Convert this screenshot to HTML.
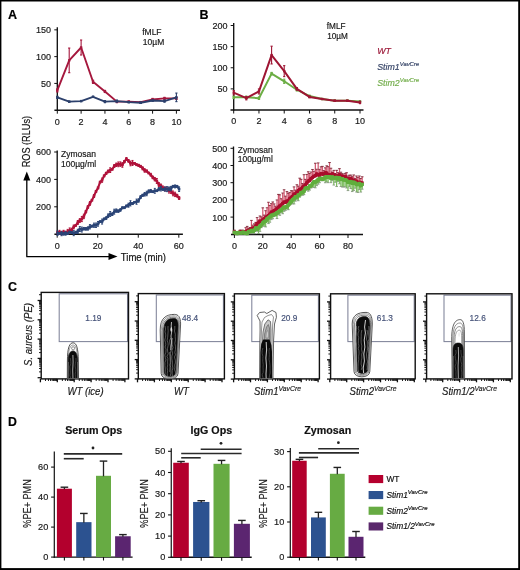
<!DOCTYPE html>
<html><head><meta charset="utf-8"><style>
html,body{margin:0;padding:0;background:#fff;}
svg{display:block;font-family:"Liberation Sans", sans-serif;filter:blur(0.5px);}
</style></head><body>
<svg width="520" height="570" viewBox="0 0 520 570">
<rect x="0" y="0" width="520" height="570" fill="#fff"/>
<text x="8.00" y="18.70" font-size="12.5" text-anchor="start" font-weight="bold" font-style="normal" fill="#000" stroke="#000" stroke-width="0.18" >A</text>
<text x="199.50" y="18.60" font-size="12.5" text-anchor="start" font-weight="bold" font-style="normal" fill="#000" stroke="#000" stroke-width="0.18" >B</text>
<text x="8.10" y="291.30" font-size="12.4" text-anchor="start" font-weight="bold" font-style="normal" fill="#000" stroke="#000" stroke-width="0.18" >C</text>
<text x="8.00" y="426.00" font-size="12.3" text-anchor="start" font-weight="bold" font-style="normal" fill="#000" stroke="#000" stroke-width="0.18" >D</text>
<line x1="57.30" y1="27.30" x2="57.30" y2="110.70" stroke="#111" stroke-width="1.35" />
<line x1="54.30" y1="29.85" x2="57.30" y2="29.85" stroke="#111" stroke-width="1.0" />
<text x="51.10" y="33.25" font-size="9" text-anchor="end" font-weight="normal" font-style="normal" fill="#1a1a1a" stroke="#1a1a1a" stroke-width="0.18" >150</text>
<line x1="54.30" y1="56.63" x2="57.30" y2="56.63" stroke="#111" stroke-width="1.0" />
<text x="51.10" y="60.03" font-size="9" text-anchor="end" font-weight="normal" font-style="normal" fill="#1a1a1a" stroke="#1a1a1a" stroke-width="0.18" >100</text>
<line x1="54.30" y1="83.42" x2="57.30" y2="83.42" stroke="#111" stroke-width="1.0" />
<text x="51.10" y="86.82" font-size="9" text-anchor="end" font-weight="normal" font-style="normal" fill="#1a1a1a" stroke="#1a1a1a" stroke-width="0.18" >50</text>
<line x1="54.40" y1="110.20" x2="180.00" y2="110.20" stroke="#111" stroke-width="1.4" />
<line x1="57.30" y1="110.20" x2="57.30" y2="113.70" stroke="#111" stroke-width="1.0" />
<text x="57.30" y="124.50" font-size="9" text-anchor="middle" font-weight="normal" font-style="normal" fill="#1a1a1a" stroke="#1a1a1a" stroke-width="0.18" >0</text>
<line x1="81.12" y1="110.20" x2="81.12" y2="113.70" stroke="#111" stroke-width="1.0" />
<text x="81.12" y="124.50" font-size="9" text-anchor="middle" font-weight="normal" font-style="normal" fill="#1a1a1a" stroke="#1a1a1a" stroke-width="0.18" >2</text>
<line x1="104.94" y1="110.20" x2="104.94" y2="113.70" stroke="#111" stroke-width="1.0" />
<text x="104.94" y="124.50" font-size="9" text-anchor="middle" font-weight="normal" font-style="normal" fill="#1a1a1a" stroke="#1a1a1a" stroke-width="0.18" >4</text>
<line x1="128.76" y1="110.20" x2="128.76" y2="113.70" stroke="#111" stroke-width="1.0" />
<text x="128.76" y="124.50" font-size="9" text-anchor="middle" font-weight="normal" font-style="normal" fill="#1a1a1a" stroke="#1a1a1a" stroke-width="0.18" >6</text>
<line x1="152.58" y1="110.20" x2="152.58" y2="113.70" stroke="#111" stroke-width="1.0" />
<text x="152.58" y="124.50" font-size="9" text-anchor="middle" font-weight="normal" font-style="normal" fill="#1a1a1a" stroke="#1a1a1a" stroke-width="0.18" >8</text>
<line x1="176.40" y1="110.20" x2="176.40" y2="113.70" stroke="#111" stroke-width="1.0" />
<text x="176.40" y="124.50" font-size="9" text-anchor="middle" font-weight="normal" font-style="normal" fill="#1a1a1a" stroke="#1a1a1a" stroke-width="0.18" >10</text>
<polyline points="57.30,90.38 69.21,60.38 81.12,47.52 93.03,81.81 104.94,91.45 116.85,101.63 128.76,101.63 140.67,102.16 152.58,99.49 164.49,98.41 176.40,98.41" fill="none" stroke="#a5173d" stroke-width="1.9" stroke-linejoin="round" />
<line x1="57.30" y1="88.77" x2="57.30" y2="91.99" stroke="#a5173d" stroke-width="1.1" />
<line x1="56.20" y1="88.77" x2="58.40" y2="88.77" stroke="#a5173d" stroke-width="1.1" />
<line x1="56.20" y1="91.99" x2="58.40" y2="91.99" stroke="#a5173d" stroke-width="1.1" />
<line x1="69.21" y1="48.06" x2="69.21" y2="72.70" stroke="#a5173d" stroke-width="1.1" />
<line x1="68.11" y1="48.06" x2="70.31" y2="48.06" stroke="#a5173d" stroke-width="1.1" />
<line x1="68.11" y1="72.70" x2="70.31" y2="72.70" stroke="#a5173d" stroke-width="1.1" />
<line x1="81.12" y1="40.02" x2="81.12" y2="55.02" stroke="#a5173d" stroke-width="1.1" />
<line x1="80.02" y1="40.02" x2="82.22" y2="40.02" stroke="#a5173d" stroke-width="1.1" />
<line x1="80.02" y1="55.02" x2="82.22" y2="55.02" stroke="#a5173d" stroke-width="1.1" />
<line x1="93.03" y1="80.20" x2="93.03" y2="83.42" stroke="#a5173d" stroke-width="1.1" />
<line x1="91.93" y1="80.20" x2="94.13" y2="80.20" stroke="#a5173d" stroke-width="1.1" />
<line x1="91.93" y1="83.42" x2="94.13" y2="83.42" stroke="#a5173d" stroke-width="1.1" />
<line x1="104.94" y1="90.38" x2="104.94" y2="92.52" stroke="#a5173d" stroke-width="1.1" />
<line x1="103.84" y1="90.38" x2="106.04" y2="90.38" stroke="#a5173d" stroke-width="1.1" />
<line x1="103.84" y1="92.52" x2="106.04" y2="92.52" stroke="#a5173d" stroke-width="1.1" />
<line x1="116.85" y1="100.56" x2="116.85" y2="102.70" stroke="#a5173d" stroke-width="1.1" />
<line x1="115.75" y1="100.56" x2="117.95" y2="100.56" stroke="#a5173d" stroke-width="1.1" />
<line x1="115.75" y1="102.70" x2="117.95" y2="102.70" stroke="#a5173d" stroke-width="1.1" />
<line x1="128.76" y1="101.09" x2="128.76" y2="102.16" stroke="#a5173d" stroke-width="1.1" />
<line x1="127.66" y1="101.09" x2="129.86" y2="101.09" stroke="#a5173d" stroke-width="1.1" />
<line x1="127.66" y1="102.16" x2="129.86" y2="102.16" stroke="#a5173d" stroke-width="1.1" />
<line x1="140.67" y1="101.63" x2="140.67" y2="102.70" stroke="#a5173d" stroke-width="1.1" />
<line x1="139.57" y1="101.63" x2="141.77" y2="101.63" stroke="#a5173d" stroke-width="1.1" />
<line x1="139.57" y1="102.70" x2="141.77" y2="102.70" stroke="#a5173d" stroke-width="1.1" />
<line x1="152.58" y1="98.41" x2="152.58" y2="100.56" stroke="#a5173d" stroke-width="1.1" />
<line x1="151.48" y1="98.41" x2="153.68" y2="98.41" stroke="#a5173d" stroke-width="1.1" />
<line x1="151.48" y1="100.56" x2="153.68" y2="100.56" stroke="#a5173d" stroke-width="1.1" />
<line x1="164.49" y1="97.34" x2="164.49" y2="99.49" stroke="#a5173d" stroke-width="1.1" />
<line x1="163.39" y1="97.34" x2="165.59" y2="97.34" stroke="#a5173d" stroke-width="1.1" />
<line x1="163.39" y1="99.49" x2="165.59" y2="99.49" stroke="#a5173d" stroke-width="1.1" />
<line x1="176.40" y1="97.34" x2="176.40" y2="99.49" stroke="#a5173d" stroke-width="1.1" />
<line x1="175.30" y1="97.34" x2="177.50" y2="97.34" stroke="#a5173d" stroke-width="1.1" />
<line x1="175.30" y1="99.49" x2="177.50" y2="99.49" stroke="#a5173d" stroke-width="1.1" />
<rect x="56.10" y="89.18" width="2.4" height="2.4" fill="#a5173d"/>
<rect x="68.01" y="59.18" width="2.4" height="2.4" fill="#a5173d"/>
<rect x="79.92" y="46.32" width="2.4" height="2.4" fill="#a5173d"/>
<rect x="91.83" y="80.61" width="2.4" height="2.4" fill="#a5173d"/>
<rect x="103.74" y="90.25" width="2.4" height="2.4" fill="#a5173d"/>
<rect x="115.65" y="100.43" width="2.4" height="2.4" fill="#a5173d"/>
<rect x="127.56" y="100.43" width="2.4" height="2.4" fill="#a5173d"/>
<rect x="139.47" y="100.96" width="2.4" height="2.4" fill="#a5173d"/>
<rect x="151.38" y="98.29" width="2.4" height="2.4" fill="#a5173d"/>
<rect x="163.29" y="97.21" width="2.4" height="2.4" fill="#a5173d"/>
<rect x="175.20" y="97.21" width="2.4" height="2.4" fill="#a5173d"/>
<polyline points="57.30,97.34 69.21,101.63 81.12,101.09 93.03,96.81 104.94,101.63 116.85,101.09 128.76,102.16 140.67,102.70 152.58,100.56 164.49,101.09 176.40,97.34" fill="none" stroke="#2c406c" stroke-width="1.9" stroke-linejoin="round" />
<line x1="57.30" y1="96.27" x2="57.30" y2="98.41" stroke="#2c406c" stroke-width="1.1" />
<line x1="56.20" y1="96.27" x2="58.40" y2="96.27" stroke="#2c406c" stroke-width="1.1" />
<line x1="56.20" y1="98.41" x2="58.40" y2="98.41" stroke="#2c406c" stroke-width="1.1" />
<line x1="69.21" y1="101.09" x2="69.21" y2="102.16" stroke="#2c406c" stroke-width="1.1" />
<line x1="68.11" y1="101.09" x2="70.31" y2="101.09" stroke="#2c406c" stroke-width="1.1" />
<line x1="68.11" y1="102.16" x2="70.31" y2="102.16" stroke="#2c406c" stroke-width="1.1" />
<line x1="81.12" y1="100.56" x2="81.12" y2="101.63" stroke="#2c406c" stroke-width="1.1" />
<line x1="80.02" y1="100.56" x2="82.22" y2="100.56" stroke="#2c406c" stroke-width="1.1" />
<line x1="80.02" y1="101.63" x2="82.22" y2="101.63" stroke="#2c406c" stroke-width="1.1" />
<line x1="93.03" y1="96.27" x2="93.03" y2="97.34" stroke="#2c406c" stroke-width="1.1" />
<line x1="91.93" y1="96.27" x2="94.13" y2="96.27" stroke="#2c406c" stroke-width="1.1" />
<line x1="91.93" y1="97.34" x2="94.13" y2="97.34" stroke="#2c406c" stroke-width="1.1" />
<line x1="104.94" y1="100.56" x2="104.94" y2="102.70" stroke="#2c406c" stroke-width="1.1" />
<line x1="103.84" y1="100.56" x2="106.04" y2="100.56" stroke="#2c406c" stroke-width="1.1" />
<line x1="103.84" y1="102.70" x2="106.04" y2="102.70" stroke="#2c406c" stroke-width="1.1" />
<line x1="116.85" y1="100.02" x2="116.85" y2="102.16" stroke="#2c406c" stroke-width="1.1" />
<line x1="115.75" y1="100.02" x2="117.95" y2="100.02" stroke="#2c406c" stroke-width="1.1" />
<line x1="115.75" y1="102.16" x2="117.95" y2="102.16" stroke="#2c406c" stroke-width="1.1" />
<line x1="128.76" y1="101.63" x2="128.76" y2="102.70" stroke="#2c406c" stroke-width="1.1" />
<line x1="127.66" y1="101.63" x2="129.86" y2="101.63" stroke="#2c406c" stroke-width="1.1" />
<line x1="127.66" y1="102.70" x2="129.86" y2="102.70" stroke="#2c406c" stroke-width="1.1" />
<line x1="140.67" y1="102.16" x2="140.67" y2="103.24" stroke="#2c406c" stroke-width="1.1" />
<line x1="139.57" y1="102.16" x2="141.77" y2="102.16" stroke="#2c406c" stroke-width="1.1" />
<line x1="139.57" y1="103.24" x2="141.77" y2="103.24" stroke="#2c406c" stroke-width="1.1" />
<line x1="152.58" y1="100.02" x2="152.58" y2="101.09" stroke="#2c406c" stroke-width="1.1" />
<line x1="151.48" y1="100.02" x2="153.68" y2="100.02" stroke="#2c406c" stroke-width="1.1" />
<line x1="151.48" y1="101.09" x2="153.68" y2="101.09" stroke="#2c406c" stroke-width="1.1" />
<line x1="164.49" y1="100.02" x2="164.49" y2="102.16" stroke="#2c406c" stroke-width="1.1" />
<line x1="163.39" y1="100.02" x2="165.59" y2="100.02" stroke="#2c406c" stroke-width="1.1" />
<line x1="163.39" y1="102.16" x2="165.59" y2="102.16" stroke="#2c406c" stroke-width="1.1" />
<line x1="176.40" y1="93.06" x2="176.40" y2="101.63" stroke="#2c406c" stroke-width="1.1" />
<line x1="175.30" y1="93.06" x2="177.50" y2="93.06" stroke="#2c406c" stroke-width="1.1" />
<line x1="175.30" y1="101.63" x2="177.50" y2="101.63" stroke="#2c406c" stroke-width="1.1" />
<rect x="56.10" y="96.14" width="2.4" height="2.4" fill="#2c406c"/>
<rect x="68.01" y="100.43" width="2.4" height="2.4" fill="#2c406c"/>
<rect x="79.92" y="99.89" width="2.4" height="2.4" fill="#2c406c"/>
<rect x="91.83" y="95.61" width="2.4" height="2.4" fill="#2c406c"/>
<rect x="103.74" y="100.43" width="2.4" height="2.4" fill="#2c406c"/>
<rect x="115.65" y="99.89" width="2.4" height="2.4" fill="#2c406c"/>
<rect x="127.56" y="100.96" width="2.4" height="2.4" fill="#2c406c"/>
<rect x="139.47" y="101.50" width="2.4" height="2.4" fill="#2c406c"/>
<rect x="151.38" y="99.36" width="2.4" height="2.4" fill="#2c406c"/>
<rect x="163.29" y="99.89" width="2.4" height="2.4" fill="#2c406c"/>
<rect x="175.20" y="96.14" width="2.4" height="2.4" fill="#2c406c"/>
<text x="142.20" y="34.60" font-size="8.5" text-anchor="start" font-weight="normal" font-style="normal" fill="#1a1a1a" stroke="#1a1a1a" stroke-width="0.18" >fMLF</text>
<text x="142.80" y="44.90" font-size="8.5" text-anchor="start" font-weight="normal" font-style="normal" fill="#1a1a1a" stroke="#1a1a1a" stroke-width="0.18" >10&#181;M</text>
<line x1="57.20" y1="150.50" x2="57.20" y2="234.70" stroke="#111" stroke-width="1.35" />
<line x1="54.20" y1="152.00" x2="57.20" y2="152.00" stroke="#111" stroke-width="1.0" />
<text x="51.00" y="155.40" font-size="9" text-anchor="end" font-weight="normal" font-style="normal" fill="#1a1a1a" stroke="#1a1a1a" stroke-width="0.18" >600</text>
<line x1="54.20" y1="179.40" x2="57.20" y2="179.40" stroke="#111" stroke-width="1.0" />
<text x="51.00" y="182.80" font-size="9" text-anchor="end" font-weight="normal" font-style="normal" fill="#1a1a1a" stroke="#1a1a1a" stroke-width="0.18" >400</text>
<line x1="54.20" y1="206.80" x2="57.20" y2="206.80" stroke="#111" stroke-width="1.0" />
<text x="51.00" y="210.20" font-size="9" text-anchor="end" font-weight="normal" font-style="normal" fill="#1a1a1a" stroke="#1a1a1a" stroke-width="0.18" >200</text>
<line x1="54.40" y1="234.20" x2="182.90" y2="234.20" stroke="#111" stroke-width="1.4" />
<line x1="57.20" y1="234.20" x2="57.20" y2="237.70" stroke="#111" stroke-width="1.0" />
<text x="57.20" y="248.50" font-size="9" text-anchor="middle" font-weight="normal" font-style="normal" fill="#1a1a1a" stroke="#1a1a1a" stroke-width="0.18" >0</text>
<line x1="97.74" y1="234.20" x2="97.74" y2="237.70" stroke="#111" stroke-width="1.0" />
<text x="97.74" y="248.50" font-size="9" text-anchor="middle" font-weight="normal" font-style="normal" fill="#1a1a1a" stroke="#1a1a1a" stroke-width="0.18" >20</text>
<line x1="138.28" y1="234.20" x2="138.28" y2="237.70" stroke="#111" stroke-width="1.0" />
<text x="138.28" y="248.50" font-size="9" text-anchor="middle" font-weight="normal" font-style="normal" fill="#1a1a1a" stroke="#1a1a1a" stroke-width="0.18" >40</text>
<line x1="178.82" y1="234.20" x2="178.82" y2="237.70" stroke="#111" stroke-width="1.0" />
<text x="178.82" y="248.50" font-size="9" text-anchor="middle" font-weight="normal" font-style="normal" fill="#1a1a1a" stroke="#1a1a1a" stroke-width="0.18" >60</text>
<polyline points="57.50,232.68 59.53,232.32 61.55,233.16 63.58,232.07 65.61,232.66 67.64,231.68 69.66,230.45 71.69,229.76 73.72,226.94 75.74,225.37 77.77,222.53 79.80,220.50 81.82,219.02 83.85,216.40 85.88,211.73 87.91,207.00 89.93,203.41 91.96,200.15 93.99,196.04 96.01,191.38 98.04,187.94 100.07,182.07 102.09,180.16 104.12,175.87 106.15,173.32 108.18,171.39 110.20,170.15 112.23,169.26 114.26,166.04 116.28,164.79 118.31,164.35 120.34,164.13 122.36,164.95 124.39,161.65 126.42,158.96 128.44,160.85 130.47,163.44 132.50,162.96 134.53,163.40 136.55,164.69 138.58,165.32 140.61,166.40 142.63,168.34 144.66,170.43 146.69,171.05 148.72,173.03 150.74,174.73 152.77,177.41 154.80,179.20 156.82,180.97 158.85,184.55 160.88,185.69 162.90,187.87 164.93,188.95 166.96,188.81 168.99,190.66 171.01,191.24 173.04,193.44 175.07,194.39 177.09,195.70 179.12,198.08" fill="none" stroke="#b0123a" stroke-width="2.1" stroke-linejoin="round" />
<line x1="57.50" y1="231.46" x2="57.50" y2="233.91" stroke="#b0123a" stroke-width="1.0" />
<line x1="56.50" y1="231.46" x2="58.50" y2="231.46" stroke="#b0123a" stroke-width="1.0" />
<line x1="56.50" y1="233.91" x2="58.50" y2="233.91" stroke="#b0123a" stroke-width="1.0" />
<line x1="59.53" y1="230.33" x2="59.53" y2="234.31" stroke="#b0123a" stroke-width="1.0" />
<line x1="58.53" y1="230.33" x2="60.53" y2="230.33" stroke="#b0123a" stroke-width="1.0" />
<line x1="58.53" y1="234.31" x2="60.53" y2="234.31" stroke="#b0123a" stroke-width="1.0" />
<line x1="61.55" y1="231.37" x2="61.55" y2="234.95" stroke="#b0123a" stroke-width="1.0" />
<line x1="60.55" y1="231.37" x2="62.55" y2="231.37" stroke="#b0123a" stroke-width="1.0" />
<line x1="60.55" y1="234.95" x2="62.55" y2="234.95" stroke="#b0123a" stroke-width="1.0" />
<line x1="63.58" y1="230.31" x2="63.58" y2="233.83" stroke="#b0123a" stroke-width="1.0" />
<line x1="62.58" y1="230.31" x2="64.58" y2="230.31" stroke="#b0123a" stroke-width="1.0" />
<line x1="62.58" y1="233.83" x2="64.58" y2="233.83" stroke="#b0123a" stroke-width="1.0" />
<line x1="65.61" y1="231.15" x2="65.61" y2="234.17" stroke="#b0123a" stroke-width="1.0" />
<line x1="64.61" y1="231.15" x2="66.61" y2="231.15" stroke="#b0123a" stroke-width="1.0" />
<line x1="64.61" y1="234.17" x2="66.61" y2="234.17" stroke="#b0123a" stroke-width="1.0" />
<line x1="67.64" y1="229.40" x2="67.64" y2="233.96" stroke="#b0123a" stroke-width="1.0" />
<line x1="66.64" y1="229.40" x2="68.64" y2="229.40" stroke="#b0123a" stroke-width="1.0" />
<line x1="66.64" y1="233.96" x2="68.64" y2="233.96" stroke="#b0123a" stroke-width="1.0" />
<line x1="69.66" y1="227.96" x2="69.66" y2="232.94" stroke="#b0123a" stroke-width="1.0" />
<line x1="68.66" y1="227.96" x2="70.66" y2="227.96" stroke="#b0123a" stroke-width="1.0" />
<line x1="68.66" y1="232.94" x2="70.66" y2="232.94" stroke="#b0123a" stroke-width="1.0" />
<line x1="71.69" y1="228.21" x2="71.69" y2="231.31" stroke="#b0123a" stroke-width="1.0" />
<line x1="70.69" y1="228.21" x2="72.69" y2="228.21" stroke="#b0123a" stroke-width="1.0" />
<line x1="70.69" y1="231.31" x2="72.69" y2="231.31" stroke="#b0123a" stroke-width="1.0" />
<line x1="73.72" y1="225.02" x2="73.72" y2="228.87" stroke="#b0123a" stroke-width="1.0" />
<line x1="72.72" y1="225.02" x2="74.72" y2="225.02" stroke="#b0123a" stroke-width="1.0" />
<line x1="72.72" y1="228.87" x2="74.72" y2="228.87" stroke="#b0123a" stroke-width="1.0" />
<line x1="75.74" y1="224.65" x2="75.74" y2="226.09" stroke="#b0123a" stroke-width="1.0" />
<line x1="74.74" y1="224.65" x2="76.74" y2="224.65" stroke="#b0123a" stroke-width="1.0" />
<line x1="74.74" y1="226.09" x2="76.74" y2="226.09" stroke="#b0123a" stroke-width="1.0" />
<line x1="77.77" y1="220.53" x2="77.77" y2="224.54" stroke="#b0123a" stroke-width="1.0" />
<line x1="76.77" y1="220.53" x2="78.77" y2="220.53" stroke="#b0123a" stroke-width="1.0" />
<line x1="76.77" y1="224.54" x2="78.77" y2="224.54" stroke="#b0123a" stroke-width="1.0" />
<line x1="79.80" y1="218.61" x2="79.80" y2="222.40" stroke="#b0123a" stroke-width="1.0" />
<line x1="78.80" y1="218.61" x2="80.80" y2="218.61" stroke="#b0123a" stroke-width="1.0" />
<line x1="78.80" y1="222.40" x2="80.80" y2="222.40" stroke="#b0123a" stroke-width="1.0" />
<line x1="81.82" y1="216.44" x2="81.82" y2="221.61" stroke="#b0123a" stroke-width="1.0" />
<line x1="80.82" y1="216.44" x2="82.82" y2="216.44" stroke="#b0123a" stroke-width="1.0" />
<line x1="80.82" y1="221.61" x2="82.82" y2="221.61" stroke="#b0123a" stroke-width="1.0" />
<line x1="83.85" y1="214.16" x2="83.85" y2="218.65" stroke="#b0123a" stroke-width="1.0" />
<line x1="82.85" y1="214.16" x2="84.85" y2="214.16" stroke="#b0123a" stroke-width="1.0" />
<line x1="82.85" y1="218.65" x2="84.85" y2="218.65" stroke="#b0123a" stroke-width="1.0" />
<line x1="85.88" y1="210.56" x2="85.88" y2="212.90" stroke="#b0123a" stroke-width="1.0" />
<line x1="84.88" y1="210.56" x2="86.88" y2="210.56" stroke="#b0123a" stroke-width="1.0" />
<line x1="84.88" y1="212.90" x2="86.88" y2="212.90" stroke="#b0123a" stroke-width="1.0" />
<line x1="87.91" y1="205.63" x2="87.91" y2="208.37" stroke="#b0123a" stroke-width="1.0" />
<line x1="86.91" y1="205.63" x2="88.91" y2="205.63" stroke="#b0123a" stroke-width="1.0" />
<line x1="86.91" y1="208.37" x2="88.91" y2="208.37" stroke="#b0123a" stroke-width="1.0" />
<line x1="89.93" y1="201.47" x2="89.93" y2="205.35" stroke="#b0123a" stroke-width="1.0" />
<line x1="88.93" y1="201.47" x2="90.93" y2="201.47" stroke="#b0123a" stroke-width="1.0" />
<line x1="88.93" y1="205.35" x2="90.93" y2="205.35" stroke="#b0123a" stroke-width="1.0" />
<line x1="91.96" y1="199.50" x2="91.96" y2="200.79" stroke="#b0123a" stroke-width="1.0" />
<line x1="90.96" y1="199.50" x2="92.96" y2="199.50" stroke="#b0123a" stroke-width="1.0" />
<line x1="90.96" y1="200.79" x2="92.96" y2="200.79" stroke="#b0123a" stroke-width="1.0" />
<line x1="93.99" y1="194.52" x2="93.99" y2="197.56" stroke="#b0123a" stroke-width="1.0" />
<line x1="92.99" y1="194.52" x2="94.99" y2="194.52" stroke="#b0123a" stroke-width="1.0" />
<line x1="92.99" y1="197.56" x2="94.99" y2="197.56" stroke="#b0123a" stroke-width="1.0" />
<line x1="96.01" y1="190.45" x2="96.01" y2="192.32" stroke="#b0123a" stroke-width="1.0" />
<line x1="95.01" y1="190.45" x2="97.01" y2="190.45" stroke="#b0123a" stroke-width="1.0" />
<line x1="95.01" y1="192.32" x2="97.01" y2="192.32" stroke="#b0123a" stroke-width="1.0" />
<line x1="98.04" y1="187.11" x2="98.04" y2="188.77" stroke="#b0123a" stroke-width="1.0" />
<line x1="97.04" y1="187.11" x2="99.04" y2="187.11" stroke="#b0123a" stroke-width="1.0" />
<line x1="97.04" y1="188.77" x2="99.04" y2="188.77" stroke="#b0123a" stroke-width="1.0" />
<line x1="100.07" y1="181.35" x2="100.07" y2="182.79" stroke="#b0123a" stroke-width="1.0" />
<line x1="99.07" y1="181.35" x2="101.07" y2="181.35" stroke="#b0123a" stroke-width="1.0" />
<line x1="99.07" y1="182.79" x2="101.07" y2="182.79" stroke="#b0123a" stroke-width="1.0" />
<line x1="102.09" y1="178.02" x2="102.09" y2="182.29" stroke="#b0123a" stroke-width="1.0" />
<line x1="101.09" y1="178.02" x2="103.09" y2="178.02" stroke="#b0123a" stroke-width="1.0" />
<line x1="101.09" y1="182.29" x2="103.09" y2="182.29" stroke="#b0123a" stroke-width="1.0" />
<line x1="104.12" y1="175.01" x2="104.12" y2="176.73" stroke="#b0123a" stroke-width="1.0" />
<line x1="103.12" y1="175.01" x2="105.12" y2="175.01" stroke="#b0123a" stroke-width="1.0" />
<line x1="103.12" y1="176.73" x2="105.12" y2="176.73" stroke="#b0123a" stroke-width="1.0" />
<line x1="106.15" y1="172.23" x2="106.15" y2="174.42" stroke="#b0123a" stroke-width="1.0" />
<line x1="105.15" y1="172.23" x2="107.15" y2="172.23" stroke="#b0123a" stroke-width="1.0" />
<line x1="105.15" y1="174.42" x2="107.15" y2="174.42" stroke="#b0123a" stroke-width="1.0" />
<line x1="108.18" y1="170.01" x2="108.18" y2="172.78" stroke="#b0123a" stroke-width="1.0" />
<line x1="107.18" y1="170.01" x2="109.18" y2="170.01" stroke="#b0123a" stroke-width="1.0" />
<line x1="107.18" y1="172.78" x2="109.18" y2="172.78" stroke="#b0123a" stroke-width="1.0" />
<line x1="110.20" y1="167.81" x2="110.20" y2="172.50" stroke="#b0123a" stroke-width="1.0" />
<line x1="109.20" y1="167.81" x2="111.20" y2="167.81" stroke="#b0123a" stroke-width="1.0" />
<line x1="109.20" y1="172.50" x2="111.20" y2="172.50" stroke="#b0123a" stroke-width="1.0" />
<line x1="112.23" y1="168.50" x2="112.23" y2="170.02" stroke="#b0123a" stroke-width="1.0" />
<line x1="111.23" y1="168.50" x2="113.23" y2="168.50" stroke="#b0123a" stroke-width="1.0" />
<line x1="111.23" y1="170.02" x2="113.23" y2="170.02" stroke="#b0123a" stroke-width="1.0" />
<line x1="114.26" y1="164.55" x2="114.26" y2="167.54" stroke="#b0123a" stroke-width="1.0" />
<line x1="113.26" y1="164.55" x2="115.26" y2="164.55" stroke="#b0123a" stroke-width="1.0" />
<line x1="113.26" y1="167.54" x2="115.26" y2="167.54" stroke="#b0123a" stroke-width="1.0" />
<line x1="116.28" y1="163.09" x2="116.28" y2="166.49" stroke="#b0123a" stroke-width="1.0" />
<line x1="115.28" y1="163.09" x2="117.28" y2="163.09" stroke="#b0123a" stroke-width="1.0" />
<line x1="115.28" y1="166.49" x2="117.28" y2="166.49" stroke="#b0123a" stroke-width="1.0" />
<line x1="118.31" y1="161.98" x2="118.31" y2="166.71" stroke="#b0123a" stroke-width="1.0" />
<line x1="117.31" y1="161.98" x2="119.31" y2="161.98" stroke="#b0123a" stroke-width="1.0" />
<line x1="117.31" y1="166.71" x2="119.31" y2="166.71" stroke="#b0123a" stroke-width="1.0" />
<line x1="120.34" y1="161.89" x2="120.34" y2="166.37" stroke="#b0123a" stroke-width="1.0" />
<line x1="119.34" y1="161.89" x2="121.34" y2="161.89" stroke="#b0123a" stroke-width="1.0" />
<line x1="119.34" y1="166.37" x2="121.34" y2="166.37" stroke="#b0123a" stroke-width="1.0" />
<line x1="122.36" y1="162.62" x2="122.36" y2="167.28" stroke="#b0123a" stroke-width="1.0" />
<line x1="121.36" y1="162.62" x2="123.36" y2="162.62" stroke="#b0123a" stroke-width="1.0" />
<line x1="121.36" y1="167.28" x2="123.36" y2="167.28" stroke="#b0123a" stroke-width="1.0" />
<line x1="124.39" y1="160.49" x2="124.39" y2="162.81" stroke="#b0123a" stroke-width="1.0" />
<line x1="123.39" y1="160.49" x2="125.39" y2="160.49" stroke="#b0123a" stroke-width="1.0" />
<line x1="123.39" y1="162.81" x2="125.39" y2="162.81" stroke="#b0123a" stroke-width="1.0" />
<line x1="126.42" y1="157.53" x2="126.42" y2="160.39" stroke="#b0123a" stroke-width="1.0" />
<line x1="125.42" y1="157.53" x2="127.42" y2="157.53" stroke="#b0123a" stroke-width="1.0" />
<line x1="125.42" y1="160.39" x2="127.42" y2="160.39" stroke="#b0123a" stroke-width="1.0" />
<line x1="128.44" y1="159.53" x2="128.44" y2="162.17" stroke="#b0123a" stroke-width="1.0" />
<line x1="127.44" y1="159.53" x2="129.44" y2="159.53" stroke="#b0123a" stroke-width="1.0" />
<line x1="127.44" y1="162.17" x2="129.44" y2="162.17" stroke="#b0123a" stroke-width="1.0" />
<line x1="130.47" y1="161.08" x2="130.47" y2="165.81" stroke="#b0123a" stroke-width="1.0" />
<line x1="129.47" y1="161.08" x2="131.47" y2="161.08" stroke="#b0123a" stroke-width="1.0" />
<line x1="129.47" y1="165.81" x2="131.47" y2="165.81" stroke="#b0123a" stroke-width="1.0" />
<line x1="132.50" y1="160.45" x2="132.50" y2="165.48" stroke="#b0123a" stroke-width="1.0" />
<line x1="131.50" y1="160.45" x2="133.50" y2="160.45" stroke="#b0123a" stroke-width="1.0" />
<line x1="131.50" y1="165.48" x2="133.50" y2="165.48" stroke="#b0123a" stroke-width="1.0" />
<line x1="134.53" y1="162.50" x2="134.53" y2="164.30" stroke="#b0123a" stroke-width="1.0" />
<line x1="133.53" y1="162.50" x2="135.53" y2="162.50" stroke="#b0123a" stroke-width="1.0" />
<line x1="133.53" y1="164.30" x2="135.53" y2="164.30" stroke="#b0123a" stroke-width="1.0" />
<line x1="136.55" y1="163.74" x2="136.55" y2="165.64" stroke="#b0123a" stroke-width="1.0" />
<line x1="135.55" y1="163.74" x2="137.55" y2="163.74" stroke="#b0123a" stroke-width="1.0" />
<line x1="135.55" y1="165.64" x2="137.55" y2="165.64" stroke="#b0123a" stroke-width="1.0" />
<line x1="138.58" y1="164.26" x2="138.58" y2="166.38" stroke="#b0123a" stroke-width="1.0" />
<line x1="137.58" y1="164.26" x2="139.58" y2="164.26" stroke="#b0123a" stroke-width="1.0" />
<line x1="137.58" y1="166.38" x2="139.58" y2="166.38" stroke="#b0123a" stroke-width="1.0" />
<line x1="140.61" y1="165.33" x2="140.61" y2="167.47" stroke="#b0123a" stroke-width="1.0" />
<line x1="139.61" y1="165.33" x2="141.61" y2="165.33" stroke="#b0123a" stroke-width="1.0" />
<line x1="139.61" y1="167.47" x2="141.61" y2="167.47" stroke="#b0123a" stroke-width="1.0" />
<line x1="142.63" y1="166.77" x2="142.63" y2="169.91" stroke="#b0123a" stroke-width="1.0" />
<line x1="141.63" y1="166.77" x2="143.63" y2="166.77" stroke="#b0123a" stroke-width="1.0" />
<line x1="141.63" y1="169.91" x2="143.63" y2="169.91" stroke="#b0123a" stroke-width="1.0" />
<line x1="144.66" y1="168.66" x2="144.66" y2="172.21" stroke="#b0123a" stroke-width="1.0" />
<line x1="143.66" y1="168.66" x2="145.66" y2="168.66" stroke="#b0123a" stroke-width="1.0" />
<line x1="143.66" y1="172.21" x2="145.66" y2="172.21" stroke="#b0123a" stroke-width="1.0" />
<line x1="146.69" y1="169.93" x2="146.69" y2="172.18" stroke="#b0123a" stroke-width="1.0" />
<line x1="145.69" y1="169.93" x2="147.69" y2="169.93" stroke="#b0123a" stroke-width="1.0" />
<line x1="145.69" y1="172.18" x2="147.69" y2="172.18" stroke="#b0123a" stroke-width="1.0" />
<line x1="148.72" y1="172.42" x2="148.72" y2="173.64" stroke="#b0123a" stroke-width="1.0" />
<line x1="147.72" y1="172.42" x2="149.72" y2="172.42" stroke="#b0123a" stroke-width="1.0" />
<line x1="147.72" y1="173.64" x2="149.72" y2="173.64" stroke="#b0123a" stroke-width="1.0" />
<line x1="150.74" y1="173.29" x2="150.74" y2="176.17" stroke="#b0123a" stroke-width="1.0" />
<line x1="149.74" y1="173.29" x2="151.74" y2="173.29" stroke="#b0123a" stroke-width="1.0" />
<line x1="149.74" y1="176.17" x2="151.74" y2="176.17" stroke="#b0123a" stroke-width="1.0" />
<line x1="152.77" y1="176.07" x2="152.77" y2="178.75" stroke="#b0123a" stroke-width="1.0" />
<line x1="151.77" y1="176.07" x2="153.77" y2="176.07" stroke="#b0123a" stroke-width="1.0" />
<line x1="151.77" y1="178.75" x2="153.77" y2="178.75" stroke="#b0123a" stroke-width="1.0" />
<line x1="154.80" y1="177.47" x2="154.80" y2="180.93" stroke="#b0123a" stroke-width="1.0" />
<line x1="153.80" y1="177.47" x2="155.80" y2="177.47" stroke="#b0123a" stroke-width="1.0" />
<line x1="153.80" y1="180.93" x2="155.80" y2="180.93" stroke="#b0123a" stroke-width="1.0" />
<line x1="156.82" y1="178.47" x2="156.82" y2="183.48" stroke="#b0123a" stroke-width="1.0" />
<line x1="155.82" y1="178.47" x2="157.82" y2="178.47" stroke="#b0123a" stroke-width="1.0" />
<line x1="155.82" y1="183.48" x2="157.82" y2="183.48" stroke="#b0123a" stroke-width="1.0" />
<line x1="158.85" y1="182.57" x2="158.85" y2="186.54" stroke="#b0123a" stroke-width="1.0" />
<line x1="157.85" y1="182.57" x2="159.85" y2="182.57" stroke="#b0123a" stroke-width="1.0" />
<line x1="157.85" y1="186.54" x2="159.85" y2="186.54" stroke="#b0123a" stroke-width="1.0" />
<line x1="160.88" y1="184.06" x2="160.88" y2="187.32" stroke="#b0123a" stroke-width="1.0" />
<line x1="159.88" y1="184.06" x2="161.88" y2="184.06" stroke="#b0123a" stroke-width="1.0" />
<line x1="159.88" y1="187.32" x2="161.88" y2="187.32" stroke="#b0123a" stroke-width="1.0" />
<line x1="162.90" y1="186.03" x2="162.90" y2="189.70" stroke="#b0123a" stroke-width="1.0" />
<line x1="161.90" y1="186.03" x2="163.90" y2="186.03" stroke="#b0123a" stroke-width="1.0" />
<line x1="161.90" y1="189.70" x2="163.90" y2="189.70" stroke="#b0123a" stroke-width="1.0" />
<line x1="164.93" y1="186.99" x2="164.93" y2="190.90" stroke="#b0123a" stroke-width="1.0" />
<line x1="163.93" y1="186.99" x2="165.93" y2="186.99" stroke="#b0123a" stroke-width="1.0" />
<line x1="163.93" y1="190.90" x2="165.93" y2="190.90" stroke="#b0123a" stroke-width="1.0" />
<line x1="166.96" y1="188.10" x2="166.96" y2="189.51" stroke="#b0123a" stroke-width="1.0" />
<line x1="165.96" y1="188.10" x2="167.96" y2="188.10" stroke="#b0123a" stroke-width="1.0" />
<line x1="165.96" y1="189.51" x2="167.96" y2="189.51" stroke="#b0123a" stroke-width="1.0" />
<line x1="168.99" y1="188.26" x2="168.99" y2="193.06" stroke="#b0123a" stroke-width="1.0" />
<line x1="167.99" y1="188.26" x2="169.99" y2="188.26" stroke="#b0123a" stroke-width="1.0" />
<line x1="167.99" y1="193.06" x2="169.99" y2="193.06" stroke="#b0123a" stroke-width="1.0" />
<line x1="171.01" y1="189.08" x2="171.01" y2="193.40" stroke="#b0123a" stroke-width="1.0" />
<line x1="170.01" y1="189.08" x2="172.01" y2="189.08" stroke="#b0123a" stroke-width="1.0" />
<line x1="170.01" y1="193.40" x2="172.01" y2="193.40" stroke="#b0123a" stroke-width="1.0" />
<line x1="173.04" y1="191.09" x2="173.04" y2="195.79" stroke="#b0123a" stroke-width="1.0" />
<line x1="172.04" y1="191.09" x2="174.04" y2="191.09" stroke="#b0123a" stroke-width="1.0" />
<line x1="172.04" y1="195.79" x2="174.04" y2="195.79" stroke="#b0123a" stroke-width="1.0" />
<line x1="175.07" y1="192.20" x2="175.07" y2="196.59" stroke="#b0123a" stroke-width="1.0" />
<line x1="174.07" y1="192.20" x2="176.07" y2="192.20" stroke="#b0123a" stroke-width="1.0" />
<line x1="174.07" y1="196.59" x2="176.07" y2="196.59" stroke="#b0123a" stroke-width="1.0" />
<line x1="177.09" y1="194.32" x2="177.09" y2="197.09" stroke="#b0123a" stroke-width="1.0" />
<line x1="176.09" y1="194.32" x2="178.09" y2="194.32" stroke="#b0123a" stroke-width="1.0" />
<line x1="176.09" y1="197.09" x2="178.09" y2="197.09" stroke="#b0123a" stroke-width="1.0" />
<line x1="179.12" y1="196.68" x2="179.12" y2="199.47" stroke="#b0123a" stroke-width="1.0" />
<line x1="178.12" y1="196.68" x2="180.12" y2="196.68" stroke="#b0123a" stroke-width="1.0" />
<line x1="178.12" y1="199.47" x2="180.12" y2="199.47" stroke="#b0123a" stroke-width="1.0" />
<rect x="56.20" y="231.38" width="2.60" height="2.60" fill="#b0123a"/>
<rect x="58.23" y="231.02" width="2.60" height="2.60" fill="#b0123a"/>
<rect x="60.25" y="231.86" width="2.60" height="2.60" fill="#b0123a"/>
<rect x="62.28" y="230.77" width="2.60" height="2.60" fill="#b0123a"/>
<rect x="64.31" y="231.36" width="2.60" height="2.60" fill="#b0123a"/>
<rect x="66.34" y="230.38" width="2.60" height="2.60" fill="#b0123a"/>
<rect x="68.36" y="229.15" width="2.60" height="2.60" fill="#b0123a"/>
<rect x="70.39" y="228.46" width="2.60" height="2.60" fill="#b0123a"/>
<rect x="72.42" y="225.64" width="2.60" height="2.60" fill="#b0123a"/>
<rect x="74.44" y="224.07" width="2.60" height="2.60" fill="#b0123a"/>
<rect x="76.47" y="221.23" width="2.60" height="2.60" fill="#b0123a"/>
<rect x="78.50" y="219.20" width="2.60" height="2.60" fill="#b0123a"/>
<rect x="80.52" y="217.72" width="2.60" height="2.60" fill="#b0123a"/>
<rect x="82.55" y="215.10" width="2.60" height="2.60" fill="#b0123a"/>
<rect x="84.58" y="210.43" width="2.60" height="2.60" fill="#b0123a"/>
<rect x="86.61" y="205.70" width="2.60" height="2.60" fill="#b0123a"/>
<rect x="88.63" y="202.11" width="2.60" height="2.60" fill="#b0123a"/>
<rect x="90.66" y="198.85" width="2.60" height="2.60" fill="#b0123a"/>
<rect x="92.69" y="194.74" width="2.60" height="2.60" fill="#b0123a"/>
<rect x="94.71" y="190.08" width="2.60" height="2.60" fill="#b0123a"/>
<rect x="96.74" y="186.64" width="2.60" height="2.60" fill="#b0123a"/>
<rect x="98.77" y="180.77" width="2.60" height="2.60" fill="#b0123a"/>
<rect x="100.79" y="178.86" width="2.60" height="2.60" fill="#b0123a"/>
<rect x="102.82" y="174.57" width="2.60" height="2.60" fill="#b0123a"/>
<rect x="104.85" y="172.02" width="2.60" height="2.60" fill="#b0123a"/>
<rect x="106.88" y="170.09" width="2.60" height="2.60" fill="#b0123a"/>
<rect x="108.90" y="168.85" width="2.60" height="2.60" fill="#b0123a"/>
<rect x="110.93" y="167.96" width="2.60" height="2.60" fill="#b0123a"/>
<rect x="112.96" y="164.74" width="2.60" height="2.60" fill="#b0123a"/>
<rect x="114.98" y="163.49" width="2.60" height="2.60" fill="#b0123a"/>
<rect x="117.01" y="163.05" width="2.60" height="2.60" fill="#b0123a"/>
<rect x="119.04" y="162.83" width="2.60" height="2.60" fill="#b0123a"/>
<rect x="121.06" y="163.65" width="2.60" height="2.60" fill="#b0123a"/>
<rect x="123.09" y="160.35" width="2.60" height="2.60" fill="#b0123a"/>
<rect x="125.12" y="157.66" width="2.60" height="2.60" fill="#b0123a"/>
<rect x="127.14" y="159.55" width="2.60" height="2.60" fill="#b0123a"/>
<rect x="129.17" y="162.14" width="2.60" height="2.60" fill="#b0123a"/>
<rect x="131.20" y="161.66" width="2.60" height="2.60" fill="#b0123a"/>
<rect x="133.23" y="162.10" width="2.60" height="2.60" fill="#b0123a"/>
<rect x="135.25" y="163.39" width="2.60" height="2.60" fill="#b0123a"/>
<rect x="137.28" y="164.02" width="2.60" height="2.60" fill="#b0123a"/>
<rect x="139.31" y="165.10" width="2.60" height="2.60" fill="#b0123a"/>
<rect x="141.33" y="167.04" width="2.60" height="2.60" fill="#b0123a"/>
<rect x="143.36" y="169.13" width="2.60" height="2.60" fill="#b0123a"/>
<rect x="145.39" y="169.75" width="2.60" height="2.60" fill="#b0123a"/>
<rect x="147.41" y="171.73" width="2.60" height="2.60" fill="#b0123a"/>
<rect x="149.44" y="173.43" width="2.60" height="2.60" fill="#b0123a"/>
<rect x="151.47" y="176.11" width="2.60" height="2.60" fill="#b0123a"/>
<rect x="153.50" y="177.90" width="2.60" height="2.60" fill="#b0123a"/>
<rect x="155.52" y="179.67" width="2.60" height="2.60" fill="#b0123a"/>
<rect x="157.55" y="183.25" width="2.60" height="2.60" fill="#b0123a"/>
<rect x="159.58" y="184.39" width="2.60" height="2.60" fill="#b0123a"/>
<rect x="161.60" y="186.57" width="2.60" height="2.60" fill="#b0123a"/>
<rect x="163.63" y="187.65" width="2.60" height="2.60" fill="#b0123a"/>
<rect x="165.66" y="187.51" width="2.60" height="2.60" fill="#b0123a"/>
<rect x="167.69" y="189.36" width="2.60" height="2.60" fill="#b0123a"/>
<rect x="169.71" y="189.94" width="2.60" height="2.60" fill="#b0123a"/>
<rect x="171.74" y="192.14" width="2.60" height="2.60" fill="#b0123a"/>
<rect x="173.77" y="193.09" width="2.60" height="2.60" fill="#b0123a"/>
<rect x="175.79" y="194.40" width="2.60" height="2.60" fill="#b0123a"/>
<rect x="177.82" y="196.78" width="2.60" height="2.60" fill="#b0123a"/>
<polyline points="57.50,233.22 59.53,233.44 61.55,233.53 63.58,233.80 65.61,233.41 67.64,233.67 69.66,231.99 71.69,232.60 73.72,233.15 75.74,232.31 77.77,231.42 79.80,229.05 81.82,229.54 83.85,228.73 85.88,228.85 87.91,228.49 89.93,226.74 91.96,226.14 93.99,225.21 96.01,225.25 98.04,223.85 100.07,221.59 102.09,221.56 104.12,218.92 106.15,218.10 108.18,215.72 110.20,214.00 112.23,214.22 114.26,211.67 116.28,210.63 118.31,211.13 120.34,209.99 122.36,207.80 124.39,207.80 126.42,205.99 128.44,205.21 130.47,203.33 132.50,203.64 134.53,202.19 136.55,201.69 138.58,200.57 140.61,197.05 142.63,195.30 144.66,194.26 146.69,193.48 148.72,191.37 150.74,190.90 152.77,191.79 154.80,190.83 156.82,190.83 158.85,189.14 160.88,188.67 162.90,189.36 164.93,189.10 166.96,189.14 168.99,188.84 171.01,188.56 173.04,186.22 175.07,186.41 177.09,186.32 179.12,189.15" fill="none" stroke="#2a4476" stroke-width="2.1" stroke-linejoin="round" />
<line x1="57.50" y1="230.93" x2="57.50" y2="235.51" stroke="#2a4476" stroke-width="1.0" />
<line x1="56.50" y1="230.93" x2="58.50" y2="230.93" stroke="#2a4476" stroke-width="1.0" />
<line x1="56.50" y1="235.51" x2="58.50" y2="235.51" stroke="#2a4476" stroke-width="1.0" />
<line x1="59.53" y1="232.80" x2="59.53" y2="234.07" stroke="#2a4476" stroke-width="1.0" />
<line x1="58.53" y1="232.80" x2="60.53" y2="232.80" stroke="#2a4476" stroke-width="1.0" />
<line x1="58.53" y1="234.07" x2="60.53" y2="234.07" stroke="#2a4476" stroke-width="1.0" />
<line x1="61.55" y1="231.36" x2="61.55" y2="235.71" stroke="#2a4476" stroke-width="1.0" />
<line x1="60.55" y1="231.36" x2="62.55" y2="231.36" stroke="#2a4476" stroke-width="1.0" />
<line x1="60.55" y1="235.71" x2="62.55" y2="235.71" stroke="#2a4476" stroke-width="1.0" />
<line x1="63.58" y1="232.46" x2="63.58" y2="235.13" stroke="#2a4476" stroke-width="1.0" />
<line x1="62.58" y1="232.46" x2="64.58" y2="232.46" stroke="#2a4476" stroke-width="1.0" />
<line x1="62.58" y1="235.13" x2="64.58" y2="235.13" stroke="#2a4476" stroke-width="1.0" />
<line x1="65.61" y1="231.65" x2="65.61" y2="235.17" stroke="#2a4476" stroke-width="1.0" />
<line x1="64.61" y1="231.65" x2="66.61" y2="231.65" stroke="#2a4476" stroke-width="1.0" />
<line x1="64.61" y1="235.17" x2="66.61" y2="235.17" stroke="#2a4476" stroke-width="1.0" />
<line x1="67.64" y1="233.05" x2="67.64" y2="234.29" stroke="#2a4476" stroke-width="1.0" />
<line x1="66.64" y1="233.05" x2="68.64" y2="233.05" stroke="#2a4476" stroke-width="1.0" />
<line x1="66.64" y1="234.29" x2="68.64" y2="234.29" stroke="#2a4476" stroke-width="1.0" />
<line x1="69.66" y1="231.30" x2="69.66" y2="232.68" stroke="#2a4476" stroke-width="1.0" />
<line x1="68.66" y1="231.30" x2="70.66" y2="231.30" stroke="#2a4476" stroke-width="1.0" />
<line x1="68.66" y1="232.68" x2="70.66" y2="232.68" stroke="#2a4476" stroke-width="1.0" />
<line x1="71.69" y1="231.64" x2="71.69" y2="233.56" stroke="#2a4476" stroke-width="1.0" />
<line x1="70.69" y1="231.64" x2="72.69" y2="231.64" stroke="#2a4476" stroke-width="1.0" />
<line x1="70.69" y1="233.56" x2="72.69" y2="233.56" stroke="#2a4476" stroke-width="1.0" />
<line x1="73.72" y1="230.64" x2="73.72" y2="235.66" stroke="#2a4476" stroke-width="1.0" />
<line x1="72.72" y1="230.64" x2="74.72" y2="230.64" stroke="#2a4476" stroke-width="1.0" />
<line x1="72.72" y1="235.66" x2="74.72" y2="235.66" stroke="#2a4476" stroke-width="1.0" />
<line x1="75.74" y1="231.31" x2="75.74" y2="233.30" stroke="#2a4476" stroke-width="1.0" />
<line x1="74.74" y1="231.31" x2="76.74" y2="231.31" stroke="#2a4476" stroke-width="1.0" />
<line x1="74.74" y1="233.30" x2="76.74" y2="233.30" stroke="#2a4476" stroke-width="1.0" />
<line x1="77.77" y1="229.31" x2="77.77" y2="233.54" stroke="#2a4476" stroke-width="1.0" />
<line x1="76.77" y1="229.31" x2="78.77" y2="229.31" stroke="#2a4476" stroke-width="1.0" />
<line x1="76.77" y1="233.54" x2="78.77" y2="233.54" stroke="#2a4476" stroke-width="1.0" />
<line x1="79.80" y1="226.59" x2="79.80" y2="231.51" stroke="#2a4476" stroke-width="1.0" />
<line x1="78.80" y1="226.59" x2="80.80" y2="226.59" stroke="#2a4476" stroke-width="1.0" />
<line x1="78.80" y1="231.51" x2="80.80" y2="231.51" stroke="#2a4476" stroke-width="1.0" />
<line x1="81.82" y1="227.06" x2="81.82" y2="232.02" stroke="#2a4476" stroke-width="1.0" />
<line x1="80.82" y1="227.06" x2="82.82" y2="227.06" stroke="#2a4476" stroke-width="1.0" />
<line x1="80.82" y1="232.02" x2="82.82" y2="232.02" stroke="#2a4476" stroke-width="1.0" />
<line x1="83.85" y1="227.44" x2="83.85" y2="230.02" stroke="#2a4476" stroke-width="1.0" />
<line x1="82.85" y1="227.44" x2="84.85" y2="227.44" stroke="#2a4476" stroke-width="1.0" />
<line x1="82.85" y1="230.02" x2="84.85" y2="230.02" stroke="#2a4476" stroke-width="1.0" />
<line x1="85.88" y1="227.54" x2="85.88" y2="230.16" stroke="#2a4476" stroke-width="1.0" />
<line x1="84.88" y1="227.54" x2="86.88" y2="227.54" stroke="#2a4476" stroke-width="1.0" />
<line x1="84.88" y1="230.16" x2="86.88" y2="230.16" stroke="#2a4476" stroke-width="1.0" />
<line x1="87.91" y1="226.84" x2="87.91" y2="230.14" stroke="#2a4476" stroke-width="1.0" />
<line x1="86.91" y1="226.84" x2="88.91" y2="226.84" stroke="#2a4476" stroke-width="1.0" />
<line x1="86.91" y1="230.14" x2="88.91" y2="230.14" stroke="#2a4476" stroke-width="1.0" />
<line x1="89.93" y1="224.59" x2="89.93" y2="228.89" stroke="#2a4476" stroke-width="1.0" />
<line x1="88.93" y1="224.59" x2="90.93" y2="224.59" stroke="#2a4476" stroke-width="1.0" />
<line x1="88.93" y1="228.89" x2="90.93" y2="228.89" stroke="#2a4476" stroke-width="1.0" />
<line x1="91.96" y1="225.32" x2="91.96" y2="226.95" stroke="#2a4476" stroke-width="1.0" />
<line x1="90.96" y1="225.32" x2="92.96" y2="225.32" stroke="#2a4476" stroke-width="1.0" />
<line x1="90.96" y1="226.95" x2="92.96" y2="226.95" stroke="#2a4476" stroke-width="1.0" />
<line x1="93.99" y1="223.11" x2="93.99" y2="227.31" stroke="#2a4476" stroke-width="1.0" />
<line x1="92.99" y1="223.11" x2="94.99" y2="223.11" stroke="#2a4476" stroke-width="1.0" />
<line x1="92.99" y1="227.31" x2="94.99" y2="227.31" stroke="#2a4476" stroke-width="1.0" />
<line x1="96.01" y1="223.06" x2="96.01" y2="227.45" stroke="#2a4476" stroke-width="1.0" />
<line x1="95.01" y1="223.06" x2="97.01" y2="223.06" stroke="#2a4476" stroke-width="1.0" />
<line x1="95.01" y1="227.45" x2="97.01" y2="227.45" stroke="#2a4476" stroke-width="1.0" />
<line x1="98.04" y1="221.53" x2="98.04" y2="226.17" stroke="#2a4476" stroke-width="1.0" />
<line x1="97.04" y1="221.53" x2="99.04" y2="221.53" stroke="#2a4476" stroke-width="1.0" />
<line x1="97.04" y1="226.17" x2="99.04" y2="226.17" stroke="#2a4476" stroke-width="1.0" />
<line x1="100.07" y1="220.91" x2="100.07" y2="222.26" stroke="#2a4476" stroke-width="1.0" />
<line x1="99.07" y1="220.91" x2="101.07" y2="220.91" stroke="#2a4476" stroke-width="1.0" />
<line x1="99.07" y1="222.26" x2="101.07" y2="222.26" stroke="#2a4476" stroke-width="1.0" />
<line x1="102.09" y1="219.07" x2="102.09" y2="224.05" stroke="#2a4476" stroke-width="1.0" />
<line x1="101.09" y1="219.07" x2="103.09" y2="219.07" stroke="#2a4476" stroke-width="1.0" />
<line x1="101.09" y1="224.05" x2="103.09" y2="224.05" stroke="#2a4476" stroke-width="1.0" />
<line x1="104.12" y1="218.13" x2="104.12" y2="219.70" stroke="#2a4476" stroke-width="1.0" />
<line x1="103.12" y1="218.13" x2="105.12" y2="218.13" stroke="#2a4476" stroke-width="1.0" />
<line x1="103.12" y1="219.70" x2="105.12" y2="219.70" stroke="#2a4476" stroke-width="1.0" />
<line x1="106.15" y1="216.82" x2="106.15" y2="219.38" stroke="#2a4476" stroke-width="1.0" />
<line x1="105.15" y1="216.82" x2="107.15" y2="216.82" stroke="#2a4476" stroke-width="1.0" />
<line x1="105.15" y1="219.38" x2="107.15" y2="219.38" stroke="#2a4476" stroke-width="1.0" />
<line x1="108.18" y1="213.90" x2="108.18" y2="217.54" stroke="#2a4476" stroke-width="1.0" />
<line x1="107.18" y1="213.90" x2="109.18" y2="213.90" stroke="#2a4476" stroke-width="1.0" />
<line x1="107.18" y1="217.54" x2="109.18" y2="217.54" stroke="#2a4476" stroke-width="1.0" />
<line x1="110.20" y1="211.57" x2="110.20" y2="216.44" stroke="#2a4476" stroke-width="1.0" />
<line x1="109.20" y1="211.57" x2="111.20" y2="211.57" stroke="#2a4476" stroke-width="1.0" />
<line x1="109.20" y1="216.44" x2="111.20" y2="216.44" stroke="#2a4476" stroke-width="1.0" />
<line x1="112.23" y1="212.94" x2="112.23" y2="215.50" stroke="#2a4476" stroke-width="1.0" />
<line x1="111.23" y1="212.94" x2="113.23" y2="212.94" stroke="#2a4476" stroke-width="1.0" />
<line x1="111.23" y1="215.50" x2="113.23" y2="215.50" stroke="#2a4476" stroke-width="1.0" />
<line x1="114.26" y1="209.22" x2="114.26" y2="214.12" stroke="#2a4476" stroke-width="1.0" />
<line x1="113.26" y1="209.22" x2="115.26" y2="209.22" stroke="#2a4476" stroke-width="1.0" />
<line x1="113.26" y1="214.12" x2="115.26" y2="214.12" stroke="#2a4476" stroke-width="1.0" />
<line x1="116.28" y1="208.94" x2="116.28" y2="212.32" stroke="#2a4476" stroke-width="1.0" />
<line x1="115.28" y1="208.94" x2="117.28" y2="208.94" stroke="#2a4476" stroke-width="1.0" />
<line x1="115.28" y1="212.32" x2="117.28" y2="212.32" stroke="#2a4476" stroke-width="1.0" />
<line x1="118.31" y1="209.90" x2="118.31" y2="212.35" stroke="#2a4476" stroke-width="1.0" />
<line x1="117.31" y1="209.90" x2="119.31" y2="209.90" stroke="#2a4476" stroke-width="1.0" />
<line x1="117.31" y1="212.35" x2="119.31" y2="212.35" stroke="#2a4476" stroke-width="1.0" />
<line x1="120.34" y1="208.75" x2="120.34" y2="211.22" stroke="#2a4476" stroke-width="1.0" />
<line x1="119.34" y1="208.75" x2="121.34" y2="208.75" stroke="#2a4476" stroke-width="1.0" />
<line x1="119.34" y1="211.22" x2="121.34" y2="211.22" stroke="#2a4476" stroke-width="1.0" />
<line x1="122.36" y1="206.85" x2="122.36" y2="208.76" stroke="#2a4476" stroke-width="1.0" />
<line x1="121.36" y1="206.85" x2="123.36" y2="206.85" stroke="#2a4476" stroke-width="1.0" />
<line x1="121.36" y1="208.76" x2="123.36" y2="208.76" stroke="#2a4476" stroke-width="1.0" />
<line x1="124.39" y1="207.04" x2="124.39" y2="208.55" stroke="#2a4476" stroke-width="1.0" />
<line x1="123.39" y1="207.04" x2="125.39" y2="207.04" stroke="#2a4476" stroke-width="1.0" />
<line x1="123.39" y1="208.55" x2="125.39" y2="208.55" stroke="#2a4476" stroke-width="1.0" />
<line x1="126.42" y1="205.09" x2="126.42" y2="206.89" stroke="#2a4476" stroke-width="1.0" />
<line x1="125.42" y1="205.09" x2="127.42" y2="205.09" stroke="#2a4476" stroke-width="1.0" />
<line x1="125.42" y1="206.89" x2="127.42" y2="206.89" stroke="#2a4476" stroke-width="1.0" />
<line x1="128.44" y1="203.23" x2="128.44" y2="207.18" stroke="#2a4476" stroke-width="1.0" />
<line x1="127.44" y1="203.23" x2="129.44" y2="203.23" stroke="#2a4476" stroke-width="1.0" />
<line x1="127.44" y1="207.18" x2="129.44" y2="207.18" stroke="#2a4476" stroke-width="1.0" />
<line x1="130.47" y1="200.74" x2="130.47" y2="205.93" stroke="#2a4476" stroke-width="1.0" />
<line x1="129.47" y1="200.74" x2="131.47" y2="200.74" stroke="#2a4476" stroke-width="1.0" />
<line x1="129.47" y1="205.93" x2="131.47" y2="205.93" stroke="#2a4476" stroke-width="1.0" />
<line x1="132.50" y1="202.72" x2="132.50" y2="204.57" stroke="#2a4476" stroke-width="1.0" />
<line x1="131.50" y1="202.72" x2="133.50" y2="202.72" stroke="#2a4476" stroke-width="1.0" />
<line x1="131.50" y1="204.57" x2="133.50" y2="204.57" stroke="#2a4476" stroke-width="1.0" />
<line x1="134.53" y1="201.49" x2="134.53" y2="202.88" stroke="#2a4476" stroke-width="1.0" />
<line x1="133.53" y1="201.49" x2="135.53" y2="201.49" stroke="#2a4476" stroke-width="1.0" />
<line x1="133.53" y1="202.88" x2="135.53" y2="202.88" stroke="#2a4476" stroke-width="1.0" />
<line x1="136.55" y1="199.12" x2="136.55" y2="204.26" stroke="#2a4476" stroke-width="1.0" />
<line x1="135.55" y1="199.12" x2="137.55" y2="199.12" stroke="#2a4476" stroke-width="1.0" />
<line x1="135.55" y1="204.26" x2="137.55" y2="204.26" stroke="#2a4476" stroke-width="1.0" />
<line x1="138.58" y1="198.90" x2="138.58" y2="202.23" stroke="#2a4476" stroke-width="1.0" />
<line x1="137.58" y1="198.90" x2="139.58" y2="198.90" stroke="#2a4476" stroke-width="1.0" />
<line x1="137.58" y1="202.23" x2="139.58" y2="202.23" stroke="#2a4476" stroke-width="1.0" />
<line x1="140.61" y1="195.64" x2="140.61" y2="198.47" stroke="#2a4476" stroke-width="1.0" />
<line x1="139.61" y1="195.64" x2="141.61" y2="195.64" stroke="#2a4476" stroke-width="1.0" />
<line x1="139.61" y1="198.47" x2="141.61" y2="198.47" stroke="#2a4476" stroke-width="1.0" />
<line x1="142.63" y1="194.23" x2="142.63" y2="196.37" stroke="#2a4476" stroke-width="1.0" />
<line x1="141.63" y1="194.23" x2="143.63" y2="194.23" stroke="#2a4476" stroke-width="1.0" />
<line x1="141.63" y1="196.37" x2="143.63" y2="196.37" stroke="#2a4476" stroke-width="1.0" />
<line x1="144.66" y1="192.47" x2="144.66" y2="196.05" stroke="#2a4476" stroke-width="1.0" />
<line x1="143.66" y1="192.47" x2="145.66" y2="192.47" stroke="#2a4476" stroke-width="1.0" />
<line x1="143.66" y1="196.05" x2="145.66" y2="196.05" stroke="#2a4476" stroke-width="1.0" />
<line x1="146.69" y1="191.22" x2="146.69" y2="195.73" stroke="#2a4476" stroke-width="1.0" />
<line x1="145.69" y1="191.22" x2="147.69" y2="191.22" stroke="#2a4476" stroke-width="1.0" />
<line x1="145.69" y1="195.73" x2="147.69" y2="195.73" stroke="#2a4476" stroke-width="1.0" />
<line x1="148.72" y1="189.86" x2="148.72" y2="192.88" stroke="#2a4476" stroke-width="1.0" />
<line x1="147.72" y1="189.86" x2="149.72" y2="189.86" stroke="#2a4476" stroke-width="1.0" />
<line x1="147.72" y1="192.88" x2="149.72" y2="192.88" stroke="#2a4476" stroke-width="1.0" />
<line x1="150.74" y1="189.46" x2="150.74" y2="192.35" stroke="#2a4476" stroke-width="1.0" />
<line x1="149.74" y1="189.46" x2="151.74" y2="189.46" stroke="#2a4476" stroke-width="1.0" />
<line x1="149.74" y1="192.35" x2="151.74" y2="192.35" stroke="#2a4476" stroke-width="1.0" />
<line x1="152.77" y1="191.08" x2="152.77" y2="192.50" stroke="#2a4476" stroke-width="1.0" />
<line x1="151.77" y1="191.08" x2="153.77" y2="191.08" stroke="#2a4476" stroke-width="1.0" />
<line x1="151.77" y1="192.50" x2="153.77" y2="192.50" stroke="#2a4476" stroke-width="1.0" />
<line x1="154.80" y1="188.40" x2="154.80" y2="193.26" stroke="#2a4476" stroke-width="1.0" />
<line x1="153.80" y1="188.40" x2="155.80" y2="188.40" stroke="#2a4476" stroke-width="1.0" />
<line x1="153.80" y1="193.26" x2="155.80" y2="193.26" stroke="#2a4476" stroke-width="1.0" />
<line x1="156.82" y1="190.16" x2="156.82" y2="191.49" stroke="#2a4476" stroke-width="1.0" />
<line x1="155.82" y1="190.16" x2="157.82" y2="190.16" stroke="#2a4476" stroke-width="1.0" />
<line x1="155.82" y1="191.49" x2="157.82" y2="191.49" stroke="#2a4476" stroke-width="1.0" />
<line x1="158.85" y1="187.55" x2="158.85" y2="190.72" stroke="#2a4476" stroke-width="1.0" />
<line x1="157.85" y1="187.55" x2="159.85" y2="187.55" stroke="#2a4476" stroke-width="1.0" />
<line x1="157.85" y1="190.72" x2="159.85" y2="190.72" stroke="#2a4476" stroke-width="1.0" />
<line x1="160.88" y1="186.39" x2="160.88" y2="190.95" stroke="#2a4476" stroke-width="1.0" />
<line x1="159.88" y1="186.39" x2="161.88" y2="186.39" stroke="#2a4476" stroke-width="1.0" />
<line x1="159.88" y1="190.95" x2="161.88" y2="190.95" stroke="#2a4476" stroke-width="1.0" />
<line x1="162.90" y1="188.50" x2="162.90" y2="190.22" stroke="#2a4476" stroke-width="1.0" />
<line x1="161.90" y1="188.50" x2="163.90" y2="188.50" stroke="#2a4476" stroke-width="1.0" />
<line x1="161.90" y1="190.22" x2="163.90" y2="190.22" stroke="#2a4476" stroke-width="1.0" />
<line x1="164.93" y1="187.03" x2="164.93" y2="191.16" stroke="#2a4476" stroke-width="1.0" />
<line x1="163.93" y1="187.03" x2="165.93" y2="187.03" stroke="#2a4476" stroke-width="1.0" />
<line x1="163.93" y1="191.16" x2="165.93" y2="191.16" stroke="#2a4476" stroke-width="1.0" />
<line x1="166.96" y1="186.64" x2="166.96" y2="191.64" stroke="#2a4476" stroke-width="1.0" />
<line x1="165.96" y1="186.64" x2="167.96" y2="186.64" stroke="#2a4476" stroke-width="1.0" />
<line x1="165.96" y1="191.64" x2="167.96" y2="191.64" stroke="#2a4476" stroke-width="1.0" />
<line x1="168.99" y1="186.98" x2="168.99" y2="190.70" stroke="#2a4476" stroke-width="1.0" />
<line x1="167.99" y1="186.98" x2="169.99" y2="186.98" stroke="#2a4476" stroke-width="1.0" />
<line x1="167.99" y1="190.70" x2="169.99" y2="190.70" stroke="#2a4476" stroke-width="1.0" />
<line x1="171.01" y1="186.39" x2="171.01" y2="190.74" stroke="#2a4476" stroke-width="1.0" />
<line x1="170.01" y1="186.39" x2="172.01" y2="186.39" stroke="#2a4476" stroke-width="1.0" />
<line x1="170.01" y1="190.74" x2="172.01" y2="190.74" stroke="#2a4476" stroke-width="1.0" />
<line x1="173.04" y1="185.41" x2="173.04" y2="187.03" stroke="#2a4476" stroke-width="1.0" />
<line x1="172.04" y1="185.41" x2="174.04" y2="185.41" stroke="#2a4476" stroke-width="1.0" />
<line x1="172.04" y1="187.03" x2="174.04" y2="187.03" stroke="#2a4476" stroke-width="1.0" />
<line x1="175.07" y1="184.94" x2="175.07" y2="187.88" stroke="#2a4476" stroke-width="1.0" />
<line x1="174.07" y1="184.94" x2="176.07" y2="184.94" stroke="#2a4476" stroke-width="1.0" />
<line x1="174.07" y1="187.88" x2="176.07" y2="187.88" stroke="#2a4476" stroke-width="1.0" />
<line x1="177.09" y1="185.42" x2="177.09" y2="187.21" stroke="#2a4476" stroke-width="1.0" />
<line x1="176.09" y1="185.42" x2="178.09" y2="185.42" stroke="#2a4476" stroke-width="1.0" />
<line x1="176.09" y1="187.21" x2="178.09" y2="187.21" stroke="#2a4476" stroke-width="1.0" />
<line x1="179.12" y1="186.86" x2="179.12" y2="191.44" stroke="#2a4476" stroke-width="1.0" />
<line x1="178.12" y1="186.86" x2="180.12" y2="186.86" stroke="#2a4476" stroke-width="1.0" />
<line x1="178.12" y1="191.44" x2="180.12" y2="191.44" stroke="#2a4476" stroke-width="1.0" />
<rect x="56.25" y="231.97" width="2.50" height="2.50" fill="#2a4476"/>
<rect x="58.28" y="232.19" width="2.50" height="2.50" fill="#2a4476"/>
<rect x="60.30" y="232.28" width="2.50" height="2.50" fill="#2a4476"/>
<rect x="62.33" y="232.55" width="2.50" height="2.50" fill="#2a4476"/>
<rect x="64.36" y="232.16" width="2.50" height="2.50" fill="#2a4476"/>
<rect x="66.39" y="232.42" width="2.50" height="2.50" fill="#2a4476"/>
<rect x="68.41" y="230.74" width="2.50" height="2.50" fill="#2a4476"/>
<rect x="70.44" y="231.35" width="2.50" height="2.50" fill="#2a4476"/>
<rect x="72.47" y="231.90" width="2.50" height="2.50" fill="#2a4476"/>
<rect x="74.49" y="231.06" width="2.50" height="2.50" fill="#2a4476"/>
<rect x="76.52" y="230.17" width="2.50" height="2.50" fill="#2a4476"/>
<rect x="78.55" y="227.80" width="2.50" height="2.50" fill="#2a4476"/>
<rect x="80.57" y="228.29" width="2.50" height="2.50" fill="#2a4476"/>
<rect x="82.60" y="227.48" width="2.50" height="2.50" fill="#2a4476"/>
<rect x="84.63" y="227.60" width="2.50" height="2.50" fill="#2a4476"/>
<rect x="86.66" y="227.24" width="2.50" height="2.50" fill="#2a4476"/>
<rect x="88.68" y="225.49" width="2.50" height="2.50" fill="#2a4476"/>
<rect x="90.71" y="224.89" width="2.50" height="2.50" fill="#2a4476"/>
<rect x="92.74" y="223.96" width="2.50" height="2.50" fill="#2a4476"/>
<rect x="94.76" y="224.00" width="2.50" height="2.50" fill="#2a4476"/>
<rect x="96.79" y="222.60" width="2.50" height="2.50" fill="#2a4476"/>
<rect x="98.82" y="220.34" width="2.50" height="2.50" fill="#2a4476"/>
<rect x="100.84" y="220.31" width="2.50" height="2.50" fill="#2a4476"/>
<rect x="102.87" y="217.67" width="2.50" height="2.50" fill="#2a4476"/>
<rect x="104.90" y="216.85" width="2.50" height="2.50" fill="#2a4476"/>
<rect x="106.93" y="214.47" width="2.50" height="2.50" fill="#2a4476"/>
<rect x="108.95" y="212.75" width="2.50" height="2.50" fill="#2a4476"/>
<rect x="110.98" y="212.97" width="2.50" height="2.50" fill="#2a4476"/>
<rect x="113.01" y="210.42" width="2.50" height="2.50" fill="#2a4476"/>
<rect x="115.03" y="209.38" width="2.50" height="2.50" fill="#2a4476"/>
<rect x="117.06" y="209.88" width="2.50" height="2.50" fill="#2a4476"/>
<rect x="119.09" y="208.74" width="2.50" height="2.50" fill="#2a4476"/>
<rect x="121.11" y="206.55" width="2.50" height="2.50" fill="#2a4476"/>
<rect x="123.14" y="206.55" width="2.50" height="2.50" fill="#2a4476"/>
<rect x="125.17" y="204.74" width="2.50" height="2.50" fill="#2a4476"/>
<rect x="127.19" y="203.96" width="2.50" height="2.50" fill="#2a4476"/>
<rect x="129.22" y="202.08" width="2.50" height="2.50" fill="#2a4476"/>
<rect x="131.25" y="202.39" width="2.50" height="2.50" fill="#2a4476"/>
<rect x="133.28" y="200.94" width="2.50" height="2.50" fill="#2a4476"/>
<rect x="135.30" y="200.44" width="2.50" height="2.50" fill="#2a4476"/>
<rect x="137.33" y="199.32" width="2.50" height="2.50" fill="#2a4476"/>
<rect x="139.36" y="195.80" width="2.50" height="2.50" fill="#2a4476"/>
<rect x="141.38" y="194.05" width="2.50" height="2.50" fill="#2a4476"/>
<rect x="143.41" y="193.01" width="2.50" height="2.50" fill="#2a4476"/>
<rect x="145.44" y="192.23" width="2.50" height="2.50" fill="#2a4476"/>
<rect x="147.47" y="190.12" width="2.50" height="2.50" fill="#2a4476"/>
<rect x="149.49" y="189.65" width="2.50" height="2.50" fill="#2a4476"/>
<rect x="151.52" y="190.54" width="2.50" height="2.50" fill="#2a4476"/>
<rect x="153.55" y="189.58" width="2.50" height="2.50" fill="#2a4476"/>
<rect x="155.57" y="189.58" width="2.50" height="2.50" fill="#2a4476"/>
<rect x="157.60" y="187.89" width="2.50" height="2.50" fill="#2a4476"/>
<rect x="159.63" y="187.42" width="2.50" height="2.50" fill="#2a4476"/>
<rect x="161.65" y="188.11" width="2.50" height="2.50" fill="#2a4476"/>
<rect x="163.68" y="187.85" width="2.50" height="2.50" fill="#2a4476"/>
<rect x="165.71" y="187.89" width="2.50" height="2.50" fill="#2a4476"/>
<rect x="167.74" y="187.59" width="2.50" height="2.50" fill="#2a4476"/>
<rect x="169.76" y="187.31" width="2.50" height="2.50" fill="#2a4476"/>
<rect x="171.79" y="184.97" width="2.50" height="2.50" fill="#2a4476"/>
<rect x="173.82" y="185.16" width="2.50" height="2.50" fill="#2a4476"/>
<rect x="175.84" y="185.07" width="2.50" height="2.50" fill="#2a4476"/>
<rect x="177.87" y="187.90" width="2.50" height="2.50" fill="#2a4476"/>
<text x="61.00" y="156.90" font-size="8.5" text-anchor="start" font-weight="normal" font-style="normal" fill="#1a1a1a" stroke="#1a1a1a" stroke-width="0.18" >Zymosan</text>
<text x="61.00" y="167.00" font-size="8.5" text-anchor="start" font-weight="normal" font-style="normal" fill="#1a1a1a" stroke="#1a1a1a" stroke-width="0.18" >100&#181;g/ml</text>
<text transform="translate(30.2,167.3) rotate(-90)" font-size="10.6" fill="#111" stroke="#111" stroke-width="0.18" textLength="51.3" lengthAdjust="spacingAndGlyphs">ROS (RLUs)</text>
<line x1="26.80" y1="178.00" x2="26.80" y2="256.60" stroke="#000" stroke-width="1.3" />
<line x1="26.30" y1="256.60" x2="110.00" y2="256.60" stroke="#000" stroke-width="1.3" />
<polygon points="26.8,171.5 23.3,180.5 30.3,180.5" fill="#000"/>
<polygon points="117.5,256.6 108.5,253.1 108.5,260.1" fill="#000"/>
<text x="120.80" y="260.70" font-size="10.8" text-anchor="start" font-weight="normal" font-style="normal" fill="#111" stroke="#111" stroke-width="0.18" textLength="45.2" lengthAdjust="spacingAndGlyphs">Time (min)</text>
<line x1="233.70" y1="23.00" x2="233.70" y2="110.50" stroke="#111" stroke-width="1.35" />
<line x1="230.70" y1="25.50" x2="233.70" y2="25.50" stroke="#111" stroke-width="1.0" />
<text x="227.50" y="28.90" font-size="9" text-anchor="end" font-weight="normal" font-style="normal" fill="#1a1a1a" stroke="#1a1a1a" stroke-width="0.18" >200</text>
<line x1="230.70" y1="46.62" x2="233.70" y2="46.62" stroke="#111" stroke-width="1.0" />
<text x="227.50" y="50.02" font-size="9" text-anchor="end" font-weight="normal" font-style="normal" fill="#1a1a1a" stroke="#1a1a1a" stroke-width="0.18" >150</text>
<line x1="230.70" y1="67.75" x2="233.70" y2="67.75" stroke="#111" stroke-width="1.0" />
<text x="227.50" y="71.15" font-size="9" text-anchor="end" font-weight="normal" font-style="normal" fill="#1a1a1a" stroke="#1a1a1a" stroke-width="0.18" >100</text>
<line x1="230.70" y1="88.88" x2="233.70" y2="88.88" stroke="#111" stroke-width="1.0" />
<text x="227.50" y="92.28" font-size="9" text-anchor="end" font-weight="normal" font-style="normal" fill="#1a1a1a" stroke="#1a1a1a" stroke-width="0.18" >50</text>
<line x1="230.50" y1="110.00" x2="363.50" y2="110.00" stroke="#111" stroke-width="1.4" />
<line x1="233.70" y1="110.00" x2="233.70" y2="113.50" stroke="#111" stroke-width="1.0" />
<text x="233.70" y="124.30" font-size="9" text-anchor="middle" font-weight="normal" font-style="normal" fill="#1a1a1a" stroke="#1a1a1a" stroke-width="0.18" >0</text>
<line x1="258.96" y1="110.00" x2="258.96" y2="113.50" stroke="#111" stroke-width="1.0" />
<text x="258.96" y="124.30" font-size="9" text-anchor="middle" font-weight="normal" font-style="normal" fill="#1a1a1a" stroke="#1a1a1a" stroke-width="0.18" >2</text>
<line x1="284.22" y1="110.00" x2="284.22" y2="113.50" stroke="#111" stroke-width="1.0" />
<text x="284.22" y="124.30" font-size="9" text-anchor="middle" font-weight="normal" font-style="normal" fill="#1a1a1a" stroke="#1a1a1a" stroke-width="0.18" >4</text>
<line x1="309.48" y1="110.00" x2="309.48" y2="113.50" stroke="#111" stroke-width="1.0" />
<text x="309.48" y="124.30" font-size="9" text-anchor="middle" font-weight="normal" font-style="normal" fill="#1a1a1a" stroke="#1a1a1a" stroke-width="0.18" >6</text>
<line x1="334.74" y1="110.00" x2="334.74" y2="113.50" stroke="#111" stroke-width="1.0" />
<text x="334.74" y="124.30" font-size="9" text-anchor="middle" font-weight="normal" font-style="normal" fill="#1a1a1a" stroke="#1a1a1a" stroke-width="0.18" >8</text>
<line x1="360.00" y1="110.00" x2="360.00" y2="113.50" stroke="#111" stroke-width="1.0" />
<text x="360.00" y="124.30" font-size="9" text-anchor="middle" font-weight="normal" font-style="normal" fill="#1a1a1a" stroke="#1a1a1a" stroke-width="0.18" >10</text>
<polyline points="233.70,97.33 246.33,97.33 258.96,98.17 271.59,73.66 284.22,81.27 296.85,89.72 309.48,96.06 322.11,99.02 334.74,100.70 347.37,100.70 360.00,101.55" fill="none" stroke="#6cae45" stroke-width="2.0" stroke-linejoin="round" />
<line x1="233.70" y1="96.06" x2="233.70" y2="98.59" stroke="#6cae45" stroke-width="1.1" />
<line x1="232.60" y1="96.06" x2="234.80" y2="96.06" stroke="#6cae45" stroke-width="1.1" />
<line x1="232.60" y1="98.59" x2="234.80" y2="98.59" stroke="#6cae45" stroke-width="1.1" />
<line x1="246.33" y1="96.06" x2="246.33" y2="98.59" stroke="#6cae45" stroke-width="1.1" />
<line x1="245.23" y1="96.06" x2="247.43" y2="96.06" stroke="#6cae45" stroke-width="1.1" />
<line x1="245.23" y1="98.59" x2="247.43" y2="98.59" stroke="#6cae45" stroke-width="1.1" />
<line x1="258.96" y1="96.90" x2="258.96" y2="99.44" stroke="#6cae45" stroke-width="1.1" />
<line x1="257.86" y1="96.90" x2="260.06" y2="96.90" stroke="#6cae45" stroke-width="1.1" />
<line x1="257.86" y1="99.44" x2="260.06" y2="99.44" stroke="#6cae45" stroke-width="1.1" />
<line x1="271.59" y1="72.40" x2="271.59" y2="74.93" stroke="#6cae45" stroke-width="1.1" />
<line x1="270.49" y1="72.40" x2="272.69" y2="72.40" stroke="#6cae45" stroke-width="1.1" />
<line x1="270.49" y1="74.93" x2="272.69" y2="74.93" stroke="#6cae45" stroke-width="1.1" />
<line x1="284.22" y1="79.16" x2="284.22" y2="83.38" stroke="#6cae45" stroke-width="1.1" />
<line x1="283.12" y1="79.16" x2="285.32" y2="79.16" stroke="#6cae45" stroke-width="1.1" />
<line x1="283.12" y1="83.38" x2="285.32" y2="83.38" stroke="#6cae45" stroke-width="1.1" />
<line x1="296.85" y1="88.45" x2="296.85" y2="90.99" stroke="#6cae45" stroke-width="1.1" />
<line x1="295.75" y1="88.45" x2="297.95" y2="88.45" stroke="#6cae45" stroke-width="1.1" />
<line x1="295.75" y1="90.99" x2="297.95" y2="90.99" stroke="#6cae45" stroke-width="1.1" />
<line x1="309.48" y1="95.21" x2="309.48" y2="96.90" stroke="#6cae45" stroke-width="1.1" />
<line x1="308.38" y1="95.21" x2="310.58" y2="95.21" stroke="#6cae45" stroke-width="1.1" />
<line x1="308.38" y1="96.90" x2="310.58" y2="96.90" stroke="#6cae45" stroke-width="1.1" />
<line x1="322.11" y1="98.59" x2="322.11" y2="99.44" stroke="#6cae45" stroke-width="1.1" />
<line x1="321.01" y1="98.59" x2="323.21" y2="98.59" stroke="#6cae45" stroke-width="1.1" />
<line x1="321.01" y1="99.44" x2="323.21" y2="99.44" stroke="#6cae45" stroke-width="1.1" />
<line x1="334.74" y1="100.28" x2="334.74" y2="101.13" stroke="#6cae45" stroke-width="1.1" />
<line x1="333.64" y1="100.28" x2="335.84" y2="100.28" stroke="#6cae45" stroke-width="1.1" />
<line x1="333.64" y1="101.13" x2="335.84" y2="101.13" stroke="#6cae45" stroke-width="1.1" />
<line x1="347.37" y1="100.28" x2="347.37" y2="101.13" stroke="#6cae45" stroke-width="1.1" />
<line x1="346.27" y1="100.28" x2="348.47" y2="100.28" stroke="#6cae45" stroke-width="1.1" />
<line x1="346.27" y1="101.13" x2="348.47" y2="101.13" stroke="#6cae45" stroke-width="1.1" />
<line x1="360.00" y1="101.13" x2="360.00" y2="101.97" stroke="#6cae45" stroke-width="1.1" />
<line x1="358.90" y1="101.13" x2="361.10" y2="101.13" stroke="#6cae45" stroke-width="1.1" />
<line x1="358.90" y1="101.97" x2="361.10" y2="101.97" stroke="#6cae45" stroke-width="1.1" />
<rect x="232.50" y="96.12" width="2.4" height="2.4" fill="#6cae45"/>
<rect x="245.13" y="96.12" width="2.4" height="2.4" fill="#6cae45"/>
<rect x="257.76" y="96.97" width="2.4" height="2.4" fill="#6cae45"/>
<rect x="270.39" y="72.46" width="2.4" height="2.4" fill="#6cae45"/>
<rect x="283.02" y="80.07" width="2.4" height="2.4" fill="#6cae45"/>
<rect x="295.65" y="88.52" width="2.4" height="2.4" fill="#6cae45"/>
<rect x="308.28" y="94.86" width="2.4" height="2.4" fill="#6cae45"/>
<rect x="320.91" y="97.81" width="2.4" height="2.4" fill="#6cae45"/>
<rect x="333.54" y="99.50" width="2.4" height="2.4" fill="#6cae45"/>
<rect x="346.17" y="99.50" width="2.4" height="2.4" fill="#6cae45"/>
<rect x="358.80" y="100.35" width="2.4" height="2.4" fill="#6cae45"/>
<polyline points="233.70,92.68 246.33,98.17 258.96,91.41 271.59,55.08 284.22,71.13 296.85,88.88 309.48,96.90 322.11,99.02 334.74,100.70 347.37,100.70 360.00,102.39" fill="none" stroke="#9e1533" stroke-width="2.0" stroke-linejoin="round" />
<line x1="233.70" y1="90.56" x2="233.70" y2="94.79" stroke="#9e1533" stroke-width="1.1" />
<line x1="232.60" y1="90.56" x2="234.80" y2="90.56" stroke="#9e1533" stroke-width="1.1" />
<line x1="232.60" y1="94.79" x2="234.80" y2="94.79" stroke="#9e1533" stroke-width="1.1" />
<line x1="246.33" y1="96.48" x2="246.33" y2="99.86" stroke="#9e1533" stroke-width="1.1" />
<line x1="245.23" y1="96.48" x2="247.43" y2="96.48" stroke="#9e1533" stroke-width="1.1" />
<line x1="245.23" y1="99.86" x2="247.43" y2="99.86" stroke="#9e1533" stroke-width="1.1" />
<line x1="258.96" y1="88.88" x2="258.96" y2="93.94" stroke="#9e1533" stroke-width="1.1" />
<line x1="257.86" y1="88.88" x2="260.06" y2="88.88" stroke="#9e1533" stroke-width="1.1" />
<line x1="257.86" y1="93.94" x2="260.06" y2="93.94" stroke="#9e1533" stroke-width="1.1" />
<line x1="271.59" y1="46.20" x2="271.59" y2="63.95" stroke="#9e1533" stroke-width="1.1" />
<line x1="270.49" y1="46.20" x2="272.69" y2="46.20" stroke="#9e1533" stroke-width="1.1" />
<line x1="270.49" y1="63.95" x2="272.69" y2="63.95" stroke="#9e1533" stroke-width="1.1" />
<line x1="284.22" y1="65.64" x2="284.22" y2="76.62" stroke="#9e1533" stroke-width="1.1" />
<line x1="283.12" y1="65.64" x2="285.32" y2="65.64" stroke="#9e1533" stroke-width="1.1" />
<line x1="283.12" y1="76.62" x2="285.32" y2="76.62" stroke="#9e1533" stroke-width="1.1" />
<line x1="296.85" y1="87.61" x2="296.85" y2="90.14" stroke="#9e1533" stroke-width="1.1" />
<line x1="295.75" y1="87.61" x2="297.95" y2="87.61" stroke="#9e1533" stroke-width="1.1" />
<line x1="295.75" y1="90.14" x2="297.95" y2="90.14" stroke="#9e1533" stroke-width="1.1" />
<line x1="309.48" y1="96.06" x2="309.48" y2="97.75" stroke="#9e1533" stroke-width="1.1" />
<line x1="308.38" y1="96.06" x2="310.58" y2="96.06" stroke="#9e1533" stroke-width="1.1" />
<line x1="308.38" y1="97.75" x2="310.58" y2="97.75" stroke="#9e1533" stroke-width="1.1" />
<line x1="322.11" y1="98.59" x2="322.11" y2="99.44" stroke="#9e1533" stroke-width="1.1" />
<line x1="321.01" y1="98.59" x2="323.21" y2="98.59" stroke="#9e1533" stroke-width="1.1" />
<line x1="321.01" y1="99.44" x2="323.21" y2="99.44" stroke="#9e1533" stroke-width="1.1" />
<line x1="334.74" y1="100.28" x2="334.74" y2="101.13" stroke="#9e1533" stroke-width="1.1" />
<line x1="333.64" y1="100.28" x2="335.84" y2="100.28" stroke="#9e1533" stroke-width="1.1" />
<line x1="333.64" y1="101.13" x2="335.84" y2="101.13" stroke="#9e1533" stroke-width="1.1" />
<line x1="347.37" y1="100.28" x2="347.37" y2="101.13" stroke="#9e1533" stroke-width="1.1" />
<line x1="346.27" y1="100.28" x2="348.47" y2="100.28" stroke="#9e1533" stroke-width="1.1" />
<line x1="346.27" y1="101.13" x2="348.47" y2="101.13" stroke="#9e1533" stroke-width="1.1" />
<line x1="360.00" y1="101.13" x2="360.00" y2="103.66" stroke="#9e1533" stroke-width="1.1" />
<line x1="358.90" y1="101.13" x2="361.10" y2="101.13" stroke="#9e1533" stroke-width="1.1" />
<line x1="358.90" y1="103.66" x2="361.10" y2="103.66" stroke="#9e1533" stroke-width="1.1" />
<rect x="232.50" y="91.48" width="2.4" height="2.4" fill="#9e1533"/>
<rect x="245.13" y="96.97" width="2.4" height="2.4" fill="#9e1533"/>
<rect x="257.76" y="90.21" width="2.4" height="2.4" fill="#9e1533"/>
<rect x="270.39" y="53.88" width="2.4" height="2.4" fill="#9e1533"/>
<rect x="283.02" y="69.93" width="2.4" height="2.4" fill="#9e1533"/>
<rect x="295.65" y="87.67" width="2.4" height="2.4" fill="#9e1533"/>
<rect x="308.28" y="95.70" width="2.4" height="2.4" fill="#9e1533"/>
<rect x="320.91" y="97.81" width="2.4" height="2.4" fill="#9e1533"/>
<rect x="333.54" y="99.50" width="2.4" height="2.4" fill="#9e1533"/>
<rect x="346.17" y="99.50" width="2.4" height="2.4" fill="#9e1533"/>
<rect x="358.80" y="101.19" width="2.4" height="2.4" fill="#9e1533"/>
<text x="326.80" y="29.30" font-size="8.2" text-anchor="start" font-weight="normal" font-style="normal" fill="#1a1a1a" stroke="#1a1a1a" stroke-width="0.18" >fMLF</text>
<text x="327.20" y="39.00" font-size="8.2" text-anchor="start" font-weight="normal" font-style="normal" fill="#1a1a1a" stroke="#1a1a1a" stroke-width="0.18" >10&#181;M</text>
<text x="377.20" y="53.80" font-size="8.8" text-anchor="start" font-weight="normal" font-style="italic" fill="#9c1838" stroke="#9c1838" stroke-width="0.18" >WT</text>
<text x="377.20" y="69.90" font-size="8.8" text-anchor="start" font-weight="normal" font-style="italic" fill="#364467" stroke="#364467" stroke-width="0.18" >Stim1<tspan font-size="5.9" dy="-4.0">VavCre</tspan></text>
<text x="377.20" y="85.80" font-size="8.8" text-anchor="start" font-weight="normal" font-style="italic" fill="#74ae4c" stroke="#74ae4c" stroke-width="0.18" >Stim2<tspan font-size="5.9" dy="-4.0">VavCre</tspan></text>
<line x1="233.50" y1="146.50" x2="233.50" y2="235.00" stroke="#111" stroke-width="1.35" />
<line x1="230.50" y1="148.30" x2="233.50" y2="148.30" stroke="#111" stroke-width="1.0" />
<text x="227.30" y="151.70" font-size="9" text-anchor="end" font-weight="normal" font-style="normal" fill="#1a1a1a" stroke="#1a1a1a" stroke-width="0.18" >500</text>
<line x1="230.50" y1="165.50" x2="233.50" y2="165.50" stroke="#111" stroke-width="1.0" />
<text x="227.30" y="168.90" font-size="9" text-anchor="end" font-weight="normal" font-style="normal" fill="#1a1a1a" stroke="#1a1a1a" stroke-width="0.18" >400</text>
<line x1="230.50" y1="182.70" x2="233.50" y2="182.70" stroke="#111" stroke-width="1.0" />
<text x="227.30" y="186.10" font-size="9" text-anchor="end" font-weight="normal" font-style="normal" fill="#1a1a1a" stroke="#1a1a1a" stroke-width="0.18" >300</text>
<line x1="230.50" y1="199.90" x2="233.50" y2="199.90" stroke="#111" stroke-width="1.0" />
<text x="227.30" y="203.30" font-size="9" text-anchor="end" font-weight="normal" font-style="normal" fill="#1a1a1a" stroke="#1a1a1a" stroke-width="0.18" >200</text>
<line x1="230.50" y1="217.10" x2="233.50" y2="217.10" stroke="#111" stroke-width="1.0" />
<text x="227.30" y="220.50" font-size="9" text-anchor="end" font-weight="normal" font-style="normal" fill="#1a1a1a" stroke="#1a1a1a" stroke-width="0.18" >100</text>
<line x1="231.00" y1="234.50" x2="363.00" y2="234.50" stroke="#111" stroke-width="1.4" />
<line x1="234.40" y1="234.50" x2="234.40" y2="238.00" stroke="#111" stroke-width="1.0" />
<text x="234.40" y="248.80" font-size="9" text-anchor="middle" font-weight="normal" font-style="normal" fill="#1a1a1a" stroke="#1a1a1a" stroke-width="0.18" >0</text>
<line x1="262.80" y1="234.50" x2="262.80" y2="238.00" stroke="#111" stroke-width="1.0" />
<text x="262.80" y="248.80" font-size="9" text-anchor="middle" font-weight="normal" font-style="normal" fill="#1a1a1a" stroke="#1a1a1a" stroke-width="0.18" >20</text>
<line x1="291.20" y1="234.50" x2="291.20" y2="238.00" stroke="#111" stroke-width="1.0" />
<text x="291.20" y="248.80" font-size="9" text-anchor="middle" font-weight="normal" font-style="normal" fill="#1a1a1a" stroke="#1a1a1a" stroke-width="0.18" >40</text>
<line x1="319.60" y1="234.50" x2="319.60" y2="238.00" stroke="#111" stroke-width="1.0" />
<text x="319.60" y="248.80" font-size="9" text-anchor="middle" font-weight="normal" font-style="normal" fill="#1a1a1a" stroke="#1a1a1a" stroke-width="0.18" >60</text>
<line x1="348.00" y1="234.50" x2="348.00" y2="238.00" stroke="#111" stroke-width="1.0" />
<text x="348.00" y="248.80" font-size="9" text-anchor="middle" font-weight="normal" font-style="normal" fill="#1a1a1a" stroke="#1a1a1a" stroke-width="0.18" >80</text>
<line x1="234.40" y1="231.97" x2="234.40" y2="230.15" stroke="#d15a72" stroke-width="1.25" />
<line x1="233.10" y1="230.15" x2="235.70" y2="230.15" stroke="#7a2232" stroke-width="0.9" />
<line x1="235.82" y1="232.91" x2="235.82" y2="232.09" stroke="#d15a72" stroke-width="1.25" />
<line x1="234.52" y1="232.09" x2="237.12" y2="232.09" stroke="#7a2232" stroke-width="0.9" />
<line x1="237.24" y1="232.90" x2="237.24" y2="231.89" stroke="#d15a72" stroke-width="1.25" />
<line x1="235.94" y1="231.89" x2="238.54" y2="231.89" stroke="#7a2232" stroke-width="0.9" />
<line x1="238.66" y1="233.27" x2="238.66" y2="232.52" stroke="#d15a72" stroke-width="1.25" />
<line x1="237.36" y1="232.52" x2="239.96" y2="232.52" stroke="#7a2232" stroke-width="0.9" />
<line x1="240.08" y1="231.81" x2="240.08" y2="230.06" stroke="#d15a72" stroke-width="1.25" />
<line x1="238.78" y1="230.06" x2="241.38" y2="230.06" stroke="#7a2232" stroke-width="0.9" />
<line x1="241.50" y1="231.91" x2="241.50" y2="230.31" stroke="#d15a72" stroke-width="1.25" />
<line x1="240.20" y1="230.31" x2="242.80" y2="230.31" stroke="#7a2232" stroke-width="0.9" />
<line x1="242.92" y1="231.72" x2="242.92" y2="230.15" stroke="#d15a72" stroke-width="1.25" />
<line x1="241.62" y1="230.15" x2="244.22" y2="230.15" stroke="#7a2232" stroke-width="0.9" />
<line x1="244.34" y1="231.90" x2="244.34" y2="231.20" stroke="#d15a72" stroke-width="1.25" />
<line x1="243.04" y1="231.20" x2="245.64" y2="231.20" stroke="#7a2232" stroke-width="0.9" />
<line x1="245.76" y1="232.71" x2="245.76" y2="227.69" stroke="#d15a72" stroke-width="1.25" />
<line x1="244.46" y1="227.69" x2="247.06" y2="227.69" stroke="#7a2232" stroke-width="0.9" />
<line x1="247.18" y1="230.81" x2="247.18" y2="226.40" stroke="#d15a72" stroke-width="1.25" />
<line x1="245.88" y1="226.40" x2="248.48" y2="226.40" stroke="#7a2232" stroke-width="0.9" />
<line x1="248.60" y1="231.13" x2="248.60" y2="228.30" stroke="#d15a72" stroke-width="1.25" />
<line x1="247.30" y1="228.30" x2="249.90" y2="228.30" stroke="#7a2232" stroke-width="0.9" />
<line x1="250.02" y1="229.86" x2="250.02" y2="227.59" stroke="#d15a72" stroke-width="1.25" />
<line x1="248.72" y1="227.59" x2="251.32" y2="227.59" stroke="#7a2232" stroke-width="0.9" />
<line x1="251.44" y1="228.96" x2="251.44" y2="220.42" stroke="#d15a72" stroke-width="1.25" />
<line x1="250.14" y1="220.42" x2="252.74" y2="220.42" stroke="#7a2232" stroke-width="0.9" />
<line x1="252.86" y1="228.19" x2="252.86" y2="225.17" stroke="#d15a72" stroke-width="1.25" />
<line x1="251.56" y1="225.17" x2="254.16" y2="225.17" stroke="#7a2232" stroke-width="0.9" />
<line x1="254.28" y1="228.01" x2="254.28" y2="223.86" stroke="#d15a72" stroke-width="1.25" />
<line x1="252.98" y1="223.86" x2="255.58" y2="223.86" stroke="#7a2232" stroke-width="0.9" />
<line x1="255.70" y1="226.29" x2="255.70" y2="222.35" stroke="#d15a72" stroke-width="1.25" />
<line x1="254.40" y1="222.35" x2="257.00" y2="222.35" stroke="#7a2232" stroke-width="0.9" />
<line x1="257.12" y1="223.63" x2="257.12" y2="217.62" stroke="#d15a72" stroke-width="1.25" />
<line x1="255.82" y1="217.62" x2="258.42" y2="217.62" stroke="#7a2232" stroke-width="0.9" />
<line x1="258.54" y1="222.85" x2="258.54" y2="220.11" stroke="#d15a72" stroke-width="1.25" />
<line x1="257.24" y1="220.11" x2="259.84" y2="220.11" stroke="#7a2232" stroke-width="0.9" />
<line x1="259.96" y1="221.20" x2="259.96" y2="215.99" stroke="#d15a72" stroke-width="1.25" />
<line x1="258.66" y1="215.99" x2="261.26" y2="215.99" stroke="#7a2232" stroke-width="0.9" />
<line x1="261.38" y1="221.44" x2="261.38" y2="216.88" stroke="#d15a72" stroke-width="1.25" />
<line x1="260.08" y1="216.88" x2="262.68" y2="216.88" stroke="#7a2232" stroke-width="0.9" />
<line x1="262.80" y1="219.94" x2="262.80" y2="207.85" stroke="#d15a72" stroke-width="1.25" />
<line x1="261.50" y1="207.85" x2="264.10" y2="207.85" stroke="#7a2232" stroke-width="0.9" />
<line x1="264.22" y1="218.78" x2="264.22" y2="215.10" stroke="#d15a72" stroke-width="1.25" />
<line x1="262.92" y1="215.10" x2="265.52" y2="215.10" stroke="#7a2232" stroke-width="0.9" />
<line x1="265.64" y1="217.71" x2="265.64" y2="210.69" stroke="#d15a72" stroke-width="1.25" />
<line x1="264.34" y1="210.69" x2="266.94" y2="210.69" stroke="#7a2232" stroke-width="0.9" />
<line x1="267.06" y1="216.41" x2="267.06" y2="207.75" stroke="#d15a72" stroke-width="1.25" />
<line x1="265.76" y1="207.75" x2="268.36" y2="207.75" stroke="#7a2232" stroke-width="0.9" />
<line x1="268.48" y1="215.74" x2="268.48" y2="202.27" stroke="#d15a72" stroke-width="1.25" />
<line x1="267.18" y1="202.27" x2="269.78" y2="202.27" stroke="#7a2232" stroke-width="0.9" />
<line x1="269.90" y1="214.31" x2="269.90" y2="205.44" stroke="#d15a72" stroke-width="1.25" />
<line x1="268.60" y1="205.44" x2="271.20" y2="205.44" stroke="#7a2232" stroke-width="0.9" />
<line x1="271.32" y1="212.10" x2="271.32" y2="203.66" stroke="#d15a72" stroke-width="1.25" />
<line x1="270.02" y1="203.66" x2="272.62" y2="203.66" stroke="#7a2232" stroke-width="0.9" />
<line x1="272.74" y1="212.38" x2="272.74" y2="201.96" stroke="#d15a72" stroke-width="1.25" />
<line x1="271.44" y1="201.96" x2="274.04" y2="201.96" stroke="#7a2232" stroke-width="0.9" />
<line x1="274.16" y1="210.55" x2="274.16" y2="203.91" stroke="#d15a72" stroke-width="1.25" />
<line x1="272.86" y1="203.91" x2="275.46" y2="203.91" stroke="#7a2232" stroke-width="0.9" />
<line x1="275.58" y1="210.10" x2="275.58" y2="206.16" stroke="#d15a72" stroke-width="1.25" />
<line x1="274.28" y1="206.16" x2="276.88" y2="206.16" stroke="#7a2232" stroke-width="0.9" />
<line x1="277.00" y1="208.65" x2="277.00" y2="199.94" stroke="#d15a72" stroke-width="1.25" />
<line x1="275.70" y1="199.94" x2="278.30" y2="199.94" stroke="#7a2232" stroke-width="0.9" />
<line x1="278.42" y1="207.27" x2="278.42" y2="194.41" stroke="#d15a72" stroke-width="1.25" />
<line x1="277.12" y1="194.41" x2="279.72" y2="194.41" stroke="#7a2232" stroke-width="0.9" />
<line x1="279.84" y1="205.99" x2="279.84" y2="194.87" stroke="#d15a72" stroke-width="1.25" />
<line x1="278.54" y1="194.87" x2="281.14" y2="194.87" stroke="#7a2232" stroke-width="0.9" />
<line x1="281.26" y1="204.99" x2="281.26" y2="198.75" stroke="#d15a72" stroke-width="1.25" />
<line x1="279.96" y1="198.75" x2="282.56" y2="198.75" stroke="#7a2232" stroke-width="0.9" />
<line x1="282.68" y1="203.59" x2="282.68" y2="193.03" stroke="#d15a72" stroke-width="1.25" />
<line x1="281.38" y1="193.03" x2="283.98" y2="193.03" stroke="#7a2232" stroke-width="0.9" />
<line x1="284.10" y1="202.02" x2="284.10" y2="189.77" stroke="#d15a72" stroke-width="1.25" />
<line x1="282.80" y1="189.77" x2="285.40" y2="189.77" stroke="#7a2232" stroke-width="0.9" />
<line x1="285.52" y1="202.41" x2="285.52" y2="196.16" stroke="#d15a72" stroke-width="1.25" />
<line x1="284.22" y1="196.16" x2="286.82" y2="196.16" stroke="#7a2232" stroke-width="0.9" />
<line x1="286.94" y1="201.22" x2="286.94" y2="191.62" stroke="#d15a72" stroke-width="1.25" />
<line x1="285.64" y1="191.62" x2="288.24" y2="191.62" stroke="#7a2232" stroke-width="0.9" />
<line x1="288.36" y1="200.49" x2="288.36" y2="193.26" stroke="#d15a72" stroke-width="1.25" />
<line x1="287.06" y1="193.26" x2="289.66" y2="193.26" stroke="#7a2232" stroke-width="0.9" />
<line x1="289.78" y1="198.71" x2="289.78" y2="192.61" stroke="#d15a72" stroke-width="1.25" />
<line x1="288.48" y1="192.61" x2="291.08" y2="192.61" stroke="#7a2232" stroke-width="0.9" />
<line x1="291.20" y1="197.27" x2="291.20" y2="190.73" stroke="#d15a72" stroke-width="1.25" />
<line x1="289.90" y1="190.73" x2="292.50" y2="190.73" stroke="#7a2232" stroke-width="0.9" />
<line x1="292.62" y1="196.56" x2="292.62" y2="190.87" stroke="#d15a72" stroke-width="1.25" />
<line x1="291.32" y1="190.87" x2="293.92" y2="190.87" stroke="#7a2232" stroke-width="0.9" />
<line x1="294.04" y1="194.07" x2="294.04" y2="186.89" stroke="#d15a72" stroke-width="1.25" />
<line x1="292.74" y1="186.89" x2="295.34" y2="186.89" stroke="#7a2232" stroke-width="0.9" />
<line x1="295.46" y1="194.12" x2="295.46" y2="190.10" stroke="#d15a72" stroke-width="1.25" />
<line x1="294.16" y1="190.10" x2="296.76" y2="190.10" stroke="#7a2232" stroke-width="0.9" />
<line x1="296.88" y1="192.42" x2="296.88" y2="184.76" stroke="#d15a72" stroke-width="1.25" />
<line x1="295.58" y1="184.76" x2="298.18" y2="184.76" stroke="#7a2232" stroke-width="0.9" />
<line x1="298.30" y1="190.65" x2="298.30" y2="186.14" stroke="#d15a72" stroke-width="1.25" />
<line x1="297.00" y1="186.14" x2="299.60" y2="186.14" stroke="#7a2232" stroke-width="0.9" />
<line x1="299.72" y1="189.52" x2="299.72" y2="178.20" stroke="#d15a72" stroke-width="1.25" />
<line x1="298.42" y1="178.20" x2="301.02" y2="178.20" stroke="#7a2232" stroke-width="0.9" />
<line x1="301.14" y1="189.04" x2="301.14" y2="179.32" stroke="#d15a72" stroke-width="1.25" />
<line x1="299.84" y1="179.32" x2="302.44" y2="179.32" stroke="#7a2232" stroke-width="0.9" />
<line x1="302.56" y1="187.25" x2="302.56" y2="183.59" stroke="#d15a72" stroke-width="1.25" />
<line x1="301.26" y1="183.59" x2="303.86" y2="183.59" stroke="#7a2232" stroke-width="0.9" />
<line x1="303.98" y1="186.18" x2="303.98" y2="174.70" stroke="#d15a72" stroke-width="1.25" />
<line x1="302.68" y1="174.70" x2="305.28" y2="174.70" stroke="#7a2232" stroke-width="0.9" />
<line x1="305.40" y1="184.91" x2="305.40" y2="179.35" stroke="#d15a72" stroke-width="1.25" />
<line x1="304.10" y1="179.35" x2="306.70" y2="179.35" stroke="#7a2232" stroke-width="0.9" />
<line x1="306.82" y1="182.98" x2="306.82" y2="174.48" stroke="#d15a72" stroke-width="1.25" />
<line x1="305.52" y1="174.48" x2="308.12" y2="174.48" stroke="#7a2232" stroke-width="0.9" />
<line x1="308.24" y1="181.04" x2="308.24" y2="171.78" stroke="#d15a72" stroke-width="1.25" />
<line x1="306.94" y1="171.78" x2="309.54" y2="171.78" stroke="#7a2232" stroke-width="0.9" />
<line x1="309.66" y1="180.46" x2="309.66" y2="173.46" stroke="#d15a72" stroke-width="1.25" />
<line x1="308.36" y1="173.46" x2="310.96" y2="173.46" stroke="#7a2232" stroke-width="0.9" />
<line x1="311.08" y1="178.59" x2="311.08" y2="172.03" stroke="#d15a72" stroke-width="1.25" />
<line x1="309.78" y1="172.03" x2="312.38" y2="172.03" stroke="#7a2232" stroke-width="0.9" />
<line x1="312.50" y1="177.51" x2="312.50" y2="169.47" stroke="#d15a72" stroke-width="1.25" />
<line x1="311.20" y1="169.47" x2="313.80" y2="169.47" stroke="#7a2232" stroke-width="0.9" />
<line x1="313.92" y1="176.33" x2="313.92" y2="171.32" stroke="#d15a72" stroke-width="1.25" />
<line x1="312.62" y1="171.32" x2="315.22" y2="171.32" stroke="#7a2232" stroke-width="0.9" />
<line x1="315.34" y1="175.63" x2="315.34" y2="163.24" stroke="#d15a72" stroke-width="1.25" />
<line x1="314.04" y1="163.24" x2="316.64" y2="163.24" stroke="#7a2232" stroke-width="0.9" />
<line x1="316.76" y1="174.02" x2="316.76" y2="169.26" stroke="#d15a72" stroke-width="1.25" />
<line x1="315.46" y1="169.26" x2="318.06" y2="169.26" stroke="#7a2232" stroke-width="0.9" />
<line x1="318.18" y1="174.91" x2="318.18" y2="162.92" stroke="#d15a72" stroke-width="1.25" />
<line x1="316.88" y1="162.92" x2="319.48" y2="162.92" stroke="#7a2232" stroke-width="0.9" />
<line x1="319.60" y1="175.18" x2="319.60" y2="169.34" stroke="#d15a72" stroke-width="1.25" />
<line x1="318.30" y1="169.34" x2="320.90" y2="169.34" stroke="#7a2232" stroke-width="0.9" />
<line x1="321.02" y1="173.55" x2="321.02" y2="166.84" stroke="#d15a72" stroke-width="1.25" />
<line x1="319.72" y1="166.84" x2="322.32" y2="166.84" stroke="#7a2232" stroke-width="0.9" />
<line x1="322.44" y1="173.93" x2="322.44" y2="166.37" stroke="#d15a72" stroke-width="1.25" />
<line x1="321.14" y1="166.37" x2="323.74" y2="166.37" stroke="#7a2232" stroke-width="0.9" />
<line x1="323.86" y1="174.57" x2="323.86" y2="170.61" stroke="#d15a72" stroke-width="1.25" />
<line x1="322.56" y1="170.61" x2="325.16" y2="170.61" stroke="#7a2232" stroke-width="0.9" />
<line x1="325.28" y1="172.78" x2="325.28" y2="167.85" stroke="#d15a72" stroke-width="1.25" />
<line x1="323.98" y1="167.85" x2="326.58" y2="167.85" stroke="#7a2232" stroke-width="0.9" />
<line x1="326.70" y1="173.16" x2="326.70" y2="165.87" stroke="#d15a72" stroke-width="1.25" />
<line x1="325.40" y1="165.87" x2="328.00" y2="165.87" stroke="#7a2232" stroke-width="0.9" />
<line x1="328.12" y1="174.78" x2="328.12" y2="166.67" stroke="#d15a72" stroke-width="1.25" />
<line x1="326.82" y1="166.67" x2="329.42" y2="166.67" stroke="#7a2232" stroke-width="0.9" />
<line x1="329.54" y1="175.06" x2="329.54" y2="162.54" stroke="#d15a72" stroke-width="1.25" />
<line x1="328.24" y1="162.54" x2="330.84" y2="162.54" stroke="#7a2232" stroke-width="0.9" />
<line x1="330.96" y1="174.83" x2="330.96" y2="168.23" stroke="#d15a72" stroke-width="1.25" />
<line x1="329.66" y1="168.23" x2="332.26" y2="168.23" stroke="#7a2232" stroke-width="0.9" />
<line x1="332.38" y1="173.98" x2="332.38" y2="172.02" stroke="#d15a72" stroke-width="1.25" />
<line x1="331.08" y1="172.02" x2="333.68" y2="172.02" stroke="#7a2232" stroke-width="0.9" />
<line x1="333.80" y1="174.75" x2="333.80" y2="170.38" stroke="#d15a72" stroke-width="1.25" />
<line x1="332.50" y1="170.38" x2="335.10" y2="170.38" stroke="#7a2232" stroke-width="0.9" />
<line x1="335.22" y1="175.87" x2="335.22" y2="173.49" stroke="#d15a72" stroke-width="1.25" />
<line x1="333.92" y1="173.49" x2="336.52" y2="173.49" stroke="#7a2232" stroke-width="0.9" />
<line x1="336.64" y1="176.04" x2="336.64" y2="170.35" stroke="#d15a72" stroke-width="1.25" />
<line x1="335.34" y1="170.35" x2="337.94" y2="170.35" stroke="#7a2232" stroke-width="0.9" />
<line x1="338.06" y1="175.98" x2="338.06" y2="172.65" stroke="#d15a72" stroke-width="1.25" />
<line x1="336.76" y1="172.65" x2="339.36" y2="172.65" stroke="#7a2232" stroke-width="0.9" />
<line x1="339.48" y1="174.78" x2="339.48" y2="168.65" stroke="#d15a72" stroke-width="1.25" />
<line x1="338.18" y1="168.65" x2="340.78" y2="168.65" stroke="#7a2232" stroke-width="0.9" />
<line x1="340.90" y1="176.62" x2="340.90" y2="172.20" stroke="#d15a72" stroke-width="1.25" />
<line x1="339.60" y1="172.20" x2="342.20" y2="172.20" stroke="#7a2232" stroke-width="0.9" />
<line x1="342.32" y1="176.00" x2="342.32" y2="173.64" stroke="#d15a72" stroke-width="1.25" />
<line x1="341.02" y1="173.64" x2="343.62" y2="173.64" stroke="#7a2232" stroke-width="0.9" />
<line x1="343.74" y1="177.19" x2="343.74" y2="175.41" stroke="#d15a72" stroke-width="1.25" />
<line x1="342.44" y1="175.41" x2="345.04" y2="175.41" stroke="#7a2232" stroke-width="0.9" />
<line x1="345.16" y1="176.35" x2="345.16" y2="173.38" stroke="#d15a72" stroke-width="1.25" />
<line x1="343.86" y1="173.38" x2="346.46" y2="173.38" stroke="#7a2232" stroke-width="0.9" />
<line x1="346.58" y1="178.72" x2="346.58" y2="172.71" stroke="#d15a72" stroke-width="1.25" />
<line x1="345.28" y1="172.71" x2="347.88" y2="172.71" stroke="#7a2232" stroke-width="0.9" />
<line x1="348.00" y1="178.46" x2="348.00" y2="175.98" stroke="#d15a72" stroke-width="1.25" />
<line x1="346.70" y1="175.98" x2="349.30" y2="175.98" stroke="#7a2232" stroke-width="0.9" />
<line x1="349.42" y1="179.28" x2="349.42" y2="175.18" stroke="#d15a72" stroke-width="1.25" />
<line x1="348.12" y1="175.18" x2="350.72" y2="175.18" stroke="#7a2232" stroke-width="0.9" />
<line x1="350.84" y1="178.70" x2="350.84" y2="175.13" stroke="#d15a72" stroke-width="1.25" />
<line x1="349.54" y1="175.13" x2="352.14" y2="175.13" stroke="#7a2232" stroke-width="0.9" />
<line x1="352.26" y1="180.15" x2="352.26" y2="176.71" stroke="#d15a72" stroke-width="1.25" />
<line x1="350.96" y1="176.71" x2="353.56" y2="176.71" stroke="#7a2232" stroke-width="0.9" />
<line x1="353.68" y1="180.64" x2="353.68" y2="174.96" stroke="#d15a72" stroke-width="1.25" />
<line x1="352.38" y1="174.96" x2="354.98" y2="174.96" stroke="#7a2232" stroke-width="0.9" />
<line x1="355.10" y1="181.22" x2="355.10" y2="178.42" stroke="#d15a72" stroke-width="1.25" />
<line x1="353.80" y1="178.42" x2="356.40" y2="178.42" stroke="#7a2232" stroke-width="0.9" />
<line x1="356.52" y1="181.27" x2="356.52" y2="176.00" stroke="#d15a72" stroke-width="1.25" />
<line x1="355.22" y1="176.00" x2="357.82" y2="176.00" stroke="#7a2232" stroke-width="0.9" />
<line x1="357.94" y1="182.63" x2="357.94" y2="177.61" stroke="#d15a72" stroke-width="1.25" />
<line x1="356.64" y1="177.61" x2="359.24" y2="177.61" stroke="#7a2232" stroke-width="0.9" />
<line x1="359.36" y1="182.33" x2="359.36" y2="176.00" stroke="#d15a72" stroke-width="1.25" />
<line x1="358.06" y1="176.00" x2="360.66" y2="176.00" stroke="#7a2232" stroke-width="0.9" />
<line x1="360.78" y1="182.78" x2="360.78" y2="178.48" stroke="#d15a72" stroke-width="1.25" />
<line x1="359.48" y1="178.48" x2="362.08" y2="178.48" stroke="#7a2232" stroke-width="0.9" />
<line x1="362.20" y1="183.05" x2="362.20" y2="176.79" stroke="#d15a72" stroke-width="1.25" />
<line x1="360.90" y1="176.79" x2="363.50" y2="176.79" stroke="#7a2232" stroke-width="0.9" />
<polyline points="234.40,231.97 235.82,232.91 237.24,232.90 238.66,233.27 240.08,231.81 241.50,231.91 242.92,231.72 244.34,231.90 245.76,232.71 247.18,230.81 248.60,231.13 250.02,229.86 251.44,228.96 252.86,228.19 254.28,228.01 255.70,226.29 257.12,223.63 258.54,222.85 259.96,221.20 261.38,221.44 262.80,219.94 264.22,218.78 265.64,217.71 267.06,216.41 268.48,215.74 269.90,214.31 271.32,212.10 272.74,212.38 274.16,210.55 275.58,210.10 277.00,208.65 278.42,207.27 279.84,205.99 281.26,204.99 282.68,203.59 284.10,202.02 285.52,202.41 286.94,201.22 288.36,200.49 289.78,198.71 291.20,197.27 292.62,196.56 294.04,194.07 295.46,194.12 296.88,192.42 298.30,190.65 299.72,189.52 301.14,189.04 302.56,187.25 303.98,186.18 305.40,184.91 306.82,182.98 308.24,181.04 309.66,180.46 311.08,178.59 312.50,177.51 313.92,176.33 315.34,175.63 316.76,174.02 318.18,174.91 319.60,175.18 321.02,173.55 322.44,173.93 323.86,174.57 325.28,172.78 326.70,173.16 328.12,174.78 329.54,175.06 330.96,174.83 332.38,173.98 333.80,174.75 335.22,175.87 336.64,176.04 338.06,175.98 339.48,174.78 340.90,176.62 342.32,176.00 343.74,177.19 345.16,176.35 346.58,178.72 348.00,178.46 349.42,179.28 350.84,178.70 352.26,180.15 353.68,180.64 355.10,181.22 356.52,181.27 357.94,182.63 359.36,182.33 360.78,182.78 362.20,183.05" fill="none" stroke="#a90d2c" stroke-width="3.2" stroke-linejoin="round" />
<rect x="232.80" y="230.37" width="3.20" height="3.20" fill="#a90d2c"/>
<rect x="234.22" y="231.31" width="3.20" height="3.20" fill="#a90d2c"/>
<rect x="235.64" y="231.30" width="3.20" height="3.20" fill="#a90d2c"/>
<rect x="237.06" y="231.67" width="3.20" height="3.20" fill="#a90d2c"/>
<rect x="238.48" y="230.21" width="3.20" height="3.20" fill="#a90d2c"/>
<rect x="239.90" y="230.31" width="3.20" height="3.20" fill="#a90d2c"/>
<rect x="241.32" y="230.12" width="3.20" height="3.20" fill="#a90d2c"/>
<rect x="242.74" y="230.30" width="3.20" height="3.20" fill="#a90d2c"/>
<rect x="244.16" y="231.11" width="3.20" height="3.20" fill="#a90d2c"/>
<rect x="245.58" y="229.21" width="3.20" height="3.20" fill="#a90d2c"/>
<rect x="247.00" y="229.53" width="3.20" height="3.20" fill="#a90d2c"/>
<rect x="248.42" y="228.26" width="3.20" height="3.20" fill="#a90d2c"/>
<rect x="249.84" y="227.36" width="3.20" height="3.20" fill="#a90d2c"/>
<rect x="251.26" y="226.59" width="3.20" height="3.20" fill="#a90d2c"/>
<rect x="252.68" y="226.41" width="3.20" height="3.20" fill="#a90d2c"/>
<rect x="254.10" y="224.69" width="3.20" height="3.20" fill="#a90d2c"/>
<rect x="255.52" y="222.03" width="3.20" height="3.20" fill="#a90d2c"/>
<rect x="256.94" y="221.25" width="3.20" height="3.20" fill="#a90d2c"/>
<rect x="258.36" y="219.60" width="3.20" height="3.20" fill="#a90d2c"/>
<rect x="259.78" y="219.84" width="3.20" height="3.20" fill="#a90d2c"/>
<rect x="261.20" y="218.34" width="3.20" height="3.20" fill="#a90d2c"/>
<rect x="262.62" y="217.18" width="3.20" height="3.20" fill="#a90d2c"/>
<rect x="264.04" y="216.11" width="3.20" height="3.20" fill="#a90d2c"/>
<rect x="265.46" y="214.81" width="3.20" height="3.20" fill="#a90d2c"/>
<rect x="266.88" y="214.14" width="3.20" height="3.20" fill="#a90d2c"/>
<rect x="268.30" y="212.71" width="3.20" height="3.20" fill="#a90d2c"/>
<rect x="269.72" y="210.50" width="3.20" height="3.20" fill="#a90d2c"/>
<rect x="271.14" y="210.78" width="3.20" height="3.20" fill="#a90d2c"/>
<rect x="272.56" y="208.95" width="3.20" height="3.20" fill="#a90d2c"/>
<rect x="273.98" y="208.50" width="3.20" height="3.20" fill="#a90d2c"/>
<rect x="275.40" y="207.05" width="3.20" height="3.20" fill="#a90d2c"/>
<rect x="276.82" y="205.67" width="3.20" height="3.20" fill="#a90d2c"/>
<rect x="278.24" y="204.39" width="3.20" height="3.20" fill="#a90d2c"/>
<rect x="279.66" y="203.39" width="3.20" height="3.20" fill="#a90d2c"/>
<rect x="281.08" y="201.99" width="3.20" height="3.20" fill="#a90d2c"/>
<rect x="282.50" y="200.42" width="3.20" height="3.20" fill="#a90d2c"/>
<rect x="283.92" y="200.81" width="3.20" height="3.20" fill="#a90d2c"/>
<rect x="285.34" y="199.62" width="3.20" height="3.20" fill="#a90d2c"/>
<rect x="286.76" y="198.89" width="3.20" height="3.20" fill="#a90d2c"/>
<rect x="288.18" y="197.11" width="3.20" height="3.20" fill="#a90d2c"/>
<rect x="289.60" y="195.67" width="3.20" height="3.20" fill="#a90d2c"/>
<rect x="291.02" y="194.96" width="3.20" height="3.20" fill="#a90d2c"/>
<rect x="292.44" y="192.47" width="3.20" height="3.20" fill="#a90d2c"/>
<rect x="293.86" y="192.52" width="3.20" height="3.20" fill="#a90d2c"/>
<rect x="295.28" y="190.82" width="3.20" height="3.20" fill="#a90d2c"/>
<rect x="296.70" y="189.05" width="3.20" height="3.20" fill="#a90d2c"/>
<rect x="298.12" y="187.92" width="3.20" height="3.20" fill="#a90d2c"/>
<rect x="299.54" y="187.44" width="3.20" height="3.20" fill="#a90d2c"/>
<rect x="300.96" y="185.65" width="3.20" height="3.20" fill="#a90d2c"/>
<rect x="302.38" y="184.58" width="3.20" height="3.20" fill="#a90d2c"/>
<rect x="303.80" y="183.31" width="3.20" height="3.20" fill="#a90d2c"/>
<rect x="305.22" y="181.38" width="3.20" height="3.20" fill="#a90d2c"/>
<rect x="306.64" y="179.44" width="3.20" height="3.20" fill="#a90d2c"/>
<rect x="308.06" y="178.86" width="3.20" height="3.20" fill="#a90d2c"/>
<rect x="309.48" y="176.99" width="3.20" height="3.20" fill="#a90d2c"/>
<rect x="310.90" y="175.91" width="3.20" height="3.20" fill="#a90d2c"/>
<rect x="312.32" y="174.73" width="3.20" height="3.20" fill="#a90d2c"/>
<rect x="313.74" y="174.03" width="3.20" height="3.20" fill="#a90d2c"/>
<rect x="315.16" y="172.42" width="3.20" height="3.20" fill="#a90d2c"/>
<rect x="316.58" y="173.31" width="3.20" height="3.20" fill="#a90d2c"/>
<rect x="318.00" y="173.58" width="3.20" height="3.20" fill="#a90d2c"/>
<rect x="319.42" y="171.95" width="3.20" height="3.20" fill="#a90d2c"/>
<rect x="320.84" y="172.33" width="3.20" height="3.20" fill="#a90d2c"/>
<rect x="322.26" y="172.97" width="3.20" height="3.20" fill="#a90d2c"/>
<rect x="323.68" y="171.18" width="3.20" height="3.20" fill="#a90d2c"/>
<rect x="325.10" y="171.56" width="3.20" height="3.20" fill="#a90d2c"/>
<rect x="326.52" y="173.18" width="3.20" height="3.20" fill="#a90d2c"/>
<rect x="327.94" y="173.46" width="3.20" height="3.20" fill="#a90d2c"/>
<rect x="329.36" y="173.23" width="3.20" height="3.20" fill="#a90d2c"/>
<rect x="330.78" y="172.38" width="3.20" height="3.20" fill="#a90d2c"/>
<rect x="332.20" y="173.15" width="3.20" height="3.20" fill="#a90d2c"/>
<rect x="333.62" y="174.27" width="3.20" height="3.20" fill="#a90d2c"/>
<rect x="335.04" y="174.44" width="3.20" height="3.20" fill="#a90d2c"/>
<rect x="336.46" y="174.38" width="3.20" height="3.20" fill="#a90d2c"/>
<rect x="337.88" y="173.18" width="3.20" height="3.20" fill="#a90d2c"/>
<rect x="339.30" y="175.02" width="3.20" height="3.20" fill="#a90d2c"/>
<rect x="340.72" y="174.40" width="3.20" height="3.20" fill="#a90d2c"/>
<rect x="342.14" y="175.59" width="3.20" height="3.20" fill="#a90d2c"/>
<rect x="343.56" y="174.75" width="3.20" height="3.20" fill="#a90d2c"/>
<rect x="344.98" y="177.12" width="3.20" height="3.20" fill="#a90d2c"/>
<rect x="346.40" y="176.86" width="3.20" height="3.20" fill="#a90d2c"/>
<rect x="347.82" y="177.68" width="3.20" height="3.20" fill="#a90d2c"/>
<rect x="349.24" y="177.10" width="3.20" height="3.20" fill="#a90d2c"/>
<rect x="350.66" y="178.55" width="3.20" height="3.20" fill="#a90d2c"/>
<rect x="352.08" y="179.04" width="3.20" height="3.20" fill="#a90d2c"/>
<rect x="353.50" y="179.62" width="3.20" height="3.20" fill="#a90d2c"/>
<rect x="354.92" y="179.67" width="3.20" height="3.20" fill="#a90d2c"/>
<rect x="356.34" y="181.03" width="3.20" height="3.20" fill="#a90d2c"/>
<rect x="357.76" y="180.73" width="3.20" height="3.20" fill="#a90d2c"/>
<rect x="359.18" y="181.18" width="3.20" height="3.20" fill="#a90d2c"/>
<rect x="360.60" y="181.45" width="3.20" height="3.20" fill="#a90d2c"/>
<line x1="234.40" y1="232.44" x2="234.40" y2="233.24" stroke="#7cbd5e" stroke-width="1.25" />
<line x1="233.10" y1="233.24" x2="235.70" y2="233.24" stroke="#86977f" stroke-width="0.9" />
<line x1="235.82" y1="232.71" x2="235.82" y2="233.60" stroke="#7cbd5e" stroke-width="1.25" />
<line x1="234.52" y1="233.60" x2="237.12" y2="233.60" stroke="#86977f" stroke-width="0.9" />
<line x1="237.24" y1="233.49" x2="237.24" y2="233.60" stroke="#7cbd5e" stroke-width="1.25" />
<line x1="235.94" y1="233.60" x2="238.54" y2="233.60" stroke="#86977f" stroke-width="0.9" />
<line x1="238.66" y1="232.62" x2="238.66" y2="233.47" stroke="#7cbd5e" stroke-width="1.25" />
<line x1="237.36" y1="233.47" x2="239.96" y2="233.47" stroke="#86977f" stroke-width="0.9" />
<line x1="240.08" y1="232.76" x2="240.08" y2="233.31" stroke="#7cbd5e" stroke-width="1.25" />
<line x1="238.78" y1="233.31" x2="241.38" y2="233.31" stroke="#86977f" stroke-width="0.9" />
<line x1="241.50" y1="232.97" x2="241.50" y2="233.54" stroke="#7cbd5e" stroke-width="1.25" />
<line x1="240.20" y1="233.54" x2="242.80" y2="233.54" stroke="#86977f" stroke-width="0.9" />
<line x1="242.92" y1="232.22" x2="242.92" y2="233.46" stroke="#7cbd5e" stroke-width="1.25" />
<line x1="241.62" y1="233.46" x2="244.22" y2="233.46" stroke="#86977f" stroke-width="0.9" />
<line x1="244.34" y1="232.93" x2="244.34" y2="233.60" stroke="#7cbd5e" stroke-width="1.25" />
<line x1="243.04" y1="233.60" x2="245.64" y2="233.60" stroke="#86977f" stroke-width="0.9" />
<line x1="245.76" y1="233.21" x2="245.76" y2="233.60" stroke="#7cbd5e" stroke-width="1.25" />
<line x1="244.46" y1="233.60" x2="247.06" y2="233.60" stroke="#86977f" stroke-width="0.9" />
<line x1="247.18" y1="233.52" x2="247.18" y2="233.60" stroke="#7cbd5e" stroke-width="1.25" />
<line x1="245.88" y1="233.60" x2="248.48" y2="233.60" stroke="#86977f" stroke-width="0.9" />
<line x1="248.60" y1="231.61" x2="248.60" y2="233.60" stroke="#7cbd5e" stroke-width="1.25" />
<line x1="247.30" y1="233.60" x2="249.90" y2="233.60" stroke="#86977f" stroke-width="0.9" />
<line x1="250.02" y1="231.52" x2="250.02" y2="233.60" stroke="#7cbd5e" stroke-width="1.25" />
<line x1="248.72" y1="233.60" x2="251.32" y2="233.60" stroke="#86977f" stroke-width="0.9" />
<line x1="251.44" y1="230.53" x2="251.44" y2="233.60" stroke="#7cbd5e" stroke-width="1.25" />
<line x1="250.14" y1="233.60" x2="252.74" y2="233.60" stroke="#86977f" stroke-width="0.9" />
<line x1="252.86" y1="231.25" x2="252.86" y2="233.60" stroke="#7cbd5e" stroke-width="1.25" />
<line x1="251.56" y1="233.60" x2="254.16" y2="233.60" stroke="#86977f" stroke-width="0.9" />
<line x1="254.28" y1="230.19" x2="254.28" y2="233.60" stroke="#7cbd5e" stroke-width="1.25" />
<line x1="252.98" y1="233.60" x2="255.58" y2="233.60" stroke="#86977f" stroke-width="0.9" />
<line x1="255.70" y1="228.05" x2="255.70" y2="230.38" stroke="#7cbd5e" stroke-width="1.25" />
<line x1="254.40" y1="230.38" x2="257.00" y2="230.38" stroke="#86977f" stroke-width="0.9" />
<line x1="257.12" y1="229.06" x2="257.12" y2="231.26" stroke="#7cbd5e" stroke-width="1.25" />
<line x1="255.82" y1="231.26" x2="258.42" y2="231.26" stroke="#86977f" stroke-width="0.9" />
<line x1="258.54" y1="227.92" x2="258.54" y2="233.51" stroke="#7cbd5e" stroke-width="1.25" />
<line x1="257.24" y1="233.51" x2="259.84" y2="233.51" stroke="#86977f" stroke-width="0.9" />
<line x1="259.96" y1="226.19" x2="259.96" y2="231.37" stroke="#7cbd5e" stroke-width="1.25" />
<line x1="258.66" y1="231.37" x2="261.26" y2="231.37" stroke="#86977f" stroke-width="0.9" />
<line x1="261.38" y1="225.01" x2="261.38" y2="227.63" stroke="#7cbd5e" stroke-width="1.25" />
<line x1="260.08" y1="227.63" x2="262.68" y2="227.63" stroke="#86977f" stroke-width="0.9" />
<line x1="262.80" y1="222.99" x2="262.80" y2="225.34" stroke="#7cbd5e" stroke-width="1.25" />
<line x1="261.50" y1="225.34" x2="264.10" y2="225.34" stroke="#86977f" stroke-width="0.9" />
<line x1="264.22" y1="221.50" x2="264.22" y2="226.32" stroke="#7cbd5e" stroke-width="1.25" />
<line x1="262.92" y1="226.32" x2="265.52" y2="226.32" stroke="#86977f" stroke-width="0.9" />
<line x1="265.64" y1="221.18" x2="265.64" y2="226.91" stroke="#7cbd5e" stroke-width="1.25" />
<line x1="264.34" y1="226.91" x2="266.94" y2="226.91" stroke="#86977f" stroke-width="0.9" />
<line x1="267.06" y1="218.90" x2="267.06" y2="221.29" stroke="#7cbd5e" stroke-width="1.25" />
<line x1="265.76" y1="221.29" x2="268.36" y2="221.29" stroke="#86977f" stroke-width="0.9" />
<line x1="268.48" y1="217.83" x2="268.48" y2="223.60" stroke="#7cbd5e" stroke-width="1.25" />
<line x1="267.18" y1="223.60" x2="269.78" y2="223.60" stroke="#86977f" stroke-width="0.9" />
<line x1="269.90" y1="216.74" x2="269.90" y2="222.21" stroke="#7cbd5e" stroke-width="1.25" />
<line x1="268.60" y1="222.21" x2="271.20" y2="222.21" stroke="#86977f" stroke-width="0.9" />
<line x1="271.32" y1="215.40" x2="271.32" y2="219.61" stroke="#7cbd5e" stroke-width="1.25" />
<line x1="270.02" y1="219.61" x2="272.62" y2="219.61" stroke="#86977f" stroke-width="0.9" />
<line x1="272.74" y1="215.35" x2="272.74" y2="218.74" stroke="#7cbd5e" stroke-width="1.25" />
<line x1="271.44" y1="218.74" x2="274.04" y2="218.74" stroke="#86977f" stroke-width="0.9" />
<line x1="274.16" y1="214.38" x2="274.16" y2="216.35" stroke="#7cbd5e" stroke-width="1.25" />
<line x1="272.86" y1="216.35" x2="275.46" y2="216.35" stroke="#86977f" stroke-width="0.9" />
<line x1="275.58" y1="214.27" x2="275.58" y2="215.94" stroke="#7cbd5e" stroke-width="1.25" />
<line x1="274.28" y1="215.94" x2="276.88" y2="215.94" stroke="#86977f" stroke-width="0.9" />
<line x1="277.00" y1="212.71" x2="277.00" y2="218.54" stroke="#7cbd5e" stroke-width="1.25" />
<line x1="275.70" y1="218.54" x2="278.30" y2="218.54" stroke="#86977f" stroke-width="0.9" />
<line x1="278.42" y1="211.98" x2="278.42" y2="214.56" stroke="#7cbd5e" stroke-width="1.25" />
<line x1="277.12" y1="214.56" x2="279.72" y2="214.56" stroke="#86977f" stroke-width="0.9" />
<line x1="279.84" y1="210.66" x2="279.84" y2="215.33" stroke="#7cbd5e" stroke-width="1.25" />
<line x1="278.54" y1="215.33" x2="281.14" y2="215.33" stroke="#86977f" stroke-width="0.9" />
<line x1="281.26" y1="209.95" x2="281.26" y2="212.61" stroke="#7cbd5e" stroke-width="1.25" />
<line x1="279.96" y1="212.61" x2="282.56" y2="212.61" stroke="#86977f" stroke-width="0.9" />
<line x1="282.68" y1="208.51" x2="282.68" y2="213.71" stroke="#7cbd5e" stroke-width="1.25" />
<line x1="281.38" y1="213.71" x2="283.98" y2="213.71" stroke="#86977f" stroke-width="0.9" />
<line x1="284.10" y1="207.11" x2="284.10" y2="211.30" stroke="#7cbd5e" stroke-width="1.25" />
<line x1="282.80" y1="211.30" x2="285.40" y2="211.30" stroke="#86977f" stroke-width="0.9" />
<line x1="285.52" y1="207.52" x2="285.52" y2="210.34" stroke="#7cbd5e" stroke-width="1.25" />
<line x1="284.22" y1="210.34" x2="286.82" y2="210.34" stroke="#86977f" stroke-width="0.9" />
<line x1="286.94" y1="206.48" x2="286.94" y2="208.77" stroke="#7cbd5e" stroke-width="1.25" />
<line x1="285.64" y1="208.77" x2="288.24" y2="208.77" stroke="#86977f" stroke-width="0.9" />
<line x1="288.36" y1="204.95" x2="288.36" y2="209.69" stroke="#7cbd5e" stroke-width="1.25" />
<line x1="287.06" y1="209.69" x2="289.66" y2="209.69" stroke="#86977f" stroke-width="0.9" />
<line x1="289.78" y1="203.37" x2="289.78" y2="205.18" stroke="#7cbd5e" stroke-width="1.25" />
<line x1="288.48" y1="205.18" x2="291.08" y2="205.18" stroke="#86977f" stroke-width="0.9" />
<line x1="291.20" y1="201.28" x2="291.20" y2="203.81" stroke="#7cbd5e" stroke-width="1.25" />
<line x1="289.90" y1="203.81" x2="292.50" y2="203.81" stroke="#86977f" stroke-width="0.9" />
<line x1="292.62" y1="199.80" x2="292.62" y2="203.81" stroke="#7cbd5e" stroke-width="1.25" />
<line x1="291.32" y1="203.81" x2="293.92" y2="203.81" stroke="#86977f" stroke-width="0.9" />
<line x1="294.04" y1="198.61" x2="294.04" y2="203.94" stroke="#7cbd5e" stroke-width="1.25" />
<line x1="292.74" y1="203.94" x2="295.34" y2="203.94" stroke="#86977f" stroke-width="0.9" />
<line x1="295.46" y1="196.88" x2="295.46" y2="201.15" stroke="#7cbd5e" stroke-width="1.25" />
<line x1="294.16" y1="201.15" x2="296.76" y2="201.15" stroke="#86977f" stroke-width="0.9" />
<line x1="296.88" y1="197.05" x2="296.88" y2="199.81" stroke="#7cbd5e" stroke-width="1.25" />
<line x1="295.58" y1="199.81" x2="298.18" y2="199.81" stroke="#86977f" stroke-width="0.9" />
<line x1="298.30" y1="195.09" x2="298.30" y2="200.71" stroke="#7cbd5e" stroke-width="1.25" />
<line x1="297.00" y1="200.71" x2="299.60" y2="200.71" stroke="#86977f" stroke-width="0.9" />
<line x1="299.72" y1="194.75" x2="299.72" y2="197.17" stroke="#7cbd5e" stroke-width="1.25" />
<line x1="298.42" y1="197.17" x2="301.02" y2="197.17" stroke="#86977f" stroke-width="0.9" />
<line x1="301.14" y1="192.61" x2="301.14" y2="194.18" stroke="#7cbd5e" stroke-width="1.25" />
<line x1="299.84" y1="194.18" x2="302.44" y2="194.18" stroke="#86977f" stroke-width="0.9" />
<line x1="302.56" y1="192.53" x2="302.56" y2="195.24" stroke="#7cbd5e" stroke-width="1.25" />
<line x1="301.26" y1="195.24" x2="303.86" y2="195.24" stroke="#86977f" stroke-width="0.9" />
<line x1="303.98" y1="191.18" x2="303.98" y2="194.68" stroke="#7cbd5e" stroke-width="1.25" />
<line x1="302.68" y1="194.68" x2="305.28" y2="194.68" stroke="#86977f" stroke-width="0.9" />
<line x1="305.40" y1="188.38" x2="305.40" y2="190.15" stroke="#7cbd5e" stroke-width="1.25" />
<line x1="304.10" y1="190.15" x2="306.70" y2="190.15" stroke="#86977f" stroke-width="0.9" />
<line x1="306.82" y1="187.69" x2="306.82" y2="189.98" stroke="#7cbd5e" stroke-width="1.25" />
<line x1="305.52" y1="189.98" x2="308.12" y2="189.98" stroke="#86977f" stroke-width="0.9" />
<line x1="308.24" y1="187.98" x2="308.24" y2="191.14" stroke="#7cbd5e" stroke-width="1.25" />
<line x1="306.94" y1="191.14" x2="309.54" y2="191.14" stroke="#86977f" stroke-width="0.9" />
<line x1="309.66" y1="186.00" x2="309.66" y2="190.08" stroke="#7cbd5e" stroke-width="1.25" />
<line x1="308.36" y1="190.08" x2="310.96" y2="190.08" stroke="#86977f" stroke-width="0.9" />
<line x1="311.08" y1="185.92" x2="311.08" y2="188.01" stroke="#7cbd5e" stroke-width="1.25" />
<line x1="309.78" y1="188.01" x2="312.38" y2="188.01" stroke="#86977f" stroke-width="0.9" />
<line x1="312.50" y1="183.65" x2="312.50" y2="186.78" stroke="#7cbd5e" stroke-width="1.25" />
<line x1="311.20" y1="186.78" x2="313.80" y2="186.78" stroke="#86977f" stroke-width="0.9" />
<line x1="313.92" y1="181.90" x2="313.92" y2="187.41" stroke="#7cbd5e" stroke-width="1.25" />
<line x1="312.62" y1="187.41" x2="315.22" y2="187.41" stroke="#86977f" stroke-width="0.9" />
<line x1="315.34" y1="181.91" x2="315.34" y2="187.82" stroke="#7cbd5e" stroke-width="1.25" />
<line x1="314.04" y1="187.82" x2="316.64" y2="187.82" stroke="#86977f" stroke-width="0.9" />
<line x1="316.76" y1="181.19" x2="316.76" y2="185.65" stroke="#7cbd5e" stroke-width="1.25" />
<line x1="315.46" y1="185.65" x2="318.06" y2="185.65" stroke="#86977f" stroke-width="0.9" />
<line x1="318.18" y1="179.56" x2="318.18" y2="184.17" stroke="#7cbd5e" stroke-width="1.25" />
<line x1="316.88" y1="184.17" x2="319.48" y2="184.17" stroke="#86977f" stroke-width="0.9" />
<line x1="319.60" y1="178.57" x2="319.60" y2="182.70" stroke="#7cbd5e" stroke-width="1.25" />
<line x1="318.30" y1="182.70" x2="320.90" y2="182.70" stroke="#86977f" stroke-width="0.9" />
<line x1="321.02" y1="178.44" x2="321.02" y2="180.58" stroke="#7cbd5e" stroke-width="1.25" />
<line x1="319.72" y1="180.58" x2="322.32" y2="180.58" stroke="#86977f" stroke-width="0.9" />
<line x1="322.44" y1="179.14" x2="322.44" y2="180.79" stroke="#7cbd5e" stroke-width="1.25" />
<line x1="321.14" y1="180.79" x2="323.74" y2="180.79" stroke="#86977f" stroke-width="0.9" />
<line x1="323.86" y1="178.58" x2="323.86" y2="180.16" stroke="#7cbd5e" stroke-width="1.25" />
<line x1="322.56" y1="180.16" x2="325.16" y2="180.16" stroke="#86977f" stroke-width="0.9" />
<line x1="325.28" y1="177.15" x2="325.28" y2="182.74" stroke="#7cbd5e" stroke-width="1.25" />
<line x1="323.98" y1="182.74" x2="326.58" y2="182.74" stroke="#86977f" stroke-width="0.9" />
<line x1="326.70" y1="177.26" x2="326.70" y2="181.91" stroke="#7cbd5e" stroke-width="1.25" />
<line x1="325.40" y1="181.91" x2="328.00" y2="181.91" stroke="#86977f" stroke-width="0.9" />
<line x1="328.12" y1="176.83" x2="328.12" y2="182.66" stroke="#7cbd5e" stroke-width="1.25" />
<line x1="326.82" y1="182.66" x2="329.42" y2="182.66" stroke="#86977f" stroke-width="0.9" />
<line x1="329.54" y1="176.77" x2="329.54" y2="178.37" stroke="#7cbd5e" stroke-width="1.25" />
<line x1="328.24" y1="178.37" x2="330.84" y2="178.37" stroke="#86977f" stroke-width="0.9" />
<line x1="330.96" y1="178.28" x2="330.96" y2="182.64" stroke="#7cbd5e" stroke-width="1.25" />
<line x1="329.66" y1="182.64" x2="332.26" y2="182.64" stroke="#86977f" stroke-width="0.9" />
<line x1="332.38" y1="177.07" x2="332.38" y2="180.74" stroke="#7cbd5e" stroke-width="1.25" />
<line x1="331.08" y1="180.74" x2="333.68" y2="180.74" stroke="#86977f" stroke-width="0.9" />
<line x1="333.80" y1="177.87" x2="333.80" y2="185.05" stroke="#7cbd5e" stroke-width="1.25" />
<line x1="332.50" y1="185.05" x2="335.10" y2="185.05" stroke="#86977f" stroke-width="0.9" />
<line x1="335.22" y1="177.85" x2="335.22" y2="182.25" stroke="#7cbd5e" stroke-width="1.25" />
<line x1="333.92" y1="182.25" x2="336.52" y2="182.25" stroke="#86977f" stroke-width="0.9" />
<line x1="336.64" y1="177.54" x2="336.64" y2="186.54" stroke="#7cbd5e" stroke-width="1.25" />
<line x1="335.34" y1="186.54" x2="337.94" y2="186.54" stroke="#86977f" stroke-width="0.9" />
<line x1="338.06" y1="178.83" x2="338.06" y2="181.59" stroke="#7cbd5e" stroke-width="1.25" />
<line x1="336.76" y1="181.59" x2="339.36" y2="181.59" stroke="#86977f" stroke-width="0.9" />
<line x1="339.48" y1="177.84" x2="339.48" y2="183.77" stroke="#7cbd5e" stroke-width="1.25" />
<line x1="338.18" y1="183.77" x2="340.78" y2="183.77" stroke="#86977f" stroke-width="0.9" />
<line x1="340.90" y1="179.30" x2="340.90" y2="186.52" stroke="#7cbd5e" stroke-width="1.25" />
<line x1="339.60" y1="186.52" x2="342.20" y2="186.52" stroke="#86977f" stroke-width="0.9" />
<line x1="342.32" y1="178.70" x2="342.32" y2="187.03" stroke="#7cbd5e" stroke-width="1.25" />
<line x1="341.02" y1="187.03" x2="343.62" y2="187.03" stroke="#86977f" stroke-width="0.9" />
<line x1="343.74" y1="179.77" x2="343.74" y2="186.99" stroke="#7cbd5e" stroke-width="1.25" />
<line x1="342.44" y1="186.99" x2="345.04" y2="186.99" stroke="#86977f" stroke-width="0.9" />
<line x1="345.16" y1="179.81" x2="345.16" y2="186.81" stroke="#7cbd5e" stroke-width="1.25" />
<line x1="343.86" y1="186.81" x2="346.46" y2="186.81" stroke="#86977f" stroke-width="0.9" />
<line x1="346.58" y1="180.34" x2="346.58" y2="187.95" stroke="#7cbd5e" stroke-width="1.25" />
<line x1="345.28" y1="187.95" x2="347.88" y2="187.95" stroke="#86977f" stroke-width="0.9" />
<line x1="348.00" y1="182.16" x2="348.00" y2="190.58" stroke="#7cbd5e" stroke-width="1.25" />
<line x1="346.70" y1="190.58" x2="349.30" y2="190.58" stroke="#86977f" stroke-width="0.9" />
<line x1="349.42" y1="182.23" x2="349.42" y2="186.86" stroke="#7cbd5e" stroke-width="1.25" />
<line x1="348.12" y1="186.86" x2="350.72" y2="186.86" stroke="#86977f" stroke-width="0.9" />
<line x1="350.84" y1="181.65" x2="350.84" y2="188.52" stroke="#7cbd5e" stroke-width="1.25" />
<line x1="349.54" y1="188.52" x2="352.14" y2="188.52" stroke="#86977f" stroke-width="0.9" />
<line x1="352.26" y1="183.22" x2="352.26" y2="191.56" stroke="#7cbd5e" stroke-width="1.25" />
<line x1="350.96" y1="191.56" x2="353.56" y2="191.56" stroke="#86977f" stroke-width="0.9" />
<line x1="353.68" y1="182.30" x2="353.68" y2="190.43" stroke="#7cbd5e" stroke-width="1.25" />
<line x1="352.38" y1="190.43" x2="354.98" y2="190.43" stroke="#86977f" stroke-width="0.9" />
<line x1="355.10" y1="183.08" x2="355.10" y2="188.15" stroke="#7cbd5e" stroke-width="1.25" />
<line x1="353.80" y1="188.15" x2="356.40" y2="188.15" stroke="#86977f" stroke-width="0.9" />
<line x1="356.52" y1="184.43" x2="356.52" y2="192.01" stroke="#7cbd5e" stroke-width="1.25" />
<line x1="355.22" y1="192.01" x2="357.82" y2="192.01" stroke="#86977f" stroke-width="0.9" />
<line x1="357.94" y1="184.33" x2="357.94" y2="192.41" stroke="#7cbd5e" stroke-width="1.25" />
<line x1="356.64" y1="192.41" x2="359.24" y2="192.41" stroke="#86977f" stroke-width="0.9" />
<line x1="359.36" y1="183.54" x2="359.36" y2="189.65" stroke="#7cbd5e" stroke-width="1.25" />
<line x1="358.06" y1="189.65" x2="360.66" y2="189.65" stroke="#86977f" stroke-width="0.9" />
<line x1="360.78" y1="185.61" x2="360.78" y2="192.07" stroke="#7cbd5e" stroke-width="1.25" />
<line x1="359.48" y1="192.07" x2="362.08" y2="192.07" stroke="#86977f" stroke-width="0.9" />
<line x1="362.20" y1="184.34" x2="362.20" y2="189.17" stroke="#7cbd5e" stroke-width="1.25" />
<line x1="360.90" y1="189.17" x2="363.50" y2="189.17" stroke="#86977f" stroke-width="0.9" />
<polyline points="234.40,232.44 235.82,232.71 237.24,233.49 238.66,232.62 240.08,232.76 241.50,232.97 242.92,232.22 244.34,232.93 245.76,233.21 247.18,233.52 248.60,231.61 250.02,231.52 251.44,230.53 252.86,231.25 254.28,230.19 255.70,228.05 257.12,229.06 258.54,227.92 259.96,226.19 261.38,225.01 262.80,222.99 264.22,221.50 265.64,221.18 267.06,218.90 268.48,217.83 269.90,216.74 271.32,215.40 272.74,215.35 274.16,214.38 275.58,214.27 277.00,212.71 278.42,211.98 279.84,210.66 281.26,209.95 282.68,208.51 284.10,207.11 285.52,207.52 286.94,206.48 288.36,204.95 289.78,203.37 291.20,201.28 292.62,199.80 294.04,198.61 295.46,196.88 296.88,197.05 298.30,195.09 299.72,194.75 301.14,192.61 302.56,192.53 303.98,191.18 305.40,188.38 306.82,187.69 308.24,187.98 309.66,186.00 311.08,185.92 312.50,183.65 313.92,181.90 315.34,181.91 316.76,181.19 318.18,179.56 319.60,178.57 321.02,178.44 322.44,179.14 323.86,178.58 325.28,177.15 326.70,177.26 328.12,176.83 329.54,176.77 330.96,178.28 332.38,177.07 333.80,177.87 335.22,177.85 336.64,177.54 338.06,178.83 339.48,177.84 340.90,179.30 342.32,178.70 343.74,179.77 345.16,179.81 346.58,180.34 348.00,182.16 349.42,182.23 350.84,181.65 352.26,183.22 353.68,182.30 355.10,183.08 356.52,184.43 357.94,184.33 359.36,183.54 360.78,185.61 362.20,184.34" fill="none" stroke="#60ae3d" stroke-width="3.6" stroke-linejoin="round" />
<rect x="232.70" y="230.74" width="3.40" height="3.40" fill="#60ae3d"/>
<rect x="234.12" y="231.01" width="3.40" height="3.40" fill="#60ae3d"/>
<rect x="235.54" y="231.79" width="3.40" height="3.40" fill="#60ae3d"/>
<rect x="236.96" y="230.92" width="3.40" height="3.40" fill="#60ae3d"/>
<rect x="238.38" y="231.06" width="3.40" height="3.40" fill="#60ae3d"/>
<rect x="239.80" y="231.27" width="3.40" height="3.40" fill="#60ae3d"/>
<rect x="241.22" y="230.52" width="3.40" height="3.40" fill="#60ae3d"/>
<rect x="242.64" y="231.23" width="3.40" height="3.40" fill="#60ae3d"/>
<rect x="244.06" y="231.51" width="3.40" height="3.40" fill="#60ae3d"/>
<rect x="245.48" y="231.82" width="3.40" height="3.40" fill="#60ae3d"/>
<rect x="246.90" y="229.91" width="3.40" height="3.40" fill="#60ae3d"/>
<rect x="248.32" y="229.82" width="3.40" height="3.40" fill="#60ae3d"/>
<rect x="249.74" y="228.83" width="3.40" height="3.40" fill="#60ae3d"/>
<rect x="251.16" y="229.55" width="3.40" height="3.40" fill="#60ae3d"/>
<rect x="252.58" y="228.49" width="3.40" height="3.40" fill="#60ae3d"/>
<rect x="254.00" y="226.35" width="3.40" height="3.40" fill="#60ae3d"/>
<rect x="255.42" y="227.36" width="3.40" height="3.40" fill="#60ae3d"/>
<rect x="256.84" y="226.22" width="3.40" height="3.40" fill="#60ae3d"/>
<rect x="258.26" y="224.49" width="3.40" height="3.40" fill="#60ae3d"/>
<rect x="259.68" y="223.31" width="3.40" height="3.40" fill="#60ae3d"/>
<rect x="261.10" y="221.29" width="3.40" height="3.40" fill="#60ae3d"/>
<rect x="262.52" y="219.80" width="3.40" height="3.40" fill="#60ae3d"/>
<rect x="263.94" y="219.48" width="3.40" height="3.40" fill="#60ae3d"/>
<rect x="265.36" y="217.20" width="3.40" height="3.40" fill="#60ae3d"/>
<rect x="266.78" y="216.13" width="3.40" height="3.40" fill="#60ae3d"/>
<rect x="268.20" y="215.04" width="3.40" height="3.40" fill="#60ae3d"/>
<rect x="269.62" y="213.70" width="3.40" height="3.40" fill="#60ae3d"/>
<rect x="271.04" y="213.65" width="3.40" height="3.40" fill="#60ae3d"/>
<rect x="272.46" y="212.68" width="3.40" height="3.40" fill="#60ae3d"/>
<rect x="273.88" y="212.57" width="3.40" height="3.40" fill="#60ae3d"/>
<rect x="275.30" y="211.01" width="3.40" height="3.40" fill="#60ae3d"/>
<rect x="276.72" y="210.28" width="3.40" height="3.40" fill="#60ae3d"/>
<rect x="278.14" y="208.96" width="3.40" height="3.40" fill="#60ae3d"/>
<rect x="279.56" y="208.25" width="3.40" height="3.40" fill="#60ae3d"/>
<rect x="280.98" y="206.81" width="3.40" height="3.40" fill="#60ae3d"/>
<rect x="282.40" y="205.41" width="3.40" height="3.40" fill="#60ae3d"/>
<rect x="283.82" y="205.82" width="3.40" height="3.40" fill="#60ae3d"/>
<rect x="285.24" y="204.78" width="3.40" height="3.40" fill="#60ae3d"/>
<rect x="286.66" y="203.25" width="3.40" height="3.40" fill="#60ae3d"/>
<rect x="288.08" y="201.67" width="3.40" height="3.40" fill="#60ae3d"/>
<rect x="289.50" y="199.58" width="3.40" height="3.40" fill="#60ae3d"/>
<rect x="290.92" y="198.10" width="3.40" height="3.40" fill="#60ae3d"/>
<rect x="292.34" y="196.91" width="3.40" height="3.40" fill="#60ae3d"/>
<rect x="293.76" y="195.18" width="3.40" height="3.40" fill="#60ae3d"/>
<rect x="295.18" y="195.35" width="3.40" height="3.40" fill="#60ae3d"/>
<rect x="296.60" y="193.39" width="3.40" height="3.40" fill="#60ae3d"/>
<rect x="298.02" y="193.05" width="3.40" height="3.40" fill="#60ae3d"/>
<rect x="299.44" y="190.91" width="3.40" height="3.40" fill="#60ae3d"/>
<rect x="300.86" y="190.83" width="3.40" height="3.40" fill="#60ae3d"/>
<rect x="302.28" y="189.48" width="3.40" height="3.40" fill="#60ae3d"/>
<rect x="303.70" y="186.68" width="3.40" height="3.40" fill="#60ae3d"/>
<rect x="305.12" y="185.99" width="3.40" height="3.40" fill="#60ae3d"/>
<rect x="306.54" y="186.28" width="3.40" height="3.40" fill="#60ae3d"/>
<rect x="307.96" y="184.30" width="3.40" height="3.40" fill="#60ae3d"/>
<rect x="309.38" y="184.22" width="3.40" height="3.40" fill="#60ae3d"/>
<rect x="310.80" y="181.95" width="3.40" height="3.40" fill="#60ae3d"/>
<rect x="312.22" y="180.20" width="3.40" height="3.40" fill="#60ae3d"/>
<rect x="313.64" y="180.21" width="3.40" height="3.40" fill="#60ae3d"/>
<rect x="315.06" y="179.49" width="3.40" height="3.40" fill="#60ae3d"/>
<rect x="316.48" y="177.86" width="3.40" height="3.40" fill="#60ae3d"/>
<rect x="317.90" y="176.87" width="3.40" height="3.40" fill="#60ae3d"/>
<rect x="319.32" y="176.74" width="3.40" height="3.40" fill="#60ae3d"/>
<rect x="320.74" y="177.44" width="3.40" height="3.40" fill="#60ae3d"/>
<rect x="322.16" y="176.88" width="3.40" height="3.40" fill="#60ae3d"/>
<rect x="323.58" y="175.45" width="3.40" height="3.40" fill="#60ae3d"/>
<rect x="325.00" y="175.56" width="3.40" height="3.40" fill="#60ae3d"/>
<rect x="326.42" y="175.13" width="3.40" height="3.40" fill="#60ae3d"/>
<rect x="327.84" y="175.07" width="3.40" height="3.40" fill="#60ae3d"/>
<rect x="329.26" y="176.58" width="3.40" height="3.40" fill="#60ae3d"/>
<rect x="330.68" y="175.37" width="3.40" height="3.40" fill="#60ae3d"/>
<rect x="332.10" y="176.17" width="3.40" height="3.40" fill="#60ae3d"/>
<rect x="333.52" y="176.15" width="3.40" height="3.40" fill="#60ae3d"/>
<rect x="334.94" y="175.84" width="3.40" height="3.40" fill="#60ae3d"/>
<rect x="336.36" y="177.13" width="3.40" height="3.40" fill="#60ae3d"/>
<rect x="337.78" y="176.14" width="3.40" height="3.40" fill="#60ae3d"/>
<rect x="339.20" y="177.60" width="3.40" height="3.40" fill="#60ae3d"/>
<rect x="340.62" y="177.00" width="3.40" height="3.40" fill="#60ae3d"/>
<rect x="342.04" y="178.07" width="3.40" height="3.40" fill="#60ae3d"/>
<rect x="343.46" y="178.11" width="3.40" height="3.40" fill="#60ae3d"/>
<rect x="344.88" y="178.64" width="3.40" height="3.40" fill="#60ae3d"/>
<rect x="346.30" y="180.46" width="3.40" height="3.40" fill="#60ae3d"/>
<rect x="347.72" y="180.53" width="3.40" height="3.40" fill="#60ae3d"/>
<rect x="349.14" y="179.95" width="3.40" height="3.40" fill="#60ae3d"/>
<rect x="350.56" y="181.52" width="3.40" height="3.40" fill="#60ae3d"/>
<rect x="351.98" y="180.60" width="3.40" height="3.40" fill="#60ae3d"/>
<rect x="353.40" y="181.38" width="3.40" height="3.40" fill="#60ae3d"/>
<rect x="354.82" y="182.73" width="3.40" height="3.40" fill="#60ae3d"/>
<rect x="356.24" y="182.63" width="3.40" height="3.40" fill="#60ae3d"/>
<rect x="357.66" y="181.84" width="3.40" height="3.40" fill="#60ae3d"/>
<rect x="359.08" y="183.91" width="3.40" height="3.40" fill="#60ae3d"/>
<rect x="360.50" y="182.64" width="3.40" height="3.40" fill="#60ae3d"/>
<text x="237.70" y="152.50" font-size="8.5" text-anchor="start" font-weight="normal" font-style="normal" fill="#1a1a1a" stroke="#1a1a1a" stroke-width="0.18" >Zymosan</text>
<text x="237.70" y="162.20" font-size="8.5" text-anchor="start" font-weight="normal" font-style="normal" fill="#1a1a1a" stroke="#1a1a1a" stroke-width="0.18" >100&#181;g/ml</text>
<rect x="59.20" y="293.80" width="68.30" height="47.80" fill="none" stroke="#7f8399" stroke-width="1.05"/>
<rect x="41.20" y="292.40" width="87.30" height="86.50" fill="none" stroke="#111" stroke-width="1.4"/>
<line x1="37.60" y1="300.50" x2="41.20" y2="300.50" stroke="#111" stroke-width="1.3" />
<line x1="39.00" y1="294.69" x2="41.20" y2="294.69" stroke="#111" stroke-width="0.95" />
<line x1="37.60" y1="319.80" x2="41.20" y2="319.80" stroke="#111" stroke-width="1.3" />
<line x1="39.00" y1="313.99" x2="41.20" y2="313.99" stroke="#111" stroke-width="0.95" />
<line x1="39.00" y1="310.59" x2="41.20" y2="310.59" stroke="#111" stroke-width="0.95" />
<line x1="39.00" y1="308.18" x2="41.20" y2="308.18" stroke="#111" stroke-width="0.95" />
<line x1="39.00" y1="306.31" x2="41.20" y2="306.31" stroke="#111" stroke-width="0.95" />
<line x1="39.00" y1="304.78" x2="41.20" y2="304.78" stroke="#111" stroke-width="0.95" />
<line x1="39.00" y1="303.49" x2="41.20" y2="303.49" stroke="#111" stroke-width="0.95" />
<line x1="39.00" y1="302.37" x2="41.20" y2="302.37" stroke="#111" stroke-width="0.95" />
<line x1="39.00" y1="301.38" x2="41.20" y2="301.38" stroke="#111" stroke-width="0.95" />
<line x1="37.60" y1="339.10" x2="41.20" y2="339.10" stroke="#111" stroke-width="1.3" />
<line x1="39.00" y1="333.29" x2="41.20" y2="333.29" stroke="#111" stroke-width="0.95" />
<line x1="39.00" y1="329.89" x2="41.20" y2="329.89" stroke="#111" stroke-width="0.95" />
<line x1="39.00" y1="327.48" x2="41.20" y2="327.48" stroke="#111" stroke-width="0.95" />
<line x1="39.00" y1="325.61" x2="41.20" y2="325.61" stroke="#111" stroke-width="0.95" />
<line x1="39.00" y1="324.08" x2="41.20" y2="324.08" stroke="#111" stroke-width="0.95" />
<line x1="39.00" y1="322.79" x2="41.20" y2="322.79" stroke="#111" stroke-width="0.95" />
<line x1="39.00" y1="321.67" x2="41.20" y2="321.67" stroke="#111" stroke-width="0.95" />
<line x1="39.00" y1="320.68" x2="41.20" y2="320.68" stroke="#111" stroke-width="0.95" />
<line x1="37.60" y1="358.40" x2="41.20" y2="358.40" stroke="#111" stroke-width="1.3" />
<line x1="39.00" y1="352.59" x2="41.20" y2="352.59" stroke="#111" stroke-width="0.95" />
<line x1="39.00" y1="349.19" x2="41.20" y2="349.19" stroke="#111" stroke-width="0.95" />
<line x1="39.00" y1="346.78" x2="41.20" y2="346.78" stroke="#111" stroke-width="0.95" />
<line x1="39.00" y1="344.91" x2="41.20" y2="344.91" stroke="#111" stroke-width="0.95" />
<line x1="39.00" y1="343.38" x2="41.20" y2="343.38" stroke="#111" stroke-width="0.95" />
<line x1="39.00" y1="342.09" x2="41.20" y2="342.09" stroke="#111" stroke-width="0.95" />
<line x1="39.00" y1="340.97" x2="41.20" y2="340.97" stroke="#111" stroke-width="0.95" />
<line x1="39.00" y1="339.98" x2="41.20" y2="339.98" stroke="#111" stroke-width="0.95" />
<line x1="37.60" y1="377.70" x2="41.20" y2="377.70" stroke="#111" stroke-width="1.3" />
<line x1="39.00" y1="371.89" x2="41.20" y2="371.89" stroke="#111" stroke-width="0.95" />
<line x1="39.00" y1="368.49" x2="41.20" y2="368.49" stroke="#111" stroke-width="0.95" />
<line x1="39.00" y1="366.08" x2="41.20" y2="366.08" stroke="#111" stroke-width="0.95" />
<line x1="39.00" y1="364.21" x2="41.20" y2="364.21" stroke="#111" stroke-width="0.95" />
<line x1="39.00" y1="362.68" x2="41.20" y2="362.68" stroke="#111" stroke-width="0.95" />
<line x1="39.00" y1="361.39" x2="41.20" y2="361.39" stroke="#111" stroke-width="0.95" />
<line x1="39.00" y1="360.27" x2="41.20" y2="360.27" stroke="#111" stroke-width="0.95" />
<line x1="39.00" y1="359.28" x2="41.20" y2="359.28" stroke="#111" stroke-width="0.95" />
<line x1="40.40" y1="378.90" x2="40.40" y2="382.30" stroke="#111" stroke-width="1.3" />
<line x1="45.49" y1="378.90" x2="45.49" y2="381.00" stroke="#111" stroke-width="0.95" />
<line x1="48.46" y1="378.90" x2="48.46" y2="381.00" stroke="#111" stroke-width="0.95" />
<line x1="50.57" y1="378.90" x2="50.57" y2="381.00" stroke="#111" stroke-width="0.95" />
<line x1="52.21" y1="378.90" x2="52.21" y2="381.00" stroke="#111" stroke-width="0.95" />
<line x1="53.55" y1="378.90" x2="53.55" y2="381.00" stroke="#111" stroke-width="0.95" />
<line x1="54.68" y1="378.90" x2="54.68" y2="381.00" stroke="#111" stroke-width="0.95" />
<line x1="55.66" y1="378.90" x2="55.66" y2="381.00" stroke="#111" stroke-width="0.95" />
<line x1="56.53" y1="378.90" x2="56.53" y2="381.00" stroke="#111" stroke-width="0.95" />
<line x1="57.30" y1="378.90" x2="57.30" y2="382.30" stroke="#111" stroke-width="1.3" />
<line x1="62.39" y1="378.90" x2="62.39" y2="381.00" stroke="#111" stroke-width="0.95" />
<line x1="65.36" y1="378.90" x2="65.36" y2="381.00" stroke="#111" stroke-width="0.95" />
<line x1="67.47" y1="378.90" x2="67.47" y2="381.00" stroke="#111" stroke-width="0.95" />
<line x1="69.11" y1="378.90" x2="69.11" y2="381.00" stroke="#111" stroke-width="0.95" />
<line x1="70.45" y1="378.90" x2="70.45" y2="381.00" stroke="#111" stroke-width="0.95" />
<line x1="71.58" y1="378.90" x2="71.58" y2="381.00" stroke="#111" stroke-width="0.95" />
<line x1="72.56" y1="378.90" x2="72.56" y2="381.00" stroke="#111" stroke-width="0.95" />
<line x1="73.43" y1="378.90" x2="73.43" y2="381.00" stroke="#111" stroke-width="0.95" />
<line x1="74.20" y1="378.90" x2="74.20" y2="382.30" stroke="#111" stroke-width="1.3" />
<line x1="79.29" y1="378.90" x2="79.29" y2="381.00" stroke="#111" stroke-width="0.95" />
<line x1="82.26" y1="378.90" x2="82.26" y2="381.00" stroke="#111" stroke-width="0.95" />
<line x1="84.37" y1="378.90" x2="84.37" y2="381.00" stroke="#111" stroke-width="0.95" />
<line x1="86.01" y1="378.90" x2="86.01" y2="381.00" stroke="#111" stroke-width="0.95" />
<line x1="87.35" y1="378.90" x2="87.35" y2="381.00" stroke="#111" stroke-width="0.95" />
<line x1="88.48" y1="378.90" x2="88.48" y2="381.00" stroke="#111" stroke-width="0.95" />
<line x1="89.46" y1="378.90" x2="89.46" y2="381.00" stroke="#111" stroke-width="0.95" />
<line x1="90.33" y1="378.90" x2="90.33" y2="381.00" stroke="#111" stroke-width="0.95" />
<line x1="91.10" y1="378.90" x2="91.10" y2="382.30" stroke="#111" stroke-width="1.3" />
<line x1="96.19" y1="378.90" x2="96.19" y2="381.00" stroke="#111" stroke-width="0.95" />
<line x1="99.16" y1="378.90" x2="99.16" y2="381.00" stroke="#111" stroke-width="0.95" />
<line x1="101.27" y1="378.90" x2="101.27" y2="381.00" stroke="#111" stroke-width="0.95" />
<line x1="102.91" y1="378.90" x2="102.91" y2="381.00" stroke="#111" stroke-width="0.95" />
<line x1="104.25" y1="378.90" x2="104.25" y2="381.00" stroke="#111" stroke-width="0.95" />
<line x1="105.38" y1="378.90" x2="105.38" y2="381.00" stroke="#111" stroke-width="0.95" />
<line x1="106.36" y1="378.90" x2="106.36" y2="381.00" stroke="#111" stroke-width="0.95" />
<line x1="107.23" y1="378.90" x2="107.23" y2="381.00" stroke="#111" stroke-width="0.95" />
<line x1="108.00" y1="378.90" x2="108.00" y2="382.30" stroke="#111" stroke-width="1.3" />
<line x1="113.09" y1="378.90" x2="113.09" y2="381.00" stroke="#111" stroke-width="0.95" />
<line x1="116.06" y1="378.90" x2="116.06" y2="381.00" stroke="#111" stroke-width="0.95" />
<line x1="118.17" y1="378.90" x2="118.17" y2="381.00" stroke="#111" stroke-width="0.95" />
<line x1="119.81" y1="378.90" x2="119.81" y2="381.00" stroke="#111" stroke-width="0.95" />
<line x1="121.15" y1="378.90" x2="121.15" y2="381.00" stroke="#111" stroke-width="0.95" />
<line x1="122.28" y1="378.90" x2="122.28" y2="381.00" stroke="#111" stroke-width="0.95" />
<line x1="123.26" y1="378.90" x2="123.26" y2="381.00" stroke="#111" stroke-width="0.95" />
<line x1="124.13" y1="378.90" x2="124.13" y2="381.00" stroke="#111" stroke-width="0.95" />
<line x1="124.90" y1="378.90" x2="124.90" y2="382.30" stroke="#111" stroke-width="1.3" />
<text x="93.40" y="321.20" font-size="8.3" text-anchor="middle" font-weight="normal" font-style="normal" fill="#465379" stroke="#465379" stroke-width="0.18" >1.19</text>
<g transform="translate(85.50,395.1) scale(0.84,1)"><text x="0" y="0" font-size="11.4" text-anchor="middle" font-style="italic" fill="#1a1a1a" stroke="#1a1a1a" stroke-width="0.18">WT (ice)</text></g>
<rect x="156.30" y="295.00" width="67.10" height="46.60" fill="none" stroke="#7f8399" stroke-width="1.05"/>
<rect x="138.30" y="293.60" width="86.10" height="85.30" fill="none" stroke="#111" stroke-width="1.4"/>
<line x1="134.70" y1="301.70" x2="138.30" y2="301.70" stroke="#111" stroke-width="1.3" />
<line x1="136.10" y1="295.89" x2="138.30" y2="295.89" stroke="#111" stroke-width="0.95" />
<line x1="134.70" y1="321.00" x2="138.30" y2="321.00" stroke="#111" stroke-width="1.3" />
<line x1="136.10" y1="315.19" x2="138.30" y2="315.19" stroke="#111" stroke-width="0.95" />
<line x1="136.10" y1="311.79" x2="138.30" y2="311.79" stroke="#111" stroke-width="0.95" />
<line x1="136.10" y1="309.38" x2="138.30" y2="309.38" stroke="#111" stroke-width="0.95" />
<line x1="136.10" y1="307.51" x2="138.30" y2="307.51" stroke="#111" stroke-width="0.95" />
<line x1="136.10" y1="305.98" x2="138.30" y2="305.98" stroke="#111" stroke-width="0.95" />
<line x1="136.10" y1="304.69" x2="138.30" y2="304.69" stroke="#111" stroke-width="0.95" />
<line x1="136.10" y1="303.57" x2="138.30" y2="303.57" stroke="#111" stroke-width="0.95" />
<line x1="136.10" y1="302.58" x2="138.30" y2="302.58" stroke="#111" stroke-width="0.95" />
<line x1="134.70" y1="340.30" x2="138.30" y2="340.30" stroke="#111" stroke-width="1.3" />
<line x1="136.10" y1="334.49" x2="138.30" y2="334.49" stroke="#111" stroke-width="0.95" />
<line x1="136.10" y1="331.09" x2="138.30" y2="331.09" stroke="#111" stroke-width="0.95" />
<line x1="136.10" y1="328.68" x2="138.30" y2="328.68" stroke="#111" stroke-width="0.95" />
<line x1="136.10" y1="326.81" x2="138.30" y2="326.81" stroke="#111" stroke-width="0.95" />
<line x1="136.10" y1="325.28" x2="138.30" y2="325.28" stroke="#111" stroke-width="0.95" />
<line x1="136.10" y1="323.99" x2="138.30" y2="323.99" stroke="#111" stroke-width="0.95" />
<line x1="136.10" y1="322.87" x2="138.30" y2="322.87" stroke="#111" stroke-width="0.95" />
<line x1="136.10" y1="321.88" x2="138.30" y2="321.88" stroke="#111" stroke-width="0.95" />
<line x1="134.70" y1="359.60" x2="138.30" y2="359.60" stroke="#111" stroke-width="1.3" />
<line x1="136.10" y1="353.79" x2="138.30" y2="353.79" stroke="#111" stroke-width="0.95" />
<line x1="136.10" y1="350.39" x2="138.30" y2="350.39" stroke="#111" stroke-width="0.95" />
<line x1="136.10" y1="347.98" x2="138.30" y2="347.98" stroke="#111" stroke-width="0.95" />
<line x1="136.10" y1="346.11" x2="138.30" y2="346.11" stroke="#111" stroke-width="0.95" />
<line x1="136.10" y1="344.58" x2="138.30" y2="344.58" stroke="#111" stroke-width="0.95" />
<line x1="136.10" y1="343.29" x2="138.30" y2="343.29" stroke="#111" stroke-width="0.95" />
<line x1="136.10" y1="342.17" x2="138.30" y2="342.17" stroke="#111" stroke-width="0.95" />
<line x1="136.10" y1="341.18" x2="138.30" y2="341.18" stroke="#111" stroke-width="0.95" />
<line x1="134.70" y1="378.90" x2="138.30" y2="378.90" stroke="#111" stroke-width="1.3" />
<line x1="136.10" y1="373.09" x2="138.30" y2="373.09" stroke="#111" stroke-width="0.95" />
<line x1="136.10" y1="369.69" x2="138.30" y2="369.69" stroke="#111" stroke-width="0.95" />
<line x1="136.10" y1="367.28" x2="138.30" y2="367.28" stroke="#111" stroke-width="0.95" />
<line x1="136.10" y1="365.41" x2="138.30" y2="365.41" stroke="#111" stroke-width="0.95" />
<line x1="136.10" y1="363.88" x2="138.30" y2="363.88" stroke="#111" stroke-width="0.95" />
<line x1="136.10" y1="362.59" x2="138.30" y2="362.59" stroke="#111" stroke-width="0.95" />
<line x1="136.10" y1="361.47" x2="138.30" y2="361.47" stroke="#111" stroke-width="0.95" />
<line x1="136.10" y1="360.48" x2="138.30" y2="360.48" stroke="#111" stroke-width="0.95" />
<line x1="137.50" y1="378.90" x2="137.50" y2="382.30" stroke="#111" stroke-width="1.3" />
<line x1="142.59" y1="378.90" x2="142.59" y2="381.00" stroke="#111" stroke-width="0.95" />
<line x1="145.56" y1="378.90" x2="145.56" y2="381.00" stroke="#111" stroke-width="0.95" />
<line x1="147.67" y1="378.90" x2="147.67" y2="381.00" stroke="#111" stroke-width="0.95" />
<line x1="149.31" y1="378.90" x2="149.31" y2="381.00" stroke="#111" stroke-width="0.95" />
<line x1="150.65" y1="378.90" x2="150.65" y2="381.00" stroke="#111" stroke-width="0.95" />
<line x1="151.78" y1="378.90" x2="151.78" y2="381.00" stroke="#111" stroke-width="0.95" />
<line x1="152.76" y1="378.90" x2="152.76" y2="381.00" stroke="#111" stroke-width="0.95" />
<line x1="153.63" y1="378.90" x2="153.63" y2="381.00" stroke="#111" stroke-width="0.95" />
<line x1="154.40" y1="378.90" x2="154.40" y2="382.30" stroke="#111" stroke-width="1.3" />
<line x1="159.49" y1="378.90" x2="159.49" y2="381.00" stroke="#111" stroke-width="0.95" />
<line x1="162.46" y1="378.90" x2="162.46" y2="381.00" stroke="#111" stroke-width="0.95" />
<line x1="164.57" y1="378.90" x2="164.57" y2="381.00" stroke="#111" stroke-width="0.95" />
<line x1="166.21" y1="378.90" x2="166.21" y2="381.00" stroke="#111" stroke-width="0.95" />
<line x1="167.55" y1="378.90" x2="167.55" y2="381.00" stroke="#111" stroke-width="0.95" />
<line x1="168.68" y1="378.90" x2="168.68" y2="381.00" stroke="#111" stroke-width="0.95" />
<line x1="169.66" y1="378.90" x2="169.66" y2="381.00" stroke="#111" stroke-width="0.95" />
<line x1="170.53" y1="378.90" x2="170.53" y2="381.00" stroke="#111" stroke-width="0.95" />
<line x1="171.30" y1="378.90" x2="171.30" y2="382.30" stroke="#111" stroke-width="1.3" />
<line x1="176.39" y1="378.90" x2="176.39" y2="381.00" stroke="#111" stroke-width="0.95" />
<line x1="179.36" y1="378.90" x2="179.36" y2="381.00" stroke="#111" stroke-width="0.95" />
<line x1="181.47" y1="378.90" x2="181.47" y2="381.00" stroke="#111" stroke-width="0.95" />
<line x1="183.11" y1="378.90" x2="183.11" y2="381.00" stroke="#111" stroke-width="0.95" />
<line x1="184.45" y1="378.90" x2="184.45" y2="381.00" stroke="#111" stroke-width="0.95" />
<line x1="185.58" y1="378.90" x2="185.58" y2="381.00" stroke="#111" stroke-width="0.95" />
<line x1="186.56" y1="378.90" x2="186.56" y2="381.00" stroke="#111" stroke-width="0.95" />
<line x1="187.43" y1="378.90" x2="187.43" y2="381.00" stroke="#111" stroke-width="0.95" />
<line x1="188.20" y1="378.90" x2="188.20" y2="382.30" stroke="#111" stroke-width="1.3" />
<line x1="193.29" y1="378.90" x2="193.29" y2="381.00" stroke="#111" stroke-width="0.95" />
<line x1="196.26" y1="378.90" x2="196.26" y2="381.00" stroke="#111" stroke-width="0.95" />
<line x1="198.37" y1="378.90" x2="198.37" y2="381.00" stroke="#111" stroke-width="0.95" />
<line x1="200.01" y1="378.90" x2="200.01" y2="381.00" stroke="#111" stroke-width="0.95" />
<line x1="201.35" y1="378.90" x2="201.35" y2="381.00" stroke="#111" stroke-width="0.95" />
<line x1="202.48" y1="378.90" x2="202.48" y2="381.00" stroke="#111" stroke-width="0.95" />
<line x1="203.46" y1="378.90" x2="203.46" y2="381.00" stroke="#111" stroke-width="0.95" />
<line x1="204.33" y1="378.90" x2="204.33" y2="381.00" stroke="#111" stroke-width="0.95" />
<line x1="205.10" y1="378.90" x2="205.10" y2="382.30" stroke="#111" stroke-width="1.3" />
<line x1="210.19" y1="378.90" x2="210.19" y2="381.00" stroke="#111" stroke-width="0.95" />
<line x1="213.16" y1="378.90" x2="213.16" y2="381.00" stroke="#111" stroke-width="0.95" />
<line x1="215.27" y1="378.90" x2="215.27" y2="381.00" stroke="#111" stroke-width="0.95" />
<line x1="216.91" y1="378.90" x2="216.91" y2="381.00" stroke="#111" stroke-width="0.95" />
<line x1="218.25" y1="378.90" x2="218.25" y2="381.00" stroke="#111" stroke-width="0.95" />
<line x1="219.38" y1="378.90" x2="219.38" y2="381.00" stroke="#111" stroke-width="0.95" />
<line x1="220.36" y1="378.90" x2="220.36" y2="381.00" stroke="#111" stroke-width="0.95" />
<line x1="221.23" y1="378.90" x2="221.23" y2="381.00" stroke="#111" stroke-width="0.95" />
<line x1="222.00" y1="378.90" x2="222.00" y2="382.30" stroke="#111" stroke-width="1.3" />
<text x="182.00" y="321.20" font-size="8.3" text-anchor="start" font-weight="normal" font-style="normal" fill="#465379" stroke="#465379" stroke-width="0.18" >48.4</text>
<g transform="translate(181.50,395.1) scale(0.84,1)"><text x="0" y="0" font-size="11.4" text-anchor="middle" font-style="italic" fill="#1a1a1a" stroke="#1a1a1a" stroke-width="0.18">WT</text></g>
<rect x="251.80" y="295.20" width="66.60" height="46.40" fill="none" stroke="#7f8399" stroke-width="1.05"/>
<rect x="234.40" y="293.80" width="85.00" height="85.10" fill="none" stroke="#111" stroke-width="1.4"/>
<line x1="230.80" y1="301.90" x2="234.40" y2="301.90" stroke="#111" stroke-width="1.3" />
<line x1="232.20" y1="296.09" x2="234.40" y2="296.09" stroke="#111" stroke-width="0.95" />
<line x1="230.80" y1="321.20" x2="234.40" y2="321.20" stroke="#111" stroke-width="1.3" />
<line x1="232.20" y1="315.39" x2="234.40" y2="315.39" stroke="#111" stroke-width="0.95" />
<line x1="232.20" y1="311.99" x2="234.40" y2="311.99" stroke="#111" stroke-width="0.95" />
<line x1="232.20" y1="309.58" x2="234.40" y2="309.58" stroke="#111" stroke-width="0.95" />
<line x1="232.20" y1="307.71" x2="234.40" y2="307.71" stroke="#111" stroke-width="0.95" />
<line x1="232.20" y1="306.18" x2="234.40" y2="306.18" stroke="#111" stroke-width="0.95" />
<line x1="232.20" y1="304.89" x2="234.40" y2="304.89" stroke="#111" stroke-width="0.95" />
<line x1="232.20" y1="303.77" x2="234.40" y2="303.77" stroke="#111" stroke-width="0.95" />
<line x1="232.20" y1="302.78" x2="234.40" y2="302.78" stroke="#111" stroke-width="0.95" />
<line x1="230.80" y1="340.50" x2="234.40" y2="340.50" stroke="#111" stroke-width="1.3" />
<line x1="232.20" y1="334.69" x2="234.40" y2="334.69" stroke="#111" stroke-width="0.95" />
<line x1="232.20" y1="331.29" x2="234.40" y2="331.29" stroke="#111" stroke-width="0.95" />
<line x1="232.20" y1="328.88" x2="234.40" y2="328.88" stroke="#111" stroke-width="0.95" />
<line x1="232.20" y1="327.01" x2="234.40" y2="327.01" stroke="#111" stroke-width="0.95" />
<line x1="232.20" y1="325.48" x2="234.40" y2="325.48" stroke="#111" stroke-width="0.95" />
<line x1="232.20" y1="324.19" x2="234.40" y2="324.19" stroke="#111" stroke-width="0.95" />
<line x1="232.20" y1="323.07" x2="234.40" y2="323.07" stroke="#111" stroke-width="0.95" />
<line x1="232.20" y1="322.08" x2="234.40" y2="322.08" stroke="#111" stroke-width="0.95" />
<line x1="230.80" y1="359.80" x2="234.40" y2="359.80" stroke="#111" stroke-width="1.3" />
<line x1="232.20" y1="353.99" x2="234.40" y2="353.99" stroke="#111" stroke-width="0.95" />
<line x1="232.20" y1="350.59" x2="234.40" y2="350.59" stroke="#111" stroke-width="0.95" />
<line x1="232.20" y1="348.18" x2="234.40" y2="348.18" stroke="#111" stroke-width="0.95" />
<line x1="232.20" y1="346.31" x2="234.40" y2="346.31" stroke="#111" stroke-width="0.95" />
<line x1="232.20" y1="344.78" x2="234.40" y2="344.78" stroke="#111" stroke-width="0.95" />
<line x1="232.20" y1="343.49" x2="234.40" y2="343.49" stroke="#111" stroke-width="0.95" />
<line x1="232.20" y1="342.37" x2="234.40" y2="342.37" stroke="#111" stroke-width="0.95" />
<line x1="232.20" y1="341.38" x2="234.40" y2="341.38" stroke="#111" stroke-width="0.95" />
<line x1="230.80" y1="379.10" x2="234.40" y2="379.10" stroke="#111" stroke-width="1.3" />
<line x1="232.20" y1="373.29" x2="234.40" y2="373.29" stroke="#111" stroke-width="0.95" />
<line x1="232.20" y1="369.89" x2="234.40" y2="369.89" stroke="#111" stroke-width="0.95" />
<line x1="232.20" y1="367.48" x2="234.40" y2="367.48" stroke="#111" stroke-width="0.95" />
<line x1="232.20" y1="365.61" x2="234.40" y2="365.61" stroke="#111" stroke-width="0.95" />
<line x1="232.20" y1="364.08" x2="234.40" y2="364.08" stroke="#111" stroke-width="0.95" />
<line x1="232.20" y1="362.79" x2="234.40" y2="362.79" stroke="#111" stroke-width="0.95" />
<line x1="232.20" y1="361.67" x2="234.40" y2="361.67" stroke="#111" stroke-width="0.95" />
<line x1="232.20" y1="360.68" x2="234.40" y2="360.68" stroke="#111" stroke-width="0.95" />
<line x1="233.60" y1="378.90" x2="233.60" y2="382.30" stroke="#111" stroke-width="1.3" />
<line x1="238.69" y1="378.90" x2="238.69" y2="381.00" stroke="#111" stroke-width="0.95" />
<line x1="241.66" y1="378.90" x2="241.66" y2="381.00" stroke="#111" stroke-width="0.95" />
<line x1="243.77" y1="378.90" x2="243.77" y2="381.00" stroke="#111" stroke-width="0.95" />
<line x1="245.41" y1="378.90" x2="245.41" y2="381.00" stroke="#111" stroke-width="0.95" />
<line x1="246.75" y1="378.90" x2="246.75" y2="381.00" stroke="#111" stroke-width="0.95" />
<line x1="247.88" y1="378.90" x2="247.88" y2="381.00" stroke="#111" stroke-width="0.95" />
<line x1="248.86" y1="378.90" x2="248.86" y2="381.00" stroke="#111" stroke-width="0.95" />
<line x1="249.73" y1="378.90" x2="249.73" y2="381.00" stroke="#111" stroke-width="0.95" />
<line x1="250.50" y1="378.90" x2="250.50" y2="382.30" stroke="#111" stroke-width="1.3" />
<line x1="255.59" y1="378.90" x2="255.59" y2="381.00" stroke="#111" stroke-width="0.95" />
<line x1="258.56" y1="378.90" x2="258.56" y2="381.00" stroke="#111" stroke-width="0.95" />
<line x1="260.67" y1="378.90" x2="260.67" y2="381.00" stroke="#111" stroke-width="0.95" />
<line x1="262.31" y1="378.90" x2="262.31" y2="381.00" stroke="#111" stroke-width="0.95" />
<line x1="263.65" y1="378.90" x2="263.65" y2="381.00" stroke="#111" stroke-width="0.95" />
<line x1="264.78" y1="378.90" x2="264.78" y2="381.00" stroke="#111" stroke-width="0.95" />
<line x1="265.76" y1="378.90" x2="265.76" y2="381.00" stroke="#111" stroke-width="0.95" />
<line x1="266.63" y1="378.90" x2="266.63" y2="381.00" stroke="#111" stroke-width="0.95" />
<line x1="267.40" y1="378.90" x2="267.40" y2="382.30" stroke="#111" stroke-width="1.3" />
<line x1="272.49" y1="378.90" x2="272.49" y2="381.00" stroke="#111" stroke-width="0.95" />
<line x1="275.46" y1="378.90" x2="275.46" y2="381.00" stroke="#111" stroke-width="0.95" />
<line x1="277.57" y1="378.90" x2="277.57" y2="381.00" stroke="#111" stroke-width="0.95" />
<line x1="279.21" y1="378.90" x2="279.21" y2="381.00" stroke="#111" stroke-width="0.95" />
<line x1="280.55" y1="378.90" x2="280.55" y2="381.00" stroke="#111" stroke-width="0.95" />
<line x1="281.68" y1="378.90" x2="281.68" y2="381.00" stroke="#111" stroke-width="0.95" />
<line x1="282.66" y1="378.90" x2="282.66" y2="381.00" stroke="#111" stroke-width="0.95" />
<line x1="283.53" y1="378.90" x2="283.53" y2="381.00" stroke="#111" stroke-width="0.95" />
<line x1="284.30" y1="378.90" x2="284.30" y2="382.30" stroke="#111" stroke-width="1.3" />
<line x1="289.39" y1="378.90" x2="289.39" y2="381.00" stroke="#111" stroke-width="0.95" />
<line x1="292.36" y1="378.90" x2="292.36" y2="381.00" stroke="#111" stroke-width="0.95" />
<line x1="294.47" y1="378.90" x2="294.47" y2="381.00" stroke="#111" stroke-width="0.95" />
<line x1="296.11" y1="378.90" x2="296.11" y2="381.00" stroke="#111" stroke-width="0.95" />
<line x1="297.45" y1="378.90" x2="297.45" y2="381.00" stroke="#111" stroke-width="0.95" />
<line x1="298.58" y1="378.90" x2="298.58" y2="381.00" stroke="#111" stroke-width="0.95" />
<line x1="299.56" y1="378.90" x2="299.56" y2="381.00" stroke="#111" stroke-width="0.95" />
<line x1="300.43" y1="378.90" x2="300.43" y2="381.00" stroke="#111" stroke-width="0.95" />
<line x1="301.20" y1="378.90" x2="301.20" y2="382.30" stroke="#111" stroke-width="1.3" />
<line x1="306.29" y1="378.90" x2="306.29" y2="381.00" stroke="#111" stroke-width="0.95" />
<line x1="309.26" y1="378.90" x2="309.26" y2="381.00" stroke="#111" stroke-width="0.95" />
<line x1="311.37" y1="378.90" x2="311.37" y2="381.00" stroke="#111" stroke-width="0.95" />
<line x1="313.01" y1="378.90" x2="313.01" y2="381.00" stroke="#111" stroke-width="0.95" />
<line x1="314.35" y1="378.90" x2="314.35" y2="381.00" stroke="#111" stroke-width="0.95" />
<line x1="315.48" y1="378.90" x2="315.48" y2="381.00" stroke="#111" stroke-width="0.95" />
<line x1="316.46" y1="378.90" x2="316.46" y2="381.00" stroke="#111" stroke-width="0.95" />
<line x1="317.33" y1="378.90" x2="317.33" y2="381.00" stroke="#111" stroke-width="0.95" />
<line x1="318.10" y1="378.90" x2="318.10" y2="382.30" stroke="#111" stroke-width="1.3" />
<text x="281.20" y="321.20" font-size="8.3" text-anchor="start" font-weight="normal" font-style="normal" fill="#465379" stroke="#465379" stroke-width="0.18" >20.9</text>
<g transform="translate(277.50,395.1) scale(0.84,1)"><text x="0" y="0" font-size="11.4" text-anchor="middle" font-style="italic" fill="#1a1a1a" stroke="#1a1a1a" stroke-width="0.18">Stim1<tspan font-size="8.1" dy="-3.7">VavCre</tspan></text></g>
<rect x="347.90" y="295.20" width="66.30" height="46.40" fill="none" stroke="#7f8399" stroke-width="1.05"/>
<rect x="330.60" y="293.80" width="84.60" height="85.10" fill="none" stroke="#111" stroke-width="1.4"/>
<line x1="327.00" y1="301.90" x2="330.60" y2="301.90" stroke="#111" stroke-width="1.3" />
<line x1="328.40" y1="296.09" x2="330.60" y2="296.09" stroke="#111" stroke-width="0.95" />
<line x1="327.00" y1="321.20" x2="330.60" y2="321.20" stroke="#111" stroke-width="1.3" />
<line x1="328.40" y1="315.39" x2="330.60" y2="315.39" stroke="#111" stroke-width="0.95" />
<line x1="328.40" y1="311.99" x2="330.60" y2="311.99" stroke="#111" stroke-width="0.95" />
<line x1="328.40" y1="309.58" x2="330.60" y2="309.58" stroke="#111" stroke-width="0.95" />
<line x1="328.40" y1="307.71" x2="330.60" y2="307.71" stroke="#111" stroke-width="0.95" />
<line x1="328.40" y1="306.18" x2="330.60" y2="306.18" stroke="#111" stroke-width="0.95" />
<line x1="328.40" y1="304.89" x2="330.60" y2="304.89" stroke="#111" stroke-width="0.95" />
<line x1="328.40" y1="303.77" x2="330.60" y2="303.77" stroke="#111" stroke-width="0.95" />
<line x1="328.40" y1="302.78" x2="330.60" y2="302.78" stroke="#111" stroke-width="0.95" />
<line x1="327.00" y1="340.50" x2="330.60" y2="340.50" stroke="#111" stroke-width="1.3" />
<line x1="328.40" y1="334.69" x2="330.60" y2="334.69" stroke="#111" stroke-width="0.95" />
<line x1="328.40" y1="331.29" x2="330.60" y2="331.29" stroke="#111" stroke-width="0.95" />
<line x1="328.40" y1="328.88" x2="330.60" y2="328.88" stroke="#111" stroke-width="0.95" />
<line x1="328.40" y1="327.01" x2="330.60" y2="327.01" stroke="#111" stroke-width="0.95" />
<line x1="328.40" y1="325.48" x2="330.60" y2="325.48" stroke="#111" stroke-width="0.95" />
<line x1="328.40" y1="324.19" x2="330.60" y2="324.19" stroke="#111" stroke-width="0.95" />
<line x1="328.40" y1="323.07" x2="330.60" y2="323.07" stroke="#111" stroke-width="0.95" />
<line x1="328.40" y1="322.08" x2="330.60" y2="322.08" stroke="#111" stroke-width="0.95" />
<line x1="327.00" y1="359.80" x2="330.60" y2="359.80" stroke="#111" stroke-width="1.3" />
<line x1="328.40" y1="353.99" x2="330.60" y2="353.99" stroke="#111" stroke-width="0.95" />
<line x1="328.40" y1="350.59" x2="330.60" y2="350.59" stroke="#111" stroke-width="0.95" />
<line x1="328.40" y1="348.18" x2="330.60" y2="348.18" stroke="#111" stroke-width="0.95" />
<line x1="328.40" y1="346.31" x2="330.60" y2="346.31" stroke="#111" stroke-width="0.95" />
<line x1="328.40" y1="344.78" x2="330.60" y2="344.78" stroke="#111" stroke-width="0.95" />
<line x1="328.40" y1="343.49" x2="330.60" y2="343.49" stroke="#111" stroke-width="0.95" />
<line x1="328.40" y1="342.37" x2="330.60" y2="342.37" stroke="#111" stroke-width="0.95" />
<line x1="328.40" y1="341.38" x2="330.60" y2="341.38" stroke="#111" stroke-width="0.95" />
<line x1="327.00" y1="379.10" x2="330.60" y2="379.10" stroke="#111" stroke-width="1.3" />
<line x1="328.40" y1="373.29" x2="330.60" y2="373.29" stroke="#111" stroke-width="0.95" />
<line x1="328.40" y1="369.89" x2="330.60" y2="369.89" stroke="#111" stroke-width="0.95" />
<line x1="328.40" y1="367.48" x2="330.60" y2="367.48" stroke="#111" stroke-width="0.95" />
<line x1="328.40" y1="365.61" x2="330.60" y2="365.61" stroke="#111" stroke-width="0.95" />
<line x1="328.40" y1="364.08" x2="330.60" y2="364.08" stroke="#111" stroke-width="0.95" />
<line x1="328.40" y1="362.79" x2="330.60" y2="362.79" stroke="#111" stroke-width="0.95" />
<line x1="328.40" y1="361.67" x2="330.60" y2="361.67" stroke="#111" stroke-width="0.95" />
<line x1="328.40" y1="360.68" x2="330.60" y2="360.68" stroke="#111" stroke-width="0.95" />
<line x1="329.80" y1="378.90" x2="329.80" y2="382.30" stroke="#111" stroke-width="1.3" />
<line x1="334.89" y1="378.90" x2="334.89" y2="381.00" stroke="#111" stroke-width="0.95" />
<line x1="337.86" y1="378.90" x2="337.86" y2="381.00" stroke="#111" stroke-width="0.95" />
<line x1="339.97" y1="378.90" x2="339.97" y2="381.00" stroke="#111" stroke-width="0.95" />
<line x1="341.61" y1="378.90" x2="341.61" y2="381.00" stroke="#111" stroke-width="0.95" />
<line x1="342.95" y1="378.90" x2="342.95" y2="381.00" stroke="#111" stroke-width="0.95" />
<line x1="344.08" y1="378.90" x2="344.08" y2="381.00" stroke="#111" stroke-width="0.95" />
<line x1="345.06" y1="378.90" x2="345.06" y2="381.00" stroke="#111" stroke-width="0.95" />
<line x1="345.93" y1="378.90" x2="345.93" y2="381.00" stroke="#111" stroke-width="0.95" />
<line x1="346.70" y1="378.90" x2="346.70" y2="382.30" stroke="#111" stroke-width="1.3" />
<line x1="351.79" y1="378.90" x2="351.79" y2="381.00" stroke="#111" stroke-width="0.95" />
<line x1="354.76" y1="378.90" x2="354.76" y2="381.00" stroke="#111" stroke-width="0.95" />
<line x1="356.87" y1="378.90" x2="356.87" y2="381.00" stroke="#111" stroke-width="0.95" />
<line x1="358.51" y1="378.90" x2="358.51" y2="381.00" stroke="#111" stroke-width="0.95" />
<line x1="359.85" y1="378.90" x2="359.85" y2="381.00" stroke="#111" stroke-width="0.95" />
<line x1="360.98" y1="378.90" x2="360.98" y2="381.00" stroke="#111" stroke-width="0.95" />
<line x1="361.96" y1="378.90" x2="361.96" y2="381.00" stroke="#111" stroke-width="0.95" />
<line x1="362.83" y1="378.90" x2="362.83" y2="381.00" stroke="#111" stroke-width="0.95" />
<line x1="363.60" y1="378.90" x2="363.60" y2="382.30" stroke="#111" stroke-width="1.3" />
<line x1="368.69" y1="378.90" x2="368.69" y2="381.00" stroke="#111" stroke-width="0.95" />
<line x1="371.66" y1="378.90" x2="371.66" y2="381.00" stroke="#111" stroke-width="0.95" />
<line x1="373.77" y1="378.90" x2="373.77" y2="381.00" stroke="#111" stroke-width="0.95" />
<line x1="375.41" y1="378.90" x2="375.41" y2="381.00" stroke="#111" stroke-width="0.95" />
<line x1="376.75" y1="378.90" x2="376.75" y2="381.00" stroke="#111" stroke-width="0.95" />
<line x1="377.88" y1="378.90" x2="377.88" y2="381.00" stroke="#111" stroke-width="0.95" />
<line x1="378.86" y1="378.90" x2="378.86" y2="381.00" stroke="#111" stroke-width="0.95" />
<line x1="379.73" y1="378.90" x2="379.73" y2="381.00" stroke="#111" stroke-width="0.95" />
<line x1="380.50" y1="378.90" x2="380.50" y2="382.30" stroke="#111" stroke-width="1.3" />
<line x1="385.59" y1="378.90" x2="385.59" y2="381.00" stroke="#111" stroke-width="0.95" />
<line x1="388.56" y1="378.90" x2="388.56" y2="381.00" stroke="#111" stroke-width="0.95" />
<line x1="390.67" y1="378.90" x2="390.67" y2="381.00" stroke="#111" stroke-width="0.95" />
<line x1="392.31" y1="378.90" x2="392.31" y2="381.00" stroke="#111" stroke-width="0.95" />
<line x1="393.65" y1="378.90" x2="393.65" y2="381.00" stroke="#111" stroke-width="0.95" />
<line x1="394.78" y1="378.90" x2="394.78" y2="381.00" stroke="#111" stroke-width="0.95" />
<line x1="395.76" y1="378.90" x2="395.76" y2="381.00" stroke="#111" stroke-width="0.95" />
<line x1="396.63" y1="378.90" x2="396.63" y2="381.00" stroke="#111" stroke-width="0.95" />
<line x1="397.40" y1="378.90" x2="397.40" y2="382.30" stroke="#111" stroke-width="1.3" />
<line x1="402.49" y1="378.90" x2="402.49" y2="381.00" stroke="#111" stroke-width="0.95" />
<line x1="405.46" y1="378.90" x2="405.46" y2="381.00" stroke="#111" stroke-width="0.95" />
<line x1="407.57" y1="378.90" x2="407.57" y2="381.00" stroke="#111" stroke-width="0.95" />
<line x1="409.21" y1="378.90" x2="409.21" y2="381.00" stroke="#111" stroke-width="0.95" />
<line x1="410.55" y1="378.90" x2="410.55" y2="381.00" stroke="#111" stroke-width="0.95" />
<line x1="411.68" y1="378.90" x2="411.68" y2="381.00" stroke="#111" stroke-width="0.95" />
<line x1="412.66" y1="378.90" x2="412.66" y2="381.00" stroke="#111" stroke-width="0.95" />
<line x1="413.53" y1="378.90" x2="413.53" y2="381.00" stroke="#111" stroke-width="0.95" />
<line x1="414.30" y1="378.90" x2="414.30" y2="382.30" stroke="#111" stroke-width="1.3" />
<text x="376.80" y="321.20" font-size="8.3" text-anchor="start" font-weight="normal" font-style="normal" fill="#465379" stroke="#465379" stroke-width="0.18" >61.3</text>
<g transform="translate(373.00,395.1) scale(0.84,1)"><text x="0" y="0" font-size="11.4" text-anchor="middle" font-style="italic" fill="#1a1a1a" stroke="#1a1a1a" stroke-width="0.18">Stim2<tspan font-size="8.1" dy="-3.7">VavCre</tspan></text></g>
<rect x="444.00" y="295.20" width="67.00" height="46.40" fill="none" stroke="#7f8399" stroke-width="1.05"/>
<rect x="426.60" y="293.80" width="85.40" height="85.10" fill="none" stroke="#111" stroke-width="1.4"/>
<line x1="423.00" y1="301.90" x2="426.60" y2="301.90" stroke="#111" stroke-width="1.3" />
<line x1="424.40" y1="296.09" x2="426.60" y2="296.09" stroke="#111" stroke-width="0.95" />
<line x1="423.00" y1="321.20" x2="426.60" y2="321.20" stroke="#111" stroke-width="1.3" />
<line x1="424.40" y1="315.39" x2="426.60" y2="315.39" stroke="#111" stroke-width="0.95" />
<line x1="424.40" y1="311.99" x2="426.60" y2="311.99" stroke="#111" stroke-width="0.95" />
<line x1="424.40" y1="309.58" x2="426.60" y2="309.58" stroke="#111" stroke-width="0.95" />
<line x1="424.40" y1="307.71" x2="426.60" y2="307.71" stroke="#111" stroke-width="0.95" />
<line x1="424.40" y1="306.18" x2="426.60" y2="306.18" stroke="#111" stroke-width="0.95" />
<line x1="424.40" y1="304.89" x2="426.60" y2="304.89" stroke="#111" stroke-width="0.95" />
<line x1="424.40" y1="303.77" x2="426.60" y2="303.77" stroke="#111" stroke-width="0.95" />
<line x1="424.40" y1="302.78" x2="426.60" y2="302.78" stroke="#111" stroke-width="0.95" />
<line x1="423.00" y1="340.50" x2="426.60" y2="340.50" stroke="#111" stroke-width="1.3" />
<line x1="424.40" y1="334.69" x2="426.60" y2="334.69" stroke="#111" stroke-width="0.95" />
<line x1="424.40" y1="331.29" x2="426.60" y2="331.29" stroke="#111" stroke-width="0.95" />
<line x1="424.40" y1="328.88" x2="426.60" y2="328.88" stroke="#111" stroke-width="0.95" />
<line x1="424.40" y1="327.01" x2="426.60" y2="327.01" stroke="#111" stroke-width="0.95" />
<line x1="424.40" y1="325.48" x2="426.60" y2="325.48" stroke="#111" stroke-width="0.95" />
<line x1="424.40" y1="324.19" x2="426.60" y2="324.19" stroke="#111" stroke-width="0.95" />
<line x1="424.40" y1="323.07" x2="426.60" y2="323.07" stroke="#111" stroke-width="0.95" />
<line x1="424.40" y1="322.08" x2="426.60" y2="322.08" stroke="#111" stroke-width="0.95" />
<line x1="423.00" y1="359.80" x2="426.60" y2="359.80" stroke="#111" stroke-width="1.3" />
<line x1="424.40" y1="353.99" x2="426.60" y2="353.99" stroke="#111" stroke-width="0.95" />
<line x1="424.40" y1="350.59" x2="426.60" y2="350.59" stroke="#111" stroke-width="0.95" />
<line x1="424.40" y1="348.18" x2="426.60" y2="348.18" stroke="#111" stroke-width="0.95" />
<line x1="424.40" y1="346.31" x2="426.60" y2="346.31" stroke="#111" stroke-width="0.95" />
<line x1="424.40" y1="344.78" x2="426.60" y2="344.78" stroke="#111" stroke-width="0.95" />
<line x1="424.40" y1="343.49" x2="426.60" y2="343.49" stroke="#111" stroke-width="0.95" />
<line x1="424.40" y1="342.37" x2="426.60" y2="342.37" stroke="#111" stroke-width="0.95" />
<line x1="424.40" y1="341.38" x2="426.60" y2="341.38" stroke="#111" stroke-width="0.95" />
<line x1="423.00" y1="379.10" x2="426.60" y2="379.10" stroke="#111" stroke-width="1.3" />
<line x1="424.40" y1="373.29" x2="426.60" y2="373.29" stroke="#111" stroke-width="0.95" />
<line x1="424.40" y1="369.89" x2="426.60" y2="369.89" stroke="#111" stroke-width="0.95" />
<line x1="424.40" y1="367.48" x2="426.60" y2="367.48" stroke="#111" stroke-width="0.95" />
<line x1="424.40" y1="365.61" x2="426.60" y2="365.61" stroke="#111" stroke-width="0.95" />
<line x1="424.40" y1="364.08" x2="426.60" y2="364.08" stroke="#111" stroke-width="0.95" />
<line x1="424.40" y1="362.79" x2="426.60" y2="362.79" stroke="#111" stroke-width="0.95" />
<line x1="424.40" y1="361.67" x2="426.60" y2="361.67" stroke="#111" stroke-width="0.95" />
<line x1="424.40" y1="360.68" x2="426.60" y2="360.68" stroke="#111" stroke-width="0.95" />
<line x1="425.80" y1="378.90" x2="425.80" y2="382.30" stroke="#111" stroke-width="1.3" />
<line x1="430.89" y1="378.90" x2="430.89" y2="381.00" stroke="#111" stroke-width="0.95" />
<line x1="433.86" y1="378.90" x2="433.86" y2="381.00" stroke="#111" stroke-width="0.95" />
<line x1="435.97" y1="378.90" x2="435.97" y2="381.00" stroke="#111" stroke-width="0.95" />
<line x1="437.61" y1="378.90" x2="437.61" y2="381.00" stroke="#111" stroke-width="0.95" />
<line x1="438.95" y1="378.90" x2="438.95" y2="381.00" stroke="#111" stroke-width="0.95" />
<line x1="440.08" y1="378.90" x2="440.08" y2="381.00" stroke="#111" stroke-width="0.95" />
<line x1="441.06" y1="378.90" x2="441.06" y2="381.00" stroke="#111" stroke-width="0.95" />
<line x1="441.93" y1="378.90" x2="441.93" y2="381.00" stroke="#111" stroke-width="0.95" />
<line x1="442.70" y1="378.90" x2="442.70" y2="382.30" stroke="#111" stroke-width="1.3" />
<line x1="447.79" y1="378.90" x2="447.79" y2="381.00" stroke="#111" stroke-width="0.95" />
<line x1="450.76" y1="378.90" x2="450.76" y2="381.00" stroke="#111" stroke-width="0.95" />
<line x1="452.87" y1="378.90" x2="452.87" y2="381.00" stroke="#111" stroke-width="0.95" />
<line x1="454.51" y1="378.90" x2="454.51" y2="381.00" stroke="#111" stroke-width="0.95" />
<line x1="455.85" y1="378.90" x2="455.85" y2="381.00" stroke="#111" stroke-width="0.95" />
<line x1="456.98" y1="378.90" x2="456.98" y2="381.00" stroke="#111" stroke-width="0.95" />
<line x1="457.96" y1="378.90" x2="457.96" y2="381.00" stroke="#111" stroke-width="0.95" />
<line x1="458.83" y1="378.90" x2="458.83" y2="381.00" stroke="#111" stroke-width="0.95" />
<line x1="459.60" y1="378.90" x2="459.60" y2="382.30" stroke="#111" stroke-width="1.3" />
<line x1="464.69" y1="378.90" x2="464.69" y2="381.00" stroke="#111" stroke-width="0.95" />
<line x1="467.66" y1="378.90" x2="467.66" y2="381.00" stroke="#111" stroke-width="0.95" />
<line x1="469.77" y1="378.90" x2="469.77" y2="381.00" stroke="#111" stroke-width="0.95" />
<line x1="471.41" y1="378.90" x2="471.41" y2="381.00" stroke="#111" stroke-width="0.95" />
<line x1="472.75" y1="378.90" x2="472.75" y2="381.00" stroke="#111" stroke-width="0.95" />
<line x1="473.88" y1="378.90" x2="473.88" y2="381.00" stroke="#111" stroke-width="0.95" />
<line x1="474.86" y1="378.90" x2="474.86" y2="381.00" stroke="#111" stroke-width="0.95" />
<line x1="475.73" y1="378.90" x2="475.73" y2="381.00" stroke="#111" stroke-width="0.95" />
<line x1="476.50" y1="378.90" x2="476.50" y2="382.30" stroke="#111" stroke-width="1.3" />
<line x1="481.59" y1="378.90" x2="481.59" y2="381.00" stroke="#111" stroke-width="0.95" />
<line x1="484.56" y1="378.90" x2="484.56" y2="381.00" stroke="#111" stroke-width="0.95" />
<line x1="486.67" y1="378.90" x2="486.67" y2="381.00" stroke="#111" stroke-width="0.95" />
<line x1="488.31" y1="378.90" x2="488.31" y2="381.00" stroke="#111" stroke-width="0.95" />
<line x1="489.65" y1="378.90" x2="489.65" y2="381.00" stroke="#111" stroke-width="0.95" />
<line x1="490.78" y1="378.90" x2="490.78" y2="381.00" stroke="#111" stroke-width="0.95" />
<line x1="491.76" y1="378.90" x2="491.76" y2="381.00" stroke="#111" stroke-width="0.95" />
<line x1="492.63" y1="378.90" x2="492.63" y2="381.00" stroke="#111" stroke-width="0.95" />
<line x1="493.40" y1="378.90" x2="493.40" y2="382.30" stroke="#111" stroke-width="1.3" />
<line x1="498.49" y1="378.90" x2="498.49" y2="381.00" stroke="#111" stroke-width="0.95" />
<line x1="501.46" y1="378.90" x2="501.46" y2="381.00" stroke="#111" stroke-width="0.95" />
<line x1="503.57" y1="378.90" x2="503.57" y2="381.00" stroke="#111" stroke-width="0.95" />
<line x1="505.21" y1="378.90" x2="505.21" y2="381.00" stroke="#111" stroke-width="0.95" />
<line x1="506.55" y1="378.90" x2="506.55" y2="381.00" stroke="#111" stroke-width="0.95" />
<line x1="507.68" y1="378.90" x2="507.68" y2="381.00" stroke="#111" stroke-width="0.95" />
<line x1="508.66" y1="378.90" x2="508.66" y2="381.00" stroke="#111" stroke-width="0.95" />
<line x1="509.53" y1="378.90" x2="509.53" y2="381.00" stroke="#111" stroke-width="0.95" />
<line x1="510.30" y1="378.90" x2="510.30" y2="382.30" stroke="#111" stroke-width="1.3" />
<text x="477.70" y="321.20" font-size="8.3" text-anchor="middle" font-weight="normal" font-style="normal" fill="#465379" stroke="#465379" stroke-width="0.18" >12.6</text>
<g transform="translate(469.50,395.1) scale(0.84,1)"><text x="0" y="0" font-size="11.4" text-anchor="middle" font-style="italic" fill="#1a1a1a" stroke="#1a1a1a" stroke-width="0.18">Stim1/2<tspan font-size="8.1" dy="-3.7">VavCre</tspan></text></g>
<text transform="translate(31.9,366.0) rotate(-90)" font-size="11.3" font-style="italic" fill="#1a1a1a" stroke="#1a1a1a" stroke-width="0.18" textLength="63" lengthAdjust="spacingAndGlyphs">S. aureus (PE)</text>
<defs>
<clipPath id="cf0"><rect x="41.85" y="293.05" width="86.00" height="85.20"/></clipPath>
<clipPath id="cf1"><rect x="138.95" y="294.25" width="84.80" height="84.00"/></clipPath>
<clipPath id="cf2"><rect x="235.05" y="294.45" width="83.70" height="83.80"/></clipPath>
<clipPath id="cf3"><rect x="331.25" y="294.45" width="83.30" height="83.80"/></clipPath>
<clipPath id="cf4"><rect x="427.25" y="294.45" width="84.10" height="83.80"/></clipPath>
</defs>
<g clip-path="url(#cf0)">
<path d="M67.30,381.00 L67.40,361.00 C67.40,347.35 69.68,342.80 73.10,342.80 C76.22,342.80 78.30,347.35 78.30,361.00 L78.50,381.00 Z" fill="#fff" stroke="#333" stroke-width="0.85" stroke-linejoin="round"/>
<path d="M68.20,381.00 L68.30,361.50 C68.30,349.12 70.22,345.00 73.10,345.00 C75.68,345.00 77.40,349.12 77.40,361.50 L77.60,381.00 Z" fill="none" stroke="#777" stroke-width="0.7" stroke-linejoin="round"/>
<path d="M68.00,381.00 L68.20,362.00 C68.20,353.75 70.12,351.00 73.00,351.00 C75.76,351.00 77.60,353.75 77.60,362.00 L77.80,381.00 Z" fill="#0c0c0c" stroke="#1a1a1a" stroke-width="0.7" stroke-linejoin="round"/>
<path d="M72.90,355.00 L73.10,362.00 L72.70,370.00 L73.00,380.00" fill="none" stroke="#a8a8a8" stroke-width="1.0" stroke-linejoin="round"/>
<path d="M68.40,362.00 L68.30,380.00" fill="none" stroke="#777" stroke-width="0.7" stroke-linejoin="round"/>
<path d="M77.60,362.00 L77.70,380.00" fill="none" stroke="#777" stroke-width="0.7" stroke-linejoin="round"/>
<ellipse cx="73.1" cy="348.3" rx="1.5" ry="1.6" fill="#fff" stroke="#444" stroke-width="0.6"/>
</g>
<g clip-path="url(#cf1)">
<path d="M161.20,373.50 L160.20,330.00 C160.20,318.30 165.88,314.40 174.40,314.40 C178.12,314.40 180.60,316.80 180.60,324.00 L178.00,373.50 C178.00,381.06 161.20,381.06 161.20,373.50 Z" fill="#fff" stroke="#444" stroke-width="0.9" stroke-linejoin="round"/>
<path d="M162.10,373.20 L161.30,330.50 C161.30,319.48 166.46,315.80 174.20,315.80 C177.50,315.80 179.70,317.98 179.70,324.50 L177.20,373.20 C177.20,380.00 162.10,380.00 162.10,373.20 Z" fill="none" stroke="#777" stroke-width="0.7" stroke-linejoin="round"/>
<path d="M163.00,372.80 L162.40,331.00 C162.40,320.58 167.00,317.10 173.90,317.10 C176.90,317.10 178.90,319.08 178.90,325.00 L176.50,372.80 C176.50,378.88 163.00,378.88 163.00,372.80 Z" fill="none" stroke="#555" stroke-width="0.7" stroke-linejoin="round"/>
<path d="M164.00,372.40 L163.60,331.00 C163.60,321.40 167.60,318.20 173.60,318.20 C176.36,318.20 178.20,320.02 178.20,325.50 L175.80,372.40 C175.80,377.71 164.00,377.71 164.00,372.40 Z" fill="#0b0b0b" stroke="#222" stroke-width="0.7" stroke-linejoin="round"/>
<path d="M171.50,322.00 L171.20,326.00 L171.80,331.00 L171.00,336.00 L171.60,342.00 L170.80,350.00" fill="none" stroke="#c8c8c8" stroke-width="0.9" stroke-linejoin="round"/>
<path d="M169.50,352.00 L170.20,362.00 L169.60,372.00" fill="none" stroke="#6a6a6a" stroke-width="0.7" stroke-linejoin="round"/>
<ellipse cx="171.3" cy="329.5" rx="0.9" ry="2.2" fill="#e0e0e0" stroke="none" stroke-width="0.6"/>
</g>
<g clip-path="url(#cf2)">
<path d="M259.60,381.00 L259.80,345.00 L260.10,330.00 L260.00,321.00 L258.20,317.50 L257.20,315.40 L259.60,312.50 L264.40,312.00 L266.80,313.50 L272.10,310.40 L276.00,312.50 L276.40,317.30 L274.50,324.00 L273.60,340.00 L272.90,381.00 Z" fill="#fff" stroke="#3a3a3a" stroke-width="0.8" stroke-linejoin="round"/>
<path d="M260.80,381.00 L261.00,345.00 L261.50,330.00 L262.00,322.00 L264.50,317.50 L268.00,315.50 L271.50,314.50 L273.50,317.00 L272.60,325.00 L272.20,340.00 L271.90,381.00 Z" fill="none" stroke="#666" stroke-width="0.7" stroke-linejoin="round"/>
<path d="M262.00,381.00 L262.30,345.00 L263.00,332.00 L264.80,324.00 L268.00,319.80 L270.50,321.50 L271.00,330.00 L270.80,345.00 L270.80,381.00 Z" fill="#c9c9c9" stroke="#444" stroke-width="0.7" stroke-linejoin="round"/>
<path d="M264.00,345.00 L264.60,334.00 L266.50,327.00 L268.30,324.50 L269.50,328.00 L269.50,336.00 L269.20,345.00 Z" fill="#a9a9a9" stroke="#555" stroke-width="0.6" stroke-linejoin="round"/>
<path d="M266.00,338.00 L266.40,332.00 L267.80,330.50 L268.30,334.00 L268.00,338.00 Z" fill="#dcdcdc" stroke="#666" stroke-width="0.5" stroke-linejoin="round"/>
<path d="M260.3,381 L260.4,352 L261.2,344 L263.2,339.5 L269.5,339.5 L271.4,345 L272.0,352 L272.2,381 Z" fill="#0b0b0b"/>
<path d="M266.2,342 L266.6,350 L265.9,358 L266.5,366 L266.0,374 L266.3,381" fill="none" stroke="#bdbdbd" stroke-width="1.1"/>
</g>
<g clip-path="url(#cf3)">
<path d="M354.00,371.50 L352.20,324.00 C352.20,315.30 357.72,312.40 366.00,312.40 C369.78,312.40 372.30,315.30 372.30,324.00 L369.80,371.50 C369.80,378.61 354.00,378.61 354.00,371.50 Z" fill="#fff" stroke="#444" stroke-width="0.9" stroke-linejoin="round"/>
<path d="M355.00,371.00 L353.30,324.50 C353.30,316.48 358.22,313.80 365.60,313.80 C369.14,313.80 371.50,316.48 371.50,324.50 L369.00,371.00 C369.00,377.30 355.00,377.30 355.00,371.00 Z" fill="none" stroke="#777" stroke-width="0.7" stroke-linejoin="round"/>
<path d="M356.00,370.50 L354.50,325.00 C354.50,317.65 358.78,315.20 365.20,315.20 C368.50,315.20 370.70,317.65 370.70,325.00 L368.30,370.50 C368.30,376.04 356.00,376.04 356.00,370.50 Z" fill="none" stroke="#555" stroke-width="0.7" stroke-linejoin="round"/>
<path d="M357.20,370.00 L356.20,325.50 C356.20,318.83 359.64,316.60 364.80,316.60 C367.92,316.60 370.00,318.83 370.00,325.50 L367.60,370.00 C367.60,374.68 357.20,374.68 357.20,370.00 Z" fill="#0b0b0b" stroke="#222" stroke-width="0.7" stroke-linejoin="round"/>
<path d="M365.50,320.00 L364.60,327.00 L365.40,333.00 L364.20,340.00 L364.90,347.00 L363.80,354.00 L364.40,361.00 L363.20,368.00 L363.60,373.00" fill="none" stroke="#cfcfcf" stroke-width="1.0" stroke-linejoin="round"/>
</g>
<g clip-path="url(#cf4)">
<path d="M452.20,381.00 L451.70,339.00 C451.70,324.45 455.10,319.60 460.20,319.60 C462.72,319.60 464.40,322.95 464.40,333.00 L464.60,381.00 Z" fill="#fff" stroke="#3a3a3a" stroke-width="0.8" stroke-linejoin="round"/>
<path d="M453.10,381.00 L452.80,340.00 C452.80,327.25 455.68,323.00 460.00,323.00 C462.10,323.00 463.50,325.75 463.50,334.00 L463.80,381.00 Z" fill="none" stroke="#666" stroke-width="0.7" stroke-linejoin="round"/>
<path d="M454.00,381.00 L453.90,341.00 C453.90,330.20 456.22,326.60 459.70,326.60 C461.44,326.60 462.60,328.83 462.60,335.50 L463.00,381.00 Z" fill="none" stroke="#555" stroke-width="0.7" stroke-linejoin="round"/>
<path d="M455.10,381.00 L455.00,342.00 C455.00,333.15 456.76,330.20 459.40,330.20 C460.72,330.20 461.60,331.90 461.60,337.00 L462.00,381.00 Z" fill="none" stroke="#666" stroke-width="0.6" stroke-linejoin="round"/>
<path d="M452.90,381.00 L453.00,350.00 C453.00,344.75 455.12,343.00 458.30,343.00 C461.24,343.00 463.20,344.75 463.20,350.00 L463.50,381.00 Z" fill="#0c0c0c" stroke="#1a1a1a" stroke-width="0.6" stroke-linejoin="round"/>
<path d="M458.30,347.00 L458.60,356.00 L458.10,366.00 L458.40,380.00" fill="none" stroke="#a8a8a8" stroke-width="1.0" stroke-linejoin="round"/>
<path d="M453.30,356.00 L453.20,380.00" fill="none" stroke="#777" stroke-width="0.7" stroke-linejoin="round"/>
<path d="M463.20,356.00 L463.30,380.00" fill="none" stroke="#777" stroke-width="0.7" stroke-linejoin="round"/>
<ellipse cx="459.1" cy="334.5" rx="0.9" ry="2.4" fill="#eee" stroke="none" stroke-width="0.6"/>
</g>
<g clip-path="url(#cf1)">
<path d="M165.00,326.00 L165.56,329.03 L165.06,331.75 L165.77,334.94 L165.41,337.71 L164.80,340.07 L165.50,342.62 L165.75,344.73 L165.08,347.07 L166.00,349.14 L165.85,352.25 L164.84,355.17 L165.40,357.66 L165.94,359.84 L164.99,362.39 L164.95,365.62 L165.34,369.01 L165.21,371.84 L165.02,374.56 L165.40,376.00" fill="none" stroke="#8a8a8a" stroke-width="0.6"/>
<path d="M168.04,326.00 L167.94,328.35 L168.16,330.67 L167.91,334.01 L167.70,337.15 L167.15,340.24 L167.99,342.96 L168.11,345.26 L167.49,348.59 L167.54,351.14 L168.19,353.72 L167.03,356.30 L167.86,358.44 L167.60,361.93 L167.66,364.67 L167.27,367.79 L167.67,370.70 L167.22,373.63 L167.42,375.89 L167.60,376.00" fill="none" stroke="#8a8a8a" stroke-width="0.6"/>
<path d="M174.82,326.00 L174.77,328.90 L174.48,331.05 L175.33,334.27 L175.22,336.83 L175.48,339.85 L174.89,343.28 L175.55,346.77 L175.46,349.65 L174.85,352.39 L175.45,354.76 L174.48,357.00 L175.33,360.21 L175.40,362.94 L174.71,365.02 L174.90,367.45 L174.48,369.71 L175.48,372.21 L175.30,375.69 L175.00,376.00" fill="none" stroke="#8a8a8a" stroke-width="0.6"/>
</g>
<g clip-path="url(#cf1)">
<path d="M170.85,338.00 L169.73,340.21 L169.92,343.71 L170.48,345.89 L170.77,348.41 L170.85,350.76 L170.42,353.23 L170.52,356.63 L170.55,360.02 L170.76,362.09 L170.07,364.98 L170.72,367.26 L170.83,370.13 L170.85,373.30 L170.30,376.00" fill="none" stroke="#b0b0b0" stroke-width="0.5"/>
<path d="M172.64,338.00 L172.11,340.92 L172.17,344.35 L172.95,347.53 L171.97,350.50 L172.60,353.74 L171.86,356.02 L171.84,358.81 L172.41,362.20 L172.29,364.98 L172.90,367.97 L172.25,370.43 L172.16,373.30 L172.40,376.00" fill="none" stroke="#b0b0b0" stroke-width="0.5"/>
</g>
<g clip-path="url(#cf3)">
<path d="M356.51,326.00 L356.47,329.42 L356.11,331.55 L356.04,334.18 L355.63,336.38 L355.67,339.05 L355.43,341.73 L356.25,343.86 L356.02,346.49 L355.83,349.59 L356.34,351.68 L356.19,354.56 L356.56,357.49 L356.31,360.04 L356.09,362.59 L355.78,365.58 L355.97,367.71 L356.11,370.79 L356.00,372.00" fill="none" stroke="#8a8a8a" stroke-width="0.6"/>
<path d="M358.77,326.00 L358.21,328.27 L358.98,330.76 L358.14,333.05 L358.05,335.20 L358.69,337.61 L358.40,340.84 L358.35,343.40 L358.93,345.86 L358.31,348.68 L358.94,350.84 L358.99,353.90 L358.65,356.26 L358.71,359.64 L358.20,363.05 L358.07,366.52 L358.03,369.14 L358.60,372.00" fill="none" stroke="#8a8a8a" stroke-width="0.6"/>
<path d="M368.82,326.00 L368.97,329.46 L368.65,332.88 L368.90,336.37 L369.17,338.89 L368.23,341.45 L368.56,343.56 L369.12,345.86 L368.26,349.29 L368.63,351.44 L368.65,353.70 L368.30,356.91 L369.08,359.55 L368.41,362.21 L368.98,365.55 L368.83,368.90 L368.83,371.51 L368.60,372.00" fill="none" stroke="#8a8a8a" stroke-width="0.6"/>
</g>
<g clip-path="url(#cf3)">
<path d="M361.85,330.00 L361.22,333.26 L361.23,336.76 L361.11,339.76 L361.18,342.90 L361.87,345.96 L361.53,349.11 L362.19,352.41 L361.62,354.58 L361.89,358.02 L361.37,360.68 L361.10,364.11 L362.01,367.25 L361.39,369.49 L361.60,370.00" fill="none" stroke="#a8a8a8" stroke-width="0.5"/>
<path d="M367.05,330.00 L367.47,332.55 L366.78,335.94 L366.48,339.28 L367.20,341.42 L367.38,344.62 L367.43,348.11 L367.29,350.51 L366.51,353.90 L366.59,356.64 L366.98,358.85 L367.57,361.86 L367.01,364.06 L367.32,367.55 L367.00,370.00" fill="none" stroke="#a8a8a8" stroke-width="0.5"/>
</g>
<g clip-path="url(#cf0)">
<path d="M70.25,358.00 L70.81,361.39 L70.85,363.71 L69.85,366.67 L70.11,370.10 L70.31,372.55 L69.95,375.44 L70.80,378.47 L70.40,380.00" fill="none" stroke="#6a6a6a" stroke-width="0.5"/>
<path d="M75.95,358.00 L75.99,360.94 L75.43,363.21 L75.12,365.91 L75.76,369.37 L75.70,371.52 L75.23,374.14 L75.55,376.38 L75.68,378.49 L75.60,380.00" fill="none" stroke="#6a6a6a" stroke-width="0.5"/>
</g>
<g clip-path="url(#cf2)">
<path d="M262.90,348.00 L262.25,350.30 L262.07,353.21 L262.92,356.37 L262.82,358.43 L262.76,361.19 L263.18,364.62 L263.01,367.23 L263.17,370.41 L263.13,372.45 L262.16,374.79 L263.01,377.68 L262.60,380.00" fill="none" stroke="#7a7a7a" stroke-width="0.5"/>
<path d="M269.44,348.00 L269.04,351.24 L269.35,354.69 L269.15,357.51 L269.01,359.58 L269.67,362.48 L270.02,365.70 L270.02,368.33 L270.06,370.64 L270.13,373.01 L269.51,375.59 L269.07,378.37 L269.60,380.00" fill="none" stroke="#7a7a7a" stroke-width="0.5"/>
</g>
<g clip-path="url(#cf4)">
<path d="M455.78,350.00 L456.15,353.05 L455.08,355.35 L455.40,358.58 L455.98,361.14 L456.09,363.42 L455.09,366.15 L455.69,369.53 L456.01,371.65 L455.89,374.81 L456.19,377.80 L456.17,379.81 L455.60,380.00" fill="none" stroke="#7a7a7a" stroke-width="0.5"/>
<path d="M460.90,350.00 L461.01,352.92 L461.45,355.89 L460.72,358.68 L460.96,361.27 L461.72,364.39 L461.24,367.56 L461.45,369.81 L461.80,372.21 L461.76,374.47 L461.54,376.49 L461.29,379.01 L461.20,380.00" fill="none" stroke="#7a7a7a" stroke-width="0.5"/>
</g>
<line x1="54.30" y1="451.40" x2="54.30" y2="557.70" stroke="#111" stroke-width="1.2" />
<line x1="53.70" y1="557.10" x2="132.60" y2="557.10" stroke="#111" stroke-width="1.4" />
<line x1="51.10" y1="557.10" x2="54.30" y2="557.10" stroke="#111" stroke-width="1.1" />
<text x="48.30" y="560.10" font-size="9.2" text-anchor="end" font-weight="normal" font-style="normal" fill="#1a1a1a" stroke="#1a1a1a" stroke-width="0.18" >0</text>
<line x1="51.10" y1="527.10" x2="54.30" y2="527.10" stroke="#111" stroke-width="1.1" />
<text x="48.30" y="530.10" font-size="9.2" text-anchor="end" font-weight="normal" font-style="normal" fill="#1a1a1a" stroke="#1a1a1a" stroke-width="0.18" >20</text>
<line x1="51.10" y1="497.10" x2="54.30" y2="497.10" stroke="#111" stroke-width="1.1" />
<text x="48.30" y="500.10" font-size="9.2" text-anchor="end" font-weight="normal" font-style="normal" fill="#1a1a1a" stroke="#1a1a1a" stroke-width="0.18" >40</text>
<line x1="51.10" y1="467.10" x2="54.30" y2="467.10" stroke="#111" stroke-width="1.1" />
<text x="48.30" y="470.10" font-size="9.2" text-anchor="end" font-weight="normal" font-style="normal" fill="#1a1a1a" stroke="#1a1a1a" stroke-width="0.18" >60</text>
<rect x="56.90" y="488.70" width="15.00" height="68.40" fill="#b3002d"/>
<line x1="64.40" y1="487.20" x2="64.40" y2="489.20" stroke="#222" stroke-width="1.3" />
<line x1="60.60" y1="487.20" x2="68.20" y2="487.20" stroke="#222" stroke-width="1.4" />
<line x1="64.40" y1="557.10" x2="64.40" y2="560.50" stroke="#111" stroke-width="1.1" />
<rect x="76.20" y="522.15" width="15.30" height="34.95" fill="#2c5290"/>
<line x1="83.85" y1="513.45" x2="83.85" y2="522.65" stroke="#222" stroke-width="1.3" />
<line x1="80.05" y1="513.45" x2="87.65" y2="513.45" stroke="#222" stroke-width="1.4" />
<line x1="83.85" y1="557.10" x2="83.85" y2="560.50" stroke="#111" stroke-width="1.1" />
<rect x="96.00" y="475.80" width="15.00" height="81.30" fill="#67ab43"/>
<line x1="103.50" y1="461.10" x2="103.50" y2="476.30" stroke="#222" stroke-width="1.3" />
<line x1="99.70" y1="461.10" x2="107.30" y2="461.10" stroke="#222" stroke-width="1.4" />
<line x1="103.50" y1="557.10" x2="103.50" y2="560.50" stroke="#111" stroke-width="1.1" />
<rect x="115.10" y="536.25" width="15.60" height="20.85" fill="#5b2570"/>
<line x1="122.90" y1="534.60" x2="122.90" y2="536.75" stroke="#222" stroke-width="1.3" />
<line x1="119.10" y1="534.60" x2="126.70" y2="534.60" stroke="#222" stroke-width="1.4" />
<line x1="122.90" y1="557.10" x2="122.90" y2="560.50" stroke="#111" stroke-width="1.1" />
<text x="65.20" y="434.00" font-size="10.7" text-anchor="start" font-weight="bold" font-style="normal" fill="#111" stroke="#111" stroke-width="0.18" >Serum Ops</text>
<line x1="63.80" y1="453.90" x2="122.20" y2="453.90" stroke="#2a2a2a" stroke-width="1.6" />
<line x1="63.80" y1="458.70" x2="83.70" y2="458.70" stroke="#2a2a2a" stroke-width="1.6" />
<circle cx="93" cy="448" r="1.4" fill="#222"/>
<text transform="translate(31.3,527.7) rotate(-90)" font-size="10.3" fill="#1a1a1a" stroke="#1a1a1a" stroke-width="0.18" textLength="48.5" lengthAdjust="spacingAndGlyphs">%PE+ PMN</text>
<line x1="171.25" y1="448.20" x2="171.25" y2="557.90" stroke="#111" stroke-width="1.2" />
<line x1="170.65" y1="557.30" x2="251.70" y2="557.30" stroke="#111" stroke-width="1.4" />
<line x1="168.05" y1="557.30" x2="171.25" y2="557.30" stroke="#111" stroke-width="1.1" />
<text x="165.25" y="560.30" font-size="9.2" text-anchor="end" font-weight="normal" font-style="normal" fill="#1a1a1a" stroke="#1a1a1a" stroke-width="0.18" >0</text>
<line x1="168.05" y1="536.10" x2="171.25" y2="536.10" stroke="#111" stroke-width="1.1" />
<text x="165.25" y="539.10" font-size="9.2" text-anchor="end" font-weight="normal" font-style="normal" fill="#1a1a1a" stroke="#1a1a1a" stroke-width="0.18" >10</text>
<line x1="168.05" y1="514.90" x2="171.25" y2="514.90" stroke="#111" stroke-width="1.1" />
<text x="165.25" y="517.90" font-size="9.2" text-anchor="end" font-weight="normal" font-style="normal" fill="#1a1a1a" stroke="#1a1a1a" stroke-width="0.18" >20</text>
<line x1="168.05" y1="493.70" x2="171.25" y2="493.70" stroke="#111" stroke-width="1.1" />
<text x="165.25" y="496.70" font-size="9.2" text-anchor="end" font-weight="normal" font-style="normal" fill="#1a1a1a" stroke="#1a1a1a" stroke-width="0.18" >30</text>
<line x1="168.05" y1="472.50" x2="171.25" y2="472.50" stroke="#111" stroke-width="1.1" />
<text x="165.25" y="475.50" font-size="9.2" text-anchor="end" font-weight="normal" font-style="normal" fill="#1a1a1a" stroke="#1a1a1a" stroke-width="0.18" >40</text>
<line x1="168.05" y1="451.30" x2="171.25" y2="451.30" stroke="#111" stroke-width="1.1" />
<text x="165.25" y="454.30" font-size="9.2" text-anchor="end" font-weight="normal" font-style="normal" fill="#1a1a1a" stroke="#1a1a1a" stroke-width="0.18" >50</text>
<rect x="173.20" y="462.75" width="15.60" height="94.55" fill="#b3002d"/>
<line x1="181.00" y1="461.48" x2="181.00" y2="463.25" stroke="#222" stroke-width="1.3" />
<line x1="177.20" y1="461.48" x2="184.80" y2="461.48" stroke="#222" stroke-width="1.4" />
<line x1="181.00" y1="557.30" x2="181.00" y2="560.70" stroke="#111" stroke-width="1.1" />
<rect x="193.10" y="501.97" width="16.30" height="55.33" fill="#2c5290"/>
<line x1="201.25" y1="500.70" x2="201.25" y2="502.47" stroke="#222" stroke-width="1.3" />
<line x1="197.45" y1="500.70" x2="205.05" y2="500.70" stroke="#222" stroke-width="1.4" />
<line x1="201.25" y1="557.30" x2="201.25" y2="560.70" stroke="#111" stroke-width="1.1" />
<rect x="213.50" y="463.81" width="16.10" height="93.49" fill="#67ab43"/>
<line x1="221.55" y1="460.42" x2="221.55" y2="464.31" stroke="#222" stroke-width="1.3" />
<line x1="217.75" y1="460.42" x2="225.35" y2="460.42" stroke="#222" stroke-width="1.4" />
<line x1="221.55" y1="557.30" x2="221.55" y2="560.70" stroke="#111" stroke-width="1.1" />
<rect x="233.90" y="523.80" width="16.00" height="33.50" fill="#5b2570"/>
<line x1="241.90" y1="520.41" x2="241.90" y2="524.30" stroke="#222" stroke-width="1.3" />
<line x1="238.10" y1="520.41" x2="245.70" y2="520.41" stroke="#222" stroke-width="1.4" />
<line x1="241.90" y1="557.30" x2="241.90" y2="560.70" stroke="#111" stroke-width="1.1" />
<text x="190.60" y="434.00" font-size="10.7" text-anchor="start" font-weight="bold" font-style="normal" fill="#111" stroke="#111" stroke-width="0.18" >IgG Ops</text>
<line x1="181.20" y1="453.50" x2="241.60" y2="453.50" stroke="#2a2a2a" stroke-width="1.6" />
<line x1="200.70" y1="449.30" x2="241.60" y2="449.30" stroke="#2a2a2a" stroke-width="1.6" />
<line x1="181.20" y1="457.80" x2="200.70" y2="457.80" stroke="#2a2a2a" stroke-width="1.6" />
<circle cx="221" cy="443.3" r="1.4" fill="#222"/>
<text transform="translate(148.0,527.7) rotate(-90)" font-size="10.3" fill="#1a1a1a" stroke="#1a1a1a" stroke-width="0.18" textLength="48.5" lengthAdjust="spacingAndGlyphs">%PE+ PMN</text>
<line x1="290.30" y1="448.00" x2="290.30" y2="557.80" stroke="#111" stroke-width="1.2" />
<line x1="289.70" y1="557.20" x2="365.30" y2="557.20" stroke="#111" stroke-width="1.4" />
<line x1="287.10" y1="557.20" x2="290.30" y2="557.20" stroke="#111" stroke-width="1.1" />
<text x="284.30" y="560.20" font-size="9.2" text-anchor="end" font-weight="normal" font-style="normal" fill="#1a1a1a" stroke="#1a1a1a" stroke-width="0.18" >0</text>
<line x1="287.10" y1="522.00" x2="290.30" y2="522.00" stroke="#111" stroke-width="1.1" />
<text x="284.30" y="525.00" font-size="9.2" text-anchor="end" font-weight="normal" font-style="normal" fill="#1a1a1a" stroke="#1a1a1a" stroke-width="0.18" >10</text>
<line x1="287.10" y1="486.80" x2="290.30" y2="486.80" stroke="#111" stroke-width="1.1" />
<text x="284.30" y="489.80" font-size="9.2" text-anchor="end" font-weight="normal" font-style="normal" fill="#1a1a1a" stroke="#1a1a1a" stroke-width="0.18" >20</text>
<line x1="287.10" y1="451.60" x2="290.30" y2="451.60" stroke="#111" stroke-width="1.1" />
<text x="284.30" y="454.60" font-size="9.2" text-anchor="end" font-weight="normal" font-style="normal" fill="#1a1a1a" stroke="#1a1a1a" stroke-width="0.18" >30</text>
<rect x="292.20" y="460.75" width="14.50" height="96.45" fill="#b3002d"/>
<line x1="299.45" y1="459.34" x2="299.45" y2="461.25" stroke="#222" stroke-width="1.3" />
<line x1="295.65" y1="459.34" x2="303.25" y2="459.34" stroke="#222" stroke-width="1.4" />
<line x1="299.45" y1="557.20" x2="299.45" y2="560.60" stroke="#111" stroke-width="1.1" />
<rect x="311.00" y="517.42" width="14.80" height="39.78" fill="#2c5290"/>
<line x1="318.40" y1="512.32" x2="318.40" y2="517.92" stroke="#222" stroke-width="1.3" />
<line x1="314.60" y1="512.32" x2="322.20" y2="512.32" stroke="#222" stroke-width="1.4" />
<line x1="318.40" y1="557.20" x2="318.40" y2="560.60" stroke="#111" stroke-width="1.1" />
<rect x="329.90" y="473.78" width="14.80" height="83.42" fill="#67ab43"/>
<line x1="337.30" y1="467.44" x2="337.30" y2="474.28" stroke="#222" stroke-width="1.3" />
<line x1="333.50" y1="467.44" x2="341.10" y2="467.44" stroke="#222" stroke-width="1.4" />
<line x1="337.30" y1="557.20" x2="337.30" y2="560.60" stroke="#111" stroke-width="1.1" />
<rect x="348.50" y="536.78" width="15.00" height="20.42" fill="#5b2570"/>
<line x1="356.00" y1="531.50" x2="356.00" y2="537.28" stroke="#222" stroke-width="1.3" />
<line x1="352.20" y1="531.50" x2="359.80" y2="531.50" stroke="#222" stroke-width="1.4" />
<line x1="356.00" y1="557.20" x2="356.00" y2="560.60" stroke="#111" stroke-width="1.1" />
<text x="304.30" y="434.00" font-size="10.7" text-anchor="start" font-weight="bold" font-style="normal" fill="#111" stroke="#111" stroke-width="0.18" >Zymosan</text>
<line x1="298.90" y1="452.90" x2="359.00" y2="452.90" stroke="#2a2a2a" stroke-width="1.6" />
<line x1="318.20" y1="448.80" x2="359.00" y2="448.80" stroke="#2a2a2a" stroke-width="1.6" />
<line x1="298.90" y1="457.50" x2="318.10" y2="457.50" stroke="#2a2a2a" stroke-width="1.6" />
<circle cx="338.4" cy="442.7" r="1.4" fill="#222"/>
<text transform="translate(267.1,527.7) rotate(-90)" font-size="10.3" fill="#1a1a1a" stroke="#1a1a1a" stroke-width="0.18" textLength="48.5" lengthAdjust="spacingAndGlyphs">%PE+ PMN</text>
<rect x="368.6" y="475.00" width="14.6" height="8.1" fill="#b5002e"/>
<text x="386.40" y="481.90" font-size="8.4" text-anchor="start" font-weight="normal" font-style="normal" fill="#111" stroke="#111" stroke-width="0.18" >WT</text>
<rect x="368.6" y="491.00" width="14.6" height="8.1" fill="#2c5290"/>
<text x="386.40" y="497.90" font-size="8.4" text-anchor="start" font-weight="normal" font-style="normal" fill="#111" stroke="#111" stroke-width="0.18" ><tspan font-style="italic">Stim1<tspan font-size="6.0" dy="-3.8">VavCre</tspan></tspan></text>
<rect x="368.6" y="506.70" width="14.6" height="8.1" fill="#67ab43"/>
<text x="386.40" y="513.60" font-size="8.4" text-anchor="start" font-weight="normal" font-style="normal" fill="#111" stroke="#111" stroke-width="0.18" ><tspan font-style="italic">Stim2<tspan font-size="6.0" dy="-3.8">VavCre</tspan></tspan></text>
<rect x="368.6" y="522.40" width="14.6" height="8.1" fill="#5a286c"/>
<text x="386.40" y="529.30" font-size="8.4" text-anchor="start" font-weight="normal" font-style="normal" fill="#111" stroke="#111" stroke-width="0.18" ><tspan font-style="italic">Stim1/2<tspan font-size="6.0" dy="-3.8">VavCre</tspan></tspan></text>
<rect x="0" y="0" width="520" height="1.5" fill="#000"/>
<rect x="0" y="0" width="1.4" height="570" fill="#000"/>
<rect x="518.2" y="0" width="1.8" height="570" fill="#000"/>
<rect x="0" y="568.1" width="520" height="1.9" fill="#000"/>
</svg>
</body></html>
